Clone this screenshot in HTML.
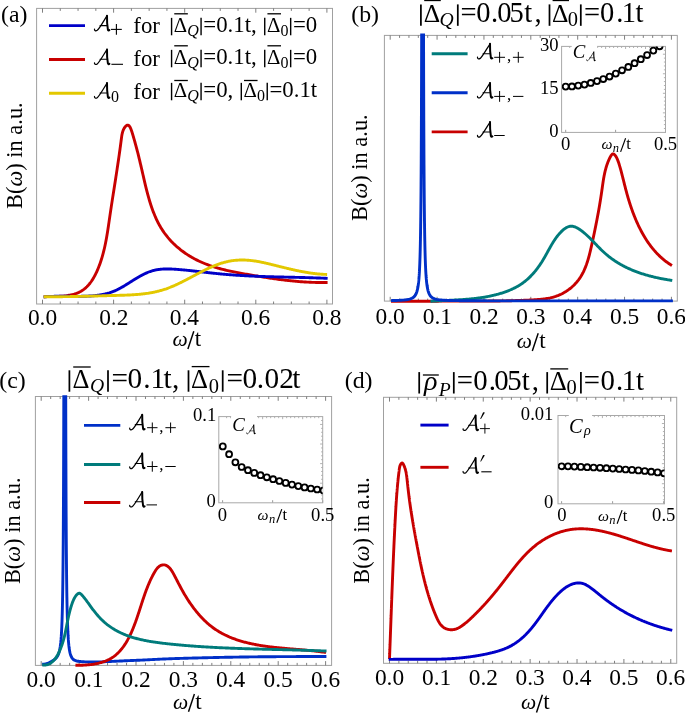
<!DOCTYPE html><html><head><meta charset="utf-8"><style>html,body{margin:0;padding:0;background:#fff;}svg{display:block;will-change:transform;}text{font-family:"Liberation Serif",serif;fill:#000;font-kerning:none;}</style></head><body><svg width="685" height="713" viewBox="0 0 685 713"><defs><clipPath id="ca"><rect x="37" y="9" width="295" height="294.5"/></clipPath><clipPath id="cb"><rect x="384.9" y="33.6" width="292" height="272"/></clipPath><clipPath id="cc"><rect x="35.9" y="395.2" width="295.2" height="274"/></clipPath><clipPath id="cd"><rect x="384" y="397.8" width="292.1" height="270"/></clipPath><clipPath id="ib"><rect x="561.6" y="46.4" width="103.9" height="86"/></clipPath><clipPath id="ic"><rect x="218.8" y="416.6" width="103.9" height="86.2"/></clipPath><clipPath id="id"><rect x="558" y="415.5" width="106.5" height="88.1"/></clipPath></defs>
<rect x="36.6" y="8.4" width="295.9" height="295.6" fill="none" stroke="#a0a0a0" stroke-width="1"/>
<line x1="60.28" y1="304" x2="60.28" y2="301.5" stroke="#707070" stroke-width="0.9"/>
<line x1="60.28" y1="8.4" x2="60.28" y2="10.9" stroke="#707070" stroke-width="0.9"/>
<line x1="78.05" y1="304" x2="78.05" y2="301.5" stroke="#707070" stroke-width="0.9"/>
<line x1="78.05" y1="8.4" x2="78.05" y2="10.9" stroke="#707070" stroke-width="0.9"/>
<line x1="95.83" y1="304" x2="95.83" y2="301.5" stroke="#707070" stroke-width="0.9"/>
<line x1="95.83" y1="8.4" x2="95.83" y2="10.9" stroke="#707070" stroke-width="0.9"/>
<line x1="131.38" y1="304" x2="131.38" y2="301.5" stroke="#707070" stroke-width="0.9"/>
<line x1="131.38" y1="8.4" x2="131.38" y2="10.9" stroke="#707070" stroke-width="0.9"/>
<line x1="149.15" y1="304" x2="149.15" y2="301.5" stroke="#707070" stroke-width="0.9"/>
<line x1="149.15" y1="8.4" x2="149.15" y2="10.9" stroke="#707070" stroke-width="0.9"/>
<line x1="166.93" y1="304" x2="166.93" y2="301.5" stroke="#707070" stroke-width="0.9"/>
<line x1="166.93" y1="8.4" x2="166.93" y2="10.9" stroke="#707070" stroke-width="0.9"/>
<line x1="202.47" y1="304" x2="202.47" y2="301.5" stroke="#707070" stroke-width="0.9"/>
<line x1="202.47" y1="8.4" x2="202.47" y2="10.9" stroke="#707070" stroke-width="0.9"/>
<line x1="220.25" y1="304" x2="220.25" y2="301.5" stroke="#707070" stroke-width="0.9"/>
<line x1="220.25" y1="8.4" x2="220.25" y2="10.9" stroke="#707070" stroke-width="0.9"/>
<line x1="238.03" y1="304" x2="238.03" y2="301.5" stroke="#707070" stroke-width="0.9"/>
<line x1="238.03" y1="8.4" x2="238.03" y2="10.9" stroke="#707070" stroke-width="0.9"/>
<line x1="273.58" y1="304" x2="273.58" y2="301.5" stroke="#707070" stroke-width="0.9"/>
<line x1="273.58" y1="8.4" x2="273.58" y2="10.9" stroke="#707070" stroke-width="0.9"/>
<line x1="291.35" y1="304" x2="291.35" y2="301.5" stroke="#707070" stroke-width="0.9"/>
<line x1="291.35" y1="8.4" x2="291.35" y2="10.9" stroke="#707070" stroke-width="0.9"/>
<line x1="309.12" y1="304" x2="309.12" y2="301.5" stroke="#707070" stroke-width="0.9"/>
<line x1="309.12" y1="8.4" x2="309.12" y2="10.9" stroke="#707070" stroke-width="0.9"/>
<line x1="42.5" y1="304" x2="42.5" y2="299.7" stroke="#707070" stroke-width="0.9"/>
<line x1="42.5" y1="8.4" x2="42.5" y2="12.7" stroke="#707070" stroke-width="0.9"/>
<line x1="113.6" y1="304" x2="113.6" y2="299.7" stroke="#707070" stroke-width="0.9"/>
<line x1="113.6" y1="8.4" x2="113.6" y2="12.7" stroke="#707070" stroke-width="0.9"/>
<line x1="184.7" y1="304" x2="184.7" y2="299.7" stroke="#707070" stroke-width="0.9"/>
<line x1="184.7" y1="8.4" x2="184.7" y2="12.7" stroke="#707070" stroke-width="0.9"/>
<line x1="255.8" y1="304" x2="255.8" y2="299.7" stroke="#707070" stroke-width="0.9"/>
<line x1="255.8" y1="8.4" x2="255.8" y2="12.7" stroke="#707070" stroke-width="0.9"/>
<line x1="326.9" y1="304" x2="326.9" y2="299.7" stroke="#707070" stroke-width="0.9"/>
<line x1="326.9" y1="8.4" x2="326.9" y2="12.7" stroke="#707070" stroke-width="0.9"/>
<text x="27.88" y="325.3" style="font-size:23.4px;" >0.0</text>
<text x="99.17" y="325.3" style="font-size:23.4px;" >0.2</text>
<text x="169.81" y="325.3" style="font-size:23.4px;" >0.4</text>
<text x="241.08" y="325.3" style="font-size:23.4px;" >0.6</text>
<text x="312.28" y="325.3" style="font-size:23.4px;" >0.8</text>
<text x="172.39" y="345.7" style="font-size:21.5px;font-style:italic;" >ω</text>
<line x1="193.8" y1="331.3" x2="187.9" y2="349" stroke="#000" stroke-width="1.45"/>
<text x="194.77" y="345.7" style="font-size:23px;" >t</text>
<text transform="translate(21.6,155.6) rotate(-90)" text-anchor="middle" style="font-size:22.4px">B(<tspan style="font-style:italic">ω</tspan>) in a.u.</text>
<text x="1" y="21.9" style="font-size:23.8px;" >(a)</text>
<line x1="49" y1="25.6" x2="85" y2="25.6" stroke="#0000c8" stroke-width="2.9"/>
<g transform="translate(94,30.7) scale(1)" fill="none" stroke="#000" stroke-linecap="round"><path d="M0.5,-1.6 C0.2,-0.2 1.6,0.6 3.2,-0.4 C5.5,-2.2 9.5,-9.5 13.0,-15.0" stroke-width="1.25"/><path d="M13.0,-15.0 C12.9,-10.5 13.3,-4.5 13.9,-1.0 C14.1,0.0 14.9,0.0 15.4,-0.6" stroke-width="2.0"/><path d="M6.0,-5.1 L13.3,-5.1" stroke-width="1.05"/></g>
<line x1="111" y1="29.4" x2="121.8" y2="29.4" stroke="#000" stroke-width="1.1"/>
<line x1="116.4" y1="24" x2="116.4" y2="34.8" stroke="#000" stroke-width="1.1"/>
<text x="133.3" y="32.5" style="font-size:22.8px;" >for</text>
<line x1="49" y1="59.5" x2="85" y2="59.5" stroke="#c80000" stroke-width="2.9"/>
<g transform="translate(94,64.4) scale(1)" fill="none" stroke="#000" stroke-linecap="round"><path d="M0.5,-1.6 C0.2,-0.2 1.6,0.6 3.2,-0.4 C5.5,-2.2 9.5,-9.5 13.0,-15.0" stroke-width="1.25"/><path d="M13.0,-15.0 C12.9,-10.5 13.3,-4.5 13.9,-1.0 C14.1,0.0 14.9,0.0 15.4,-0.6" stroke-width="2.0"/><path d="M6.0,-5.1 L13.3,-5.1" stroke-width="1.05"/></g>
<line x1="111.4" y1="64.3" x2="123" y2="64.3" stroke="#000" stroke-width="1.1"/>
<text x="133.3" y="66.1" style="font-size:22.8px;" >for</text>
<line x1="49" y1="93.3" x2="85" y2="93.3" stroke="#e3c800" stroke-width="2.9"/>
<g transform="translate(94,98.1) scale(1)" fill="none" stroke="#000" stroke-linecap="round"><path d="M0.5,-1.6 C0.2,-0.2 1.6,0.6 3.2,-0.4 C5.5,-2.2 9.5,-9.5 13.0,-15.0" stroke-width="1.25"/><path d="M13.0,-15.0 C12.9,-10.5 13.3,-4.5 13.9,-1.0 C14.1,0.0 14.9,0.0 15.4,-0.6" stroke-width="2.0"/><path d="M6.0,-5.1 L13.3,-5.1" stroke-width="1.05"/></g>
<text x="111.1" y="101.9" style="font-size:16px;" >0</text>
<text x="133.3" y="99.2" style="font-size:22.8px;" >for</text>
<line x1="171.58" y1="17.85" x2="171.58" y2="35.29" stroke="#000" stroke-width="1.41"/>
<text x="173.86" y="32.1" style="font-size:20.8px;" >Δ</text>
<line x1="174.26" y1="13.8" x2="187.84" y2="13.8" stroke="#000" stroke-width="1.3"/>
<text x="187.24" y="35.5" style="font-size:16px;font-style:italic;" >Q</text>
<line x1="201.07" y1="17.85" x2="201.07" y2="35.29" stroke="#000" stroke-width="1.41"/>
<text x="203.36" y="32.1" style="font-size:22.8px;" >=0.1t, </text>
<line x1="264.73" y1="17.85" x2="264.73" y2="35.29" stroke="#000" stroke-width="1.41"/>
<text x="267.02" y="32.1" style="font-size:20.8px;" >Δ</text>
<line x1="267.42" y1="13.8" x2="280.99" y2="13.8" stroke="#000" stroke-width="1.3"/>
<text x="280.39" y="35.5" style="font-size:16px;" >0</text>
<line x1="290.67" y1="17.85" x2="290.67" y2="35.29" stroke="#000" stroke-width="1.41"/>
<text x="292.96" y="32.1" style="font-size:22.8px;" >=0</text>
<line x1="171.58" y1="49.85" x2="171.58" y2="67.29" stroke="#000" stroke-width="1.41"/>
<text x="173.86" y="64.1" style="font-size:20.8px;" >Δ</text>
<line x1="174.26" y1="45.8" x2="187.84" y2="45.8" stroke="#000" stroke-width="1.3"/>
<text x="187.24" y="67.5" style="font-size:16px;font-style:italic;" >Q</text>
<line x1="201.07" y1="49.85" x2="201.07" y2="67.29" stroke="#000" stroke-width="1.41"/>
<text x="203.36" y="64.1" style="font-size:22.8px;" >=0.1t, </text>
<line x1="264.73" y1="49.85" x2="264.73" y2="67.29" stroke="#000" stroke-width="1.41"/>
<text x="267.02" y="64.1" style="font-size:20.8px;" >Δ</text>
<line x1="267.42" y1="45.8" x2="280.99" y2="45.8" stroke="#000" stroke-width="1.3"/>
<text x="280.39" y="67.5" style="font-size:16px;" >0</text>
<line x1="290.67" y1="49.85" x2="290.67" y2="67.29" stroke="#000" stroke-width="1.41"/>
<text x="292.96" y="64.1" style="font-size:22.8px;" >=0</text>
<line x1="171.58" y1="82.85" x2="171.58" y2="100.29" stroke="#000" stroke-width="1.41"/>
<text x="173.86" y="97.1" style="font-size:20.8px;" >Δ</text>
<line x1="174.26" y1="80.5" x2="187.84" y2="80.5" stroke="#000" stroke-width="1.3"/>
<text x="187.24" y="100.5" style="font-size:16px;font-style:italic;" >Q</text>
<line x1="201.07" y1="82.85" x2="201.07" y2="100.29" stroke="#000" stroke-width="1.41"/>
<text x="203.36" y="97.1" style="font-size:22.8px;" >=0, </text>
<line x1="241.3" y1="82.85" x2="241.3" y2="100.29" stroke="#000" stroke-width="1.41"/>
<text x="243.58" y="97.1" style="font-size:20.8px;" >Δ</text>
<line x1="243.98" y1="80.5" x2="257.56" y2="80.5" stroke="#000" stroke-width="1.3"/>
<text x="256.96" y="100.5" style="font-size:16px;" >0</text>
<line x1="267.24" y1="82.85" x2="267.24" y2="100.29" stroke="#000" stroke-width="1.41"/>
<text x="269.52" y="97.1" style="font-size:22.8px;" >=0.1t</text>
<path d="M43.76,296.75 L44.85,296.71 L45.98,296.67 L47.13,296.64 L48.32,296.62 L49.52,296.6 L50.76,296.58 L52.01,296.55 L53.28,296.53 L54.56,296.5 L55.86,296.46 L57.18,296.41 L58.49,296.36 L59.82,296.29 L61.15,296.2 L62.48,296.1 L63.82,295.98 L65.14,295.83 L66.47,295.67 L67.78,295.48 L69.09,295.26 L70.38,295.02 L71.66,294.74 L72.93,294.43 L74.17,294.09 L75.39,293.71 L76.59,293.29 L77.76,292.83 L78.9,292.33 L80.01,291.78 L81.09,291.19 L82.14,290.55 L83.15,289.86 L84.13,289.14 L85.08,288.37 L85.99,287.56 L86.88,286.72 L87.74,285.84 L88.57,284.92 L89.37,283.98 L90.14,283.01 L90.89,282 L91.61,280.98 L92.31,279.92 L92.99,278.85 L93.64,277.75 L94.27,276.64 L94.88,275.51 L95.47,274.36 L96.04,273.2 L96.59,272.04 L97.12,270.86 L97.64,269.67 L98.14,268.48 L98.62,267.28 L99.09,266.08 L99.54,264.88 L99.98,263.67 L100.4,262.46 L100.81,261.25 L101.21,260.03 L101.6,258.81 L101.97,257.59 L102.33,256.37 L102.67,255.14 L103.01,253.91 L103.34,252.67 L103.65,251.44 L103.96,250.2 L104.25,248.96 L104.54,247.72 L104.82,246.48 L105.08,245.23 L105.35,243.98 L105.6,242.73 L105.84,241.48 L106.08,240.23 L106.31,238.98 L106.54,237.73 L106.76,236.47 L106.97,235.22 L107.18,233.96 L107.39,232.7 L107.59,231.44 L107.79,230.19 L107.98,228.93 L108.17,227.67 L108.36,226.41 L108.55,225.15 L108.73,223.9 L108.92,222.64 L109.1,221.38 L109.28,220.13 L109.46,218.87 L109.65,217.62 L109.83,216.36 L110.01,215.11 L110.2,213.86 L110.38,212.61 L110.57,211.35 L110.76,210.11 L110.94,208.86 L111.13,207.61 L111.32,206.36 L111.51,205.11 L111.7,203.87 L111.9,202.62 L112.09,201.37 L112.28,200.13 L112.47,198.88 L112.67,197.64 L112.86,196.39 L113.06,195.15 L113.25,193.9 L113.45,192.65 L113.64,191.41 L113.84,190.16 L114.03,188.91 L114.23,187.67 L114.42,186.42 L114.62,185.17 L114.81,183.92 L115.01,182.67 L115.21,181.42 L115.4,180.17 L115.6,178.91 L115.79,177.66 L115.98,176.4 L116.18,175.15 L116.37,173.89 L116.57,172.63 L116.76,171.37 L116.95,170.11 L117.14,168.85 L117.33,167.58 L117.53,166.32 L117.72,165.05 L117.9,163.78 L118.09,162.51 L118.28,161.24 L118.47,159.96 L118.65,158.68 L118.84,157.4 L119.02,156.12 L119.21,154.84 L119.39,153.55 L119.57,152.26 L119.75,150.97 L119.93,149.68 L120.1,148.38 L120.28,147.08 L120.45,145.78 L120.63,144.48 L120.8,143.17 L120.97,141.86 L121.14,140.54 L121.31,139.23 L121.48,137.91 L121.66,136.61 L121.87,135.32 L122.11,134.05 L122.39,132.82 L122.72,131.63 L123.11,130.48 L123.57,129.39 L124.11,128.35 L124.73,127.39 L125.45,126.51 L126.24,125.76 L127.05,125.26 L127.83,125.11 L128.54,125.35 L129.2,125.93 L129.8,126.76 L130.35,127.78 L130.87,128.94 L131.35,130.2 L131.8,131.53 L132.23,132.9 L132.65,134.28 L133.06,135.64 L133.46,136.99 L133.85,138.32 L134.23,139.65 L134.6,140.95 L134.97,142.25 L135.32,143.53 L135.67,144.81 L136.02,146.07 L136.35,147.33 L136.68,148.57 L137.01,149.81 L137.33,151.04 L137.64,152.26 L137.95,153.48 L138.25,154.69 L138.55,155.89 L138.85,157.09 L139.14,158.29 L139.43,159.48 L139.71,160.67 L139.99,161.86 L140.27,163.05 L140.55,164.23 L140.83,165.42 L141.11,166.61 L141.38,167.79 L141.66,168.98 L141.93,170.17 L142.2,171.37 L142.48,172.57 L142.75,173.77 L143.03,174.98 L143.31,176.19 L143.59,177.41 L143.87,178.63 L144.16,179.87 L144.44,181.1 L144.73,182.34 L145.03,183.59 L145.32,184.84 L145.63,186.09 L145.93,187.35 L146.24,188.6 L146.56,189.86 L146.88,191.13 L147.21,192.39 L147.54,193.65 L147.88,194.92 L148.23,196.18 L148.58,197.44 L148.94,198.71 L149.31,199.97 L149.69,201.22 L150.08,202.48 L150.47,203.73 L150.88,204.98 L151.29,206.23 L151.71,207.47 L152.15,208.7 L152.59,209.93 L153.04,211.16 L153.51,212.38 L153.99,213.59 L154.48,214.79 L154.98,215.99 L155.49,217.18 L156.02,218.36 L156.56,219.53 L157.11,220.69 L157.68,221.84 L158.26,222.99 L158.86,224.12 L159.47,225.24 L160.1,226.34 L160.74,227.44 L161.4,228.52 L162.07,229.59 L162.76,230.65 L163.47,231.69 L164.19,232.72 L164.93,233.74 L165.68,234.74 L166.45,235.73 L167.23,236.71 L168.02,237.67 L168.84,238.62 L169.66,239.56 L170.5,240.48 L171.35,241.39 L172.22,242.29 L173.1,243.17 L173.99,244.04 L174.9,244.9 L175.81,245.74 L176.74,246.58 L177.69,247.39 L178.64,248.2 L179.6,248.99 L180.58,249.77 L181.57,250.53 L182.57,251.28 L183.58,252.02 L184.6,252.74 L185.63,253.46 L186.67,254.15 L187.72,254.84 L188.78,255.51 L189.85,256.17 L190.93,256.81 L192.02,257.44 L193.12,258.06 L194.22,258.67 L195.33,259.26 L196.46,259.84 L197.59,260.4 L198.72,260.95 L199.87,261.49 L201.02,262.02 L202.18,262.53 L203.34,263.03 L204.52,263.51 L205.69,263.98 L206.88,264.44 L208.07,264.89 L209.26,265.32 L210.47,265.75 L211.67,266.16 L212.88,266.56 L214.1,266.94 L215.32,267.32 L216.55,267.69 L217.78,268.05 L219.01,268.39 L220.25,268.73 L221.49,269.06 L222.73,269.38 L223.98,269.7 L225.23,270 L226.48,270.3 L227.74,270.59 L229,270.87 L230.26,271.15 L231.52,271.42 L232.78,271.68 L234.05,271.94 L235.31,272.19 L236.58,272.44 L237.85,272.69 L239.11,272.93 L240.38,273.16 L241.65,273.4 L242.92,273.62 L244.19,273.85 L245.46,274.08 L246.72,274.3 L247.99,274.52 L249.25,274.73 L250.52,274.95 L251.78,275.17 L253.04,275.38 L254.3,275.6 L255.56,275.81 L256.82,276.02 L258.07,276.23 L259.33,276.43 L260.58,276.64 L261.84,276.84 L263.09,277.04 L264.34,277.24 L265.59,277.44 L266.84,277.64 L268.1,277.83 L269.35,278.02 L270.6,278.21 L271.85,278.39 L273.09,278.57 L274.34,278.75 L275.59,278.93 L276.84,279.1 L278.09,279.27 L279.34,279.44 L280.59,279.6 L281.84,279.76 L283.09,279.92 L284.34,280.07 L285.59,280.22 L286.84,280.37 L288.09,280.51 L289.35,280.65 L290.6,280.78 L291.86,280.91 L293.11,281.04 L294.37,281.16 L295.62,281.27 L296.88,281.39 L298.14,281.49 L299.4,281.59 L300.66,281.69 L301.93,281.78 L303.19,281.87 L304.46,281.95 L305.73,282.03 L307,282.1 L308.27,282.17 L309.54,282.23 L310.82,282.28 L312.09,282.33 L313.37,282.38 L314.65,282.41 L315.94,282.44 L317.22,282.47 L318.51,282.49 L319.8,282.5 L321.09,282.51 L322.39,282.51 L323.68,282.5 L324.98,282.49 L326.29,282.46 L327.59,282.44" fill="none" stroke="#c80000" stroke-width="2.9" stroke-linejoin="round" clip-path="url(#ca)"/>
<path d="M43.56,296.95 L44.26,296.88 L44.96,296.82 L45.66,296.76 L46.36,296.7 L47.06,296.65 L47.77,296.6 L48.48,296.56 L49.19,296.52 L49.9,296.48 L50.62,296.45 L51.33,296.42 L52.05,296.39 L52.77,296.36 L53.49,296.34 L54.21,296.32 L54.94,296.31 L55.66,296.29 L56.39,296.28 L57.11,296.27 L57.84,296.26 L58.57,296.26 L59.3,296.25 L60.04,296.25 L60.77,296.25 L61.5,296.25 L62.24,296.25 L62.97,296.26 L63.71,296.26 L64.45,296.26 L65.19,296.27 L65.92,296.28 L66.66,296.28 L67.4,296.29 L68.14,296.3 L68.88,296.31 L69.63,296.31 L70.37,296.32 L71.11,296.33 L71.85,296.33 L72.59,296.34 L73.34,296.35 L74.08,296.35 L74.82,296.35 L75.56,296.36 L76.3,296.36 L77.05,296.36 L77.79,296.36 L78.53,296.35 L79.27,296.35 L80.01,296.34 L80.75,296.33 L81.49,296.32 L82.23,296.31 L82.97,296.3 L83.71,296.28 L84.45,296.26 L85.18,296.23 L85.92,296.21 L86.66,296.18 L87.39,296.15 L88.12,296.11 L88.86,296.07 L89.59,296.03 L90.32,295.99 L91.05,295.94 L91.78,295.88 L92.5,295.83 L93.23,295.76 L93.95,295.7 L94.68,295.63 L95.4,295.55 L96.12,295.47 L96.84,295.39 L97.55,295.3 L98.27,295.21 L98.98,295.11 L99.69,295 L100.4,294.89 L101.11,294.77 L101.82,294.65 L102.52,294.52 L103.22,294.38 L103.92,294.24 L104.62,294.09 L105.31,293.93 L106.01,293.77 L106.7,293.6 L107.39,293.42 L108.07,293.23 L108.76,293.03 L109.44,292.83 L110.12,292.61 L110.79,292.39 L111.47,292.16 L112.14,291.92 L112.8,291.67 L113.47,291.41 L114.13,291.14 L114.79,290.86 L115.45,290.57 L116.1,290.27 L116.75,289.96 L117.4,289.65 L118.05,289.32 L118.7,288.99 L119.34,288.66 L119.98,288.32 L120.62,287.97 L121.26,287.61 L121.9,287.25 L122.54,286.88 L123.17,286.51 L123.8,286.14 L124.44,285.76 L125.07,285.38 L125.7,284.99 L126.33,284.6 L126.96,284.21 L127.59,283.82 L128.22,283.42 L128.85,283.02 L129.48,282.63 L130.11,282.23 L130.74,281.83 L131.37,281.43 L132,281.03 L132.63,280.63 L133.26,280.24 L133.89,279.84 L134.53,279.45 L135.16,279.06 L135.79,278.67 L136.43,278.28 L137.07,277.9 L137.71,277.52 L138.35,277.15 L138.99,276.78 L139.63,276.41 L140.28,276.05 L140.92,275.69 L141.57,275.35 L142.22,275 L142.87,274.67 L143.52,274.34 L144.17,274.02 L144.83,273.7 L145.48,273.4 L146.14,273.1 L146.8,272.81 L147.46,272.53 L148.12,272.26 L148.78,272 L149.45,271.75 L150.12,271.51 L150.78,271.28 L151.45,271.07 L152.13,270.86 L152.8,270.67 L153.48,270.49 L154.15,270.32 L154.83,270.16 L155.51,270.01 L156.2,269.88 L156.88,269.75 L157.57,269.64 L158.25,269.53 L158.94,269.44 L159.63,269.35 L160.33,269.28 L161.02,269.21 L161.71,269.15 L162.41,269.1 L163.11,269.06 L163.81,269.02 L164.51,268.99 L165.21,268.97 L165.91,268.96 L166.62,268.95 L167.32,268.95 L168.03,268.96 L168.74,268.97 L169.45,268.98 L170.16,269 L170.87,269.03 L171.58,269.06 L172.3,269.09 L173.01,269.13 L173.73,269.17 L174.45,269.21 L175.16,269.26 L175.88,269.31 L176.6,269.36 L177.33,269.41 L178.05,269.47 L178.77,269.53 L179.49,269.59 L180.22,269.65 L180.94,269.71 L181.67,269.77 L182.4,269.84 L183.13,269.9 L183.85,269.97 L184.58,270.04 L185.31,270.11 L186.05,270.18 L186.78,270.25 L187.51,270.33 L188.24,270.4 L188.97,270.48 L189.71,270.55 L190.44,270.63 L191.18,270.71 L191.91,270.79 L192.65,270.87 L193.38,270.95 L194.12,271.03 L194.86,271.11 L195.59,271.19 L196.33,271.27 L197.07,271.36 L197.81,271.44 L198.55,271.52 L199.28,271.61 L200.02,271.69 L200.76,271.78 L201.5,271.86 L202.24,271.94 L202.98,272.03 L203.72,272.11 L204.46,272.2 L205.2,272.28 L205.94,272.37 L206.68,272.45 L207.42,272.53 L208.16,272.62 L208.9,272.7 L209.63,272.78 L210.37,272.86 L211.11,272.95 L211.85,273.03 L212.59,273.11 L213.33,273.19 L214.07,273.27 L214.81,273.34 L215.54,273.42 L216.28,273.5 L217.02,273.57 L217.75,273.65 L218.49,273.72 L219.23,273.8 L219.96,273.87 L220.7,273.94 L221.43,274.01 L222.17,274.08 L222.9,274.14 L223.63,274.21 L224.37,274.27 L225.1,274.34 L225.83,274.4 L226.56,274.46 L227.29,274.52 L228.02,274.58 L228.75,274.64 L229.48,274.7 L230.21,274.76 L230.94,274.81 L231.67,274.87 L232.4,274.92 L233.13,274.97 L233.86,275.03 L234.58,275.08 L235.31,275.13 L236.04,275.18 L236.77,275.23 L237.49,275.27 L238.22,275.32 L238.94,275.37 L239.67,275.41 L240.39,275.45 L241.12,275.5 L241.84,275.54 L242.57,275.58 L243.29,275.62 L244.02,275.66 L244.74,275.7 L245.47,275.74 L246.19,275.78 L246.91,275.82 L247.64,275.85 L248.36,275.89 L249.08,275.93 L249.8,275.96 L250.53,276 L251.25,276.03 L251.97,276.06 L252.69,276.09 L253.41,276.12 L254.14,276.16 L254.86,276.19 L255.58,276.22 L256.3,276.25 L257.02,276.27 L257.74,276.3 L258.46,276.33 L259.18,276.36 L259.91,276.38 L260.63,276.41 L261.35,276.44 L262.07,276.46 L262.79,276.49 L263.51,276.51 L264.23,276.53 L264.95,276.56 L265.67,276.58 L266.39,276.6 L267.11,276.63 L267.83,276.65 L268.55,276.67 L269.27,276.69 L270,276.71 L270.72,276.73 L271.44,276.75 L272.16,276.77 L272.88,276.79 L273.6,276.81 L274.32,276.83 L275.04,276.85 L275.76,276.87 L276.48,276.89 L277.21,276.91 L277.93,276.93 L278.65,276.94 L279.37,276.96 L280.09,276.98 L280.81,277 L281.54,277.01 L282.26,277.03 L282.98,277.05 L283.7,277.07 L284.43,277.08 L285.15,277.1 L285.87,277.12 L286.6,277.13 L287.32,277.15 L288.04,277.17 L288.77,277.18 L289.49,277.2 L290.22,277.22 L290.94,277.23 L291.67,277.25 L292.39,277.27 L293.12,277.28 L293.84,277.3 L294.57,277.32 L295.29,277.34 L296.02,277.35 L296.75,277.37 L297.47,277.39 L298.2,277.41 L298.93,277.42 L299.66,277.44 L300.39,277.46 L301.12,277.48 L301.84,277.5 L302.57,277.51 L303.3,277.53 L304.03,277.55 L304.76,277.57 L305.5,277.59 L306.23,277.61 L306.96,277.63 L307.69,277.65 L308.42,277.67 L309.16,277.69 L309.89,277.72 L310.62,277.74 L311.36,277.76 L312.09,277.78 L312.83,277.81 L313.56,277.83 L314.3,277.85 L315.04,277.88 L315.77,277.9 L316.51,277.93 L317.25,277.95 L317.99,277.98 L318.72,278 L319.46,278.03 L320.2,278.06 L320.95,278.09 L321.69,278.12 L322.43,278.14 L323.17,278.17 L323.91,278.2 L324.66,278.23 L325.4,278.27 L326.14,278.3 L326.89,278.33 L327.64,278.36" fill="none" stroke="#0000c8" stroke-width="2.9" stroke-linejoin="round" clip-path="url(#ca)"/>
<path d="M43.58,296.71 L44.29,296.72 L45.01,296.72 L45.73,296.73 L46.45,296.73 L47.16,296.73 L47.88,296.74 L48.6,296.74 L49.32,296.74 L50.05,296.74 L50.77,296.74 L51.49,296.74 L52.21,296.74 L52.94,296.74 L53.66,296.74 L54.39,296.73 L55.11,296.73 L55.84,296.73 L56.56,296.72 L57.29,296.72 L58.02,296.71 L58.75,296.71 L59.47,296.7 L60.2,296.7 L60.93,296.69 L61.66,296.68 L62.39,296.68 L63.12,296.67 L63.85,296.66 L64.59,296.65 L65.32,296.64 L66.05,296.63 L66.78,296.62 L67.52,296.61 L68.25,296.6 L68.98,296.59 L69.72,296.58 L70.45,296.57 L71.19,296.55 L71.92,296.54 L72.66,296.53 L73.39,296.51 L74.13,296.5 L74.86,296.49 L75.6,296.47 L76.34,296.46 L77.08,296.44 L77.81,296.43 L78.55,296.41 L79.29,296.4 L80.03,296.38 L80.76,296.37 L81.5,296.35 L82.24,296.33 L82.98,296.32 L83.72,296.3 L84.46,296.28 L85.2,296.26 L85.93,296.25 L86.67,296.23 L87.41,296.21 L88.15,296.19 L88.89,296.17 L89.63,296.16 L90.37,296.14 L91.11,296.12 L91.85,296.1 L92.59,296.08 L93.33,296.06 L94.07,296.04 L94.81,296.02 L95.55,296 L96.29,295.98 L97.03,295.96 L97.77,295.94 L98.51,295.92 L99.25,295.9 L99.99,295.88 L100.73,295.86 L101.47,295.84 L102.21,295.82 L102.94,295.8 L103.68,295.78 L104.42,295.76 L105.16,295.74 L105.9,295.72 L106.64,295.69 L107.38,295.67 L108.11,295.65 L108.85,295.63 L109.59,295.61 L110.33,295.59 L111.07,295.57 L111.8,295.55 L112.54,295.53 L113.28,295.51 L114.01,295.49 L114.75,295.47 L115.48,295.45 L116.22,295.43 L116.95,295.41 L117.69,295.39 L118.42,295.36 L119.16,295.34 L119.89,295.32 L120.63,295.3 L121.36,295.28 L122.09,295.25 L122.82,295.23 L123.56,295.21 L124.29,295.18 L125.02,295.15 L125.75,295.13 L126.48,295.1 L127.21,295.07 L127.94,295.03 L128.67,295 L129.39,294.97 L130.12,294.93 L130.85,294.89 L131.58,294.85 L132.3,294.81 L133.03,294.76 L133.75,294.72 L134.48,294.67 L135.2,294.62 L135.93,294.57 L136.65,294.51 L137.37,294.45 L138.09,294.39 L138.81,294.33 L139.53,294.26 L140.25,294.19 L140.97,294.12 L141.69,294.05 L142.41,293.97 L143.13,293.89 L143.84,293.8 L144.56,293.71 L145.27,293.62 L145.99,293.53 L146.7,293.43 L147.41,293.32 L148.12,293.22 L148.84,293.1 L149.55,292.99 L150.25,292.87 L150.96,292.75 L151.67,292.62 L152.38,292.49 L153.08,292.35 L153.79,292.21 L154.49,292.06 L155.2,291.91 L155.9,291.76 L156.6,291.6 L157.3,291.43 L158,291.26 L158.7,291.08 L159.4,290.9 L160.1,290.71 L160.79,290.52 L161.49,290.32 L162.18,290.12 L162.87,289.91 L163.57,289.7 L164.26,289.47 L164.95,289.25 L165.63,289.01 L166.32,288.78 L167.01,288.53 L167.7,288.28 L168.38,288.02 L169.06,287.76 L169.75,287.5 L170.43,287.23 L171.11,286.95 L171.79,286.67 L172.47,286.38 L173.15,286.09 L173.83,285.8 L174.51,285.5 L175.18,285.2 L175.86,284.89 L176.53,284.58 L177.21,284.27 L177.88,283.95 L178.56,283.63 L179.23,283.31 L179.9,282.98 L180.57,282.66 L181.24,282.33 L181.91,281.99 L182.59,281.66 L183.25,281.32 L183.92,280.98 L184.59,280.63 L185.26,280.29 L185.93,279.95 L186.6,279.6 L187.26,279.25 L187.93,278.9 L188.6,278.55 L189.27,278.2 L189.93,277.85 L190.6,277.5 L191.26,277.14 L191.93,276.79 L192.6,276.44 L193.26,276.08 L193.93,275.73 L194.59,275.38 L195.26,275.02 L195.92,274.67 L196.59,274.32 L197.25,273.97 L197.92,273.62 L198.58,273.27 L199.25,272.93 L199.91,272.58 L200.58,272.24 L201.25,271.9 L201.91,271.56 L202.58,271.22 L203.24,270.89 L203.91,270.55 L204.58,270.22 L205.24,269.9 L205.91,269.57 L206.58,269.25 L207.25,268.93 L207.91,268.62 L208.58,268.3 L209.25,268 L209.92,267.69 L210.59,267.39 L211.26,267.09 L211.93,266.8 L212.6,266.51 L213.28,266.23 L213.95,265.95 L214.62,265.67 L215.3,265.4 L215.97,265.14 L216.65,264.88 L217.32,264.63 L218,264.38 L218.67,264.14 L219.35,263.9 L220.03,263.67 L220.71,263.44 L221.39,263.22 L222.07,263.01 L222.75,262.81 L223.44,262.61 L224.12,262.41 L224.8,262.23 L225.49,262.05 L226.18,261.88 L226.86,261.72 L227.55,261.56 L228.24,261.41 L228.93,261.27 L229.62,261.14 L230.32,261.01 L231.01,260.9 L231.7,260.79 L232.4,260.68 L233.1,260.59 L233.79,260.5 L234.49,260.42 L235.19,260.35 L235.89,260.29 L236.59,260.23 L237.29,260.18 L238,260.13 L238.7,260.1 L239.41,260.07 L240.11,260.04 L240.82,260.03 L241.52,260.02 L242.23,260.02 L242.94,260.02 L243.65,260.03 L244.36,260.05 L245.07,260.07 L245.78,260.1 L246.49,260.14 L247.21,260.18 L247.92,260.23 L248.63,260.29 L249.35,260.35 L250.06,260.41 L250.78,260.49 L251.5,260.57 L252.21,260.65 L252.93,260.74 L253.65,260.84 L254.37,260.94 L255.09,261.04 L255.81,261.16 L256.53,261.27 L257.25,261.39 L257.97,261.52 L258.69,261.65 L259.41,261.79 L260.14,261.93 L260.86,262.07 L261.58,262.21 L262.31,262.36 L263.03,262.52 L263.75,262.67 L264.48,262.83 L265.2,263 L265.93,263.16 L266.65,263.33 L267.38,263.5 L268.11,263.67 L268.83,263.84 L269.56,264.02 L270.29,264.19 L271.01,264.37 L271.74,264.55 L272.47,264.73 L273.19,264.91 L273.92,265.09 L274.65,265.27 L275.38,265.45 L276.11,265.63 L276.83,265.81 L277.56,265.99 L278.29,266.18 L279.02,266.36 L279.75,266.54 L280.47,266.72 L281.2,266.9 L281.93,267.08 L282.66,267.26 L283.39,267.43 L284.11,267.61 L284.84,267.79 L285.57,267.96 L286.3,268.14 L287.03,268.31 L287.75,268.49 L288.48,268.66 L289.21,268.83 L289.93,269 L290.66,269.17 L291.39,269.34 L292.11,269.5 L292.84,269.67 L293.56,269.83 L294.29,269.99 L295.02,270.15 L295.74,270.31 L296.46,270.46 L297.19,270.62 L297.91,270.77 L298.64,270.92 L299.36,271.06 L300.08,271.21 L300.8,271.35 L301.53,271.49 L302.25,271.63 L302.97,271.77 L303.69,271.9 L304.41,272.03 L305.13,272.16 L305.85,272.29 L306.57,272.41 L307.29,272.53 L308,272.65 L308.72,272.76 L309.44,272.87 L310.15,272.98 L310.87,273.08 L311.58,273.19 L312.3,273.28 L313.01,273.38 L313.72,273.47 L314.43,273.56 L315.14,273.64 L315.85,273.72 L316.56,273.8 L317.27,273.87 L317.98,273.94 L318.69,274 L319.4,274.06 L320.1,274.12 L320.81,274.17 L321.51,274.22 L322.21,274.26 L322.92,274.3 L323.62,274.34 L324.32,274.37 L325.02,274.39 L325.72,274.41 L326.42,274.43 L327.11,274.44" fill="none" stroke="#e3c800" stroke-width="2.9" stroke-linejoin="round" clip-path="url(#ca)"/>
<rect x="384.4" y="35.4" width="292.9" height="265.7" fill="none" stroke="#a0a0a0" stroke-width="1"/>
<line x1="399.57" y1="301.1" x2="399.57" y2="298.6" stroke="#707070" stroke-width="0.9"/>
<line x1="399.57" y1="35.4" x2="399.57" y2="37.9" stroke="#707070" stroke-width="0.9"/>
<line x1="408.95" y1="301.1" x2="408.95" y2="298.6" stroke="#707070" stroke-width="0.9"/>
<line x1="408.95" y1="35.4" x2="408.95" y2="37.9" stroke="#707070" stroke-width="0.9"/>
<line x1="418.32" y1="301.1" x2="418.32" y2="298.6" stroke="#707070" stroke-width="0.9"/>
<line x1="418.32" y1="35.4" x2="418.32" y2="37.9" stroke="#707070" stroke-width="0.9"/>
<line x1="427.7" y1="301.1" x2="427.7" y2="298.6" stroke="#707070" stroke-width="0.9"/>
<line x1="427.7" y1="35.4" x2="427.7" y2="37.9" stroke="#707070" stroke-width="0.9"/>
<line x1="446.44" y1="301.1" x2="446.44" y2="298.6" stroke="#707070" stroke-width="0.9"/>
<line x1="446.44" y1="35.4" x2="446.44" y2="37.9" stroke="#707070" stroke-width="0.9"/>
<line x1="455.82" y1="301.1" x2="455.82" y2="298.6" stroke="#707070" stroke-width="0.9"/>
<line x1="455.82" y1="35.4" x2="455.82" y2="37.9" stroke="#707070" stroke-width="0.9"/>
<line x1="465.19" y1="301.1" x2="465.19" y2="298.6" stroke="#707070" stroke-width="0.9"/>
<line x1="465.19" y1="35.4" x2="465.19" y2="37.9" stroke="#707070" stroke-width="0.9"/>
<line x1="474.57" y1="301.1" x2="474.57" y2="298.6" stroke="#707070" stroke-width="0.9"/>
<line x1="474.57" y1="35.4" x2="474.57" y2="37.9" stroke="#707070" stroke-width="0.9"/>
<line x1="493.31" y1="301.1" x2="493.31" y2="298.6" stroke="#707070" stroke-width="0.9"/>
<line x1="493.31" y1="35.4" x2="493.31" y2="37.9" stroke="#707070" stroke-width="0.9"/>
<line x1="502.69" y1="301.1" x2="502.69" y2="298.6" stroke="#707070" stroke-width="0.9"/>
<line x1="502.69" y1="35.4" x2="502.69" y2="37.9" stroke="#707070" stroke-width="0.9"/>
<line x1="512.06" y1="301.1" x2="512.06" y2="298.6" stroke="#707070" stroke-width="0.9"/>
<line x1="512.06" y1="35.4" x2="512.06" y2="37.9" stroke="#707070" stroke-width="0.9"/>
<line x1="521.44" y1="301.1" x2="521.44" y2="298.6" stroke="#707070" stroke-width="0.9"/>
<line x1="521.44" y1="35.4" x2="521.44" y2="37.9" stroke="#707070" stroke-width="0.9"/>
<line x1="540.18" y1="301.1" x2="540.18" y2="298.6" stroke="#707070" stroke-width="0.9"/>
<line x1="540.18" y1="35.4" x2="540.18" y2="37.9" stroke="#707070" stroke-width="0.9"/>
<line x1="549.56" y1="301.1" x2="549.56" y2="298.6" stroke="#707070" stroke-width="0.9"/>
<line x1="549.56" y1="35.4" x2="549.56" y2="37.9" stroke="#707070" stroke-width="0.9"/>
<line x1="558.93" y1="301.1" x2="558.93" y2="298.6" stroke="#707070" stroke-width="0.9"/>
<line x1="558.93" y1="35.4" x2="558.93" y2="37.9" stroke="#707070" stroke-width="0.9"/>
<line x1="568.31" y1="301.1" x2="568.31" y2="298.6" stroke="#707070" stroke-width="0.9"/>
<line x1="568.31" y1="35.4" x2="568.31" y2="37.9" stroke="#707070" stroke-width="0.9"/>
<line x1="587.05" y1="301.1" x2="587.05" y2="298.6" stroke="#707070" stroke-width="0.9"/>
<line x1="587.05" y1="35.4" x2="587.05" y2="37.9" stroke="#707070" stroke-width="0.9"/>
<line x1="596.43" y1="301.1" x2="596.43" y2="298.6" stroke="#707070" stroke-width="0.9"/>
<line x1="596.43" y1="35.4" x2="596.43" y2="37.9" stroke="#707070" stroke-width="0.9"/>
<line x1="605.8" y1="301.1" x2="605.8" y2="298.6" stroke="#707070" stroke-width="0.9"/>
<line x1="605.8" y1="35.4" x2="605.8" y2="37.9" stroke="#707070" stroke-width="0.9"/>
<line x1="615.18" y1="301.1" x2="615.18" y2="298.6" stroke="#707070" stroke-width="0.9"/>
<line x1="615.18" y1="35.4" x2="615.18" y2="37.9" stroke="#707070" stroke-width="0.9"/>
<line x1="633.92" y1="301.1" x2="633.92" y2="298.6" stroke="#707070" stroke-width="0.9"/>
<line x1="633.92" y1="35.4" x2="633.92" y2="37.9" stroke="#707070" stroke-width="0.9"/>
<line x1="643.3" y1="301.1" x2="643.3" y2="298.6" stroke="#707070" stroke-width="0.9"/>
<line x1="643.3" y1="35.4" x2="643.3" y2="37.9" stroke="#707070" stroke-width="0.9"/>
<line x1="652.67" y1="301.1" x2="652.67" y2="298.6" stroke="#707070" stroke-width="0.9"/>
<line x1="652.67" y1="35.4" x2="652.67" y2="37.9" stroke="#707070" stroke-width="0.9"/>
<line x1="662.05" y1="301.1" x2="662.05" y2="298.6" stroke="#707070" stroke-width="0.9"/>
<line x1="662.05" y1="35.4" x2="662.05" y2="37.9" stroke="#707070" stroke-width="0.9"/>
<line x1="390.2" y1="301.1" x2="390.2" y2="296.8" stroke="#707070" stroke-width="0.9"/>
<line x1="390.2" y1="35.4" x2="390.2" y2="39.7" stroke="#707070" stroke-width="0.9"/>
<line x1="437.07" y1="301.1" x2="437.07" y2="296.8" stroke="#707070" stroke-width="0.9"/>
<line x1="437.07" y1="35.4" x2="437.07" y2="39.7" stroke="#707070" stroke-width="0.9"/>
<line x1="483.94" y1="301.1" x2="483.94" y2="296.8" stroke="#707070" stroke-width="0.9"/>
<line x1="483.94" y1="35.4" x2="483.94" y2="39.7" stroke="#707070" stroke-width="0.9"/>
<line x1="530.81" y1="301.1" x2="530.81" y2="296.8" stroke="#707070" stroke-width="0.9"/>
<line x1="530.81" y1="35.4" x2="530.81" y2="39.7" stroke="#707070" stroke-width="0.9"/>
<line x1="577.68" y1="301.1" x2="577.68" y2="296.8" stroke="#707070" stroke-width="0.9"/>
<line x1="577.68" y1="35.4" x2="577.68" y2="39.7" stroke="#707070" stroke-width="0.9"/>
<line x1="624.55" y1="301.1" x2="624.55" y2="296.8" stroke="#707070" stroke-width="0.9"/>
<line x1="624.55" y1="35.4" x2="624.55" y2="39.7" stroke="#707070" stroke-width="0.9"/>
<line x1="671.42" y1="301.1" x2="671.42" y2="296.8" stroke="#707070" stroke-width="0.9"/>
<line x1="671.42" y1="35.4" x2="671.42" y2="39.7" stroke="#707070" stroke-width="0.9"/>
<text x="375.57" y="323.8" style="font-size:23.4px;" >0.0</text>
<text x="422.7" y="323.8" style="font-size:23.4px;" >0.1</text>
<text x="469.51" y="323.8" style="font-size:23.4px;" >0.2</text>
<text x="516.2" y="323.8" style="font-size:23.4px;" >0.3</text>
<text x="562.79" y="323.8" style="font-size:23.4px;" >0.4</text>
<text x="609.94" y="323.8" style="font-size:23.4px;" >0.5</text>
<text x="656.7" y="323.8" style="font-size:23.4px;" >0.6</text>
<text x="516.79" y="347.6" style="font-size:21.5px;font-style:italic;" >ω</text>
<line x1="538.2" y1="333.2" x2="532.3" y2="350.9" stroke="#000" stroke-width="1.45"/>
<text x="539.17" y="347.6" style="font-size:23px;" >t</text>
<text transform="translate(366.5,167.6) rotate(-90)" text-anchor="middle" style="font-size:22.4px">B(<tspan style="font-style:italic">ω</tspan>) in a.u.</text>
<text x="351.3" y="21.6" style="font-size:23.8px;" >(b)</text>
<line x1="420.9" y1="4.4" x2="420.9" y2="25.82" stroke="#000" stroke-width="1.74"/>
<text x="423.63" y="21.9" style="font-size:25.5px;" >Δ</text>
<line x1="424.2" y1="0.5" x2="440.8" y2="0.5" stroke="#000" stroke-width="1.3"/>
<text x="439.52" y="26.1" style="font-size:19.6px;font-style:italic;" >Q</text>
<line x1="457.8" y1="4.4" x2="457.8" y2="25.82" stroke="#000" stroke-width="1.74"/>
<text x="460.48" y="21.9" style="font-size:28.5px;" >=</text>
<text x="476.21" y="21.9" style="font-size:28.5px;" >0</text>
<text x="491.04" y="21.9" style="font-size:28.5px;" >.</text>
<text x="497.21" y="21.9" style="font-size:28.5px;" >0</text>
<text x="509.54" y="21.9" style="font-size:28.5px;" >5</text>
<text x="524.22" y="21.9" style="font-size:28.5px;" >t</text>
<text x="534.39" y="21.9" style="font-size:28.5px;" >,</text>
<line x1="549.5" y1="4.4" x2="549.5" y2="25.82" stroke="#000" stroke-width="1.74"/>
<text x="552.03" y="21.9" style="font-size:25.5px;" >Δ</text>
<line x1="552.6" y1="0.5" x2="569" y2="0.5" stroke="#000" stroke-width="1.3"/>
<text x="567.72" y="26.3" style="font-size:20.5px;" >0</text>
<line x1="580.8" y1="4.4" x2="580.8" y2="25.82" stroke="#000" stroke-width="1.74"/>
<text x="584.08" y="21.9" style="font-size:28.5px;" >=</text>
<text x="600.01" y="21.9" style="font-size:28.5px;" >0</text>
<text x="616.14" y="21.9" style="font-size:28.5px;" >.</text>
<text x="621.8" y="21.9" style="font-size:28.5px;" >1</text>
<text x="635.62" y="21.9" style="font-size:28.5px;" >t</text>
<line x1="431.7" y1="53.7" x2="467.6" y2="53.7" stroke="#007b7b" stroke-width="2.9"/>
<g transform="translate(477,58.8) scale(1)" fill="none" stroke="#000" stroke-linecap="round"><path d="M0.5,-1.6 C0.2,-0.2 1.6,0.6 3.2,-0.4 C5.5,-2.2 9.5,-9.5 13.0,-15.0" stroke-width="1.25"/><path d="M13.0,-15.0 C12.9,-10.5 13.3,-4.5 13.9,-1.0 C14.1,0.0 14.9,0.0 15.4,-0.6" stroke-width="2.0"/><path d="M6.0,-5.1 L13.3,-5.1" stroke-width="1.05"/></g>
<line x1="494.2" y1="57.3" x2="505" y2="57.3" stroke="#000" stroke-width="1"/>
<line x1="499.6" y1="51.9" x2="499.6" y2="62.7" stroke="#000" stroke-width="1"/>
<text x="506.9" y="60.5" style="font-size:17px;" >,</text>
<line x1="512.9" y1="57.3" x2="523.7" y2="57.3" stroke="#000" stroke-width="1"/>
<line x1="518.3" y1="51.9" x2="518.3" y2="62.7" stroke="#000" stroke-width="1"/>
<line x1="431.7" y1="92.8" x2="467.6" y2="92.8" stroke="#0030c8" stroke-width="2.9"/>
<g transform="translate(477,97.9) scale(1)" fill="none" stroke="#000" stroke-linecap="round"><path d="M0.5,-1.6 C0.2,-0.2 1.6,0.6 3.2,-0.4 C5.5,-2.2 9.5,-9.5 13.0,-15.0" stroke-width="1.25"/><path d="M13.0,-15.0 C12.9,-10.5 13.3,-4.5 13.9,-1.0 C14.1,0.0 14.9,0.0 15.4,-0.6" stroke-width="2.0"/><path d="M6.0,-5.1 L13.3,-5.1" stroke-width="1.05"/></g>
<line x1="494.2" y1="96.4" x2="505" y2="96.4" stroke="#000" stroke-width="1"/>
<line x1="499.6" y1="91" x2="499.6" y2="101.8" stroke="#000" stroke-width="1"/>
<text x="506.9" y="99.6" style="font-size:17px;" >,</text>
<line x1="513" y1="96.4" x2="523.4" y2="96.4" stroke="#000" stroke-width="1"/>
<line x1="431.7" y1="131.9" x2="467.6" y2="131.9" stroke="#c80000" stroke-width="2.9"/>
<g transform="translate(477,137) scale(1)" fill="none" stroke="#000" stroke-linecap="round"><path d="M0.5,-1.6 C0.2,-0.2 1.6,0.6 3.2,-0.4 C5.5,-2.2 9.5,-9.5 13.0,-15.0" stroke-width="1.25"/><path d="M13.0,-15.0 C12.9,-10.5 13.3,-4.5 13.9,-1.0 C14.1,0.0 14.9,0.0 15.4,-0.6" stroke-width="2.0"/><path d="M6.0,-5.1 L13.3,-5.1" stroke-width="1.05"/></g>
<line x1="494.2" y1="135.5" x2="504.7" y2="135.5" stroke="#000" stroke-width="1"/>
<path d="M390.98,301.2 L392.13,301.2 L393.28,301.2 L394.43,301.2 L395.59,301.21 L396.74,301.21 L397.89,301.21 L399.04,301.21 L400.19,301.21 L401.34,301.21 L402.49,301.21 L403.64,301.21 L404.79,301.21 L405.94,301.21 L407.09,301.21 L408.24,301.21 L409.38,301.21 L410.53,301.21 L411.68,301.21 L412.83,301.21 L413.98,301.21 L415.12,301.2 L416.27,301.2 L417.42,301.2 L418.57,301.2 L419.71,301.2 L420.86,301.2 L422,301.2 L423.15,301.2 L424.3,301.2 L425.44,301.19 L426.59,301.19 L427.73,301.19 L428.88,301.19 L430.03,301.19 L431.17,301.19 L432.32,301.18 L433.46,301.18 L434.61,301.18 L435.75,301.18 L436.9,301.18 L438.04,301.18 L439.18,301.17 L440.33,301.17 L441.47,301.17 L442.62,301.17 L443.76,301.17 L444.91,301.16 L446.05,301.16 L447.19,301.16 L448.34,301.16 L449.48,301.16 L450.62,301.16 L451.77,301.16 L452.91,301.15 L454.06,301.15 L455.2,301.15 L456.34,301.15 L457.49,301.15 L458.63,301.15 L459.77,301.15 L460.92,301.15 L462.06,301.15 L463.21,301.14 L464.35,301.14 L465.49,301.14 L466.64,301.14 L467.78,301.14 L468.92,301.14 L470.07,301.14 L471.21,301.14 L472.36,301.13 L473.5,301.13 L474.64,301.13 L475.79,301.13 L476.93,301.12 L478.08,301.12 L479.22,301.12 L480.37,301.11 L481.51,301.11 L482.66,301.1 L483.8,301.1 L484.95,301.09 L486.09,301.08 L487.24,301.08 L488.38,301.07 L489.53,301.06 L490.67,301.05 L491.82,301.04 L492.96,301.03 L494.11,301.01 L495.26,301 L496.4,300.99 L497.55,300.97 L498.69,300.95 L499.84,300.94 L500.99,300.92 L502.14,300.9 L503.28,300.88 L504.43,300.86 L505.58,300.84 L506.73,300.81 L507.87,300.79 L509.02,300.76 L510.17,300.73 L511.32,300.7 L512.47,300.67 L513.62,300.64 L514.77,300.61 L515.92,300.57 L517.07,300.54 L518.22,300.5 L519.37,300.46 L520.52,300.42 L521.67,300.38 L522.82,300.33 L523.97,300.29 L525.13,300.24 L526.28,300.19 L527.43,300.14 L528.58,300.09 L529.74,300.03 L530.89,299.98 L532.04,299.92 L533.2,299.86 L534.35,299.79 L535.5,299.72 L536.66,299.65 L537.81,299.57 L538.96,299.47 L540.1,299.37 L541.25,299.26 L542.39,299.14 L543.53,299.01 L544.66,298.86 L545.8,298.69 L546.92,298.51 L548.05,298.32 L549.16,298.1 L550.28,297.87 L551.38,297.61 L552.48,297.33 L553.58,297.03 L554.67,296.71 L555.75,296.36 L556.82,295.98 L557.89,295.58 L558.95,295.15 L559.99,294.69 L561.03,294.21 L562.06,293.7 L563.08,293.16 L564.09,292.6 L565.08,292.01 L566.06,291.4 L567.02,290.77 L567.97,290.11 L568.91,289.43 L569.82,288.73 L570.72,288.01 L571.61,287.27 L572.47,286.51 L573.32,285.73 L574.14,284.92 L574.94,284.11 L575.72,283.27 L576.48,282.42 L577.22,281.55 L577.93,280.66 L578.62,279.76 L579.28,278.84 L579.92,277.91 L580.54,276.96 L581.13,276.01 L581.7,275.03 L582.25,274.05 L582.78,273.05 L583.3,272.05 L583.79,271.03 L584.26,270 L584.72,268.96 L585.16,267.91 L585.58,266.86 L585.99,265.79 L586.39,264.72 L586.77,263.63 L587.13,262.55 L587.49,261.45 L587.83,260.35 L588.16,259.24 L588.48,258.13 L588.8,257.02 L589.1,255.9 L589.39,254.77 L589.68,253.65 L589.96,252.52 L590.23,251.39 L590.5,250.26 L590.76,249.12 L591.02,247.99 L591.27,246.86 L591.53,245.72 L591.78,244.59 L592.02,243.46 L592.27,242.33 L592.52,241.2 L592.76,240.08 L593,238.95 L593.24,237.83 L593.48,236.7 L593.72,235.58 L593.96,234.46 L594.2,233.34 L594.43,232.22 L594.66,231.1 L594.89,229.99 L595.12,228.87 L595.35,227.75 L595.58,226.64 L595.8,225.52 L596.02,224.4 L596.24,223.29 L596.46,222.17 L596.68,221.06 L596.9,219.94 L597.11,218.83 L597.32,217.71 L597.53,216.6 L597.74,215.48 L597.95,214.37 L598.16,213.25 L598.36,212.13 L598.56,211.01 L598.76,209.9 L598.96,208.78 L599.15,207.66 L599.35,206.54 L599.54,205.42 L599.73,204.29 L599.91,203.17 L600.1,202.04 L600.28,200.92 L600.46,199.79 L600.64,198.66 L600.82,197.53 L600.99,196.4 L601.17,195.27 L601.34,194.13 L601.5,193 L601.67,191.86 L601.83,190.72 L601.99,189.57 L602.16,188.43 L602.31,187.28 L602.48,186.14 L602.64,184.99 L602.8,183.84 L602.97,182.69 L603.15,181.55 L603.33,180.4 L603.51,179.25 L603.71,178.11 L603.91,176.96 L604.13,175.82 L604.35,174.68 L604.59,173.54 L604.84,172.4 L605.1,171.27 L605.38,170.13 L605.68,169.01 L605.99,167.88 L606.32,166.76 L606.67,165.65 L607.04,164.53 L607.44,163.43 L607.85,162.33 L608.29,161.23 L608.75,160.14 L609.24,159.05 L609.75,157.98 L610.29,156.92 L610.85,155.93 L611.43,155.08 L612.01,154.41 L612.59,154 L613.17,153.88 L613.74,154.07 L614.3,154.45 L614.83,154.97 L615.36,155.6 L615.86,156.35 L616.35,157.19 L616.83,158.13 L617.29,159.15 L617.74,160.23 L618.17,161.38 L618.59,162.57 L619,163.8 L619.39,165.07 L619.77,166.35 L620.14,167.64 L620.5,168.92 L620.85,170.2 L621.18,171.45 L621.51,172.68 L621.83,173.89 L622.13,175.08 L622.44,176.25 L622.73,177.4 L623.02,178.54 L623.3,179.66 L623.58,180.77 L623.85,181.86 L624.12,182.95 L624.39,184.03 L624.66,185.1 L624.93,186.16 L625.2,187.22 L625.47,188.27 L625.74,189.33 L626.02,190.38 L626.3,191.43 L626.58,192.49 L626.87,193.55 L627.17,194.62 L627.47,195.69 L627.78,196.76 L628.09,197.83 L628.41,198.9 L628.73,199.98 L629.07,201.06 L629.4,202.14 L629.74,203.22 L630.09,204.31 L630.45,205.39 L630.81,206.47 L631.18,207.56 L631.56,208.64 L631.94,209.73 L632.33,210.81 L632.72,211.9 L633.13,212.98 L633.54,214.06 L633.96,215.14 L634.38,216.22 L634.82,217.29 L635.26,218.37 L635.7,219.44 L636.16,220.51 L636.62,221.57 L637.1,222.64 L637.58,223.7 L638.06,224.75 L638.56,225.8 L639.06,226.85 L639.58,227.89 L640.1,228.93 L640.63,229.96 L641.17,230.99 L641.72,232.01 L642.27,233.03 L642.84,234.04 L643.41,235.04 L644,236.04 L644.59,237.03 L645.19,238.02 L645.81,239 L646.43,239.96 L647.06,240.93 L647.7,241.88 L648.35,242.83 L649.01,243.76 L649.69,244.69 L650.37,245.61 L651.06,246.52 L651.76,247.42 L652.48,248.31 L653.2,249.19 L653.93,250.06 L654.68,250.92 L655.43,251.77 L656.2,252.61 L656.98,253.44 L657.77,254.25 L658.57,255.06 L659.38,255.85 L660.2,256.63 L661.04,257.39 L661.88,258.15 L662.74,258.89 L663.61,259.62 L664.49,260.33 L665.38,261.03 L666.29,261.72 L667.21,262.39 L668.14,263.05 L669.08,263.69 L670.04,264.32 L671,264.93 L671.98,265.53" fill="none" stroke="#c80000" stroke-width="2.9" stroke-linejoin="round" clip-path="url(#cb)"/>
<path d="M430.48,301.32 L431.21,301.27 L431.94,301.22 L432.68,301.17 L433.41,301.13 L434.14,301.08 L434.87,301.04 L435.6,300.99 L436.33,300.95 L437.06,300.91 L437.79,300.87 L438.52,300.83 L439.25,300.79 L439.98,300.75 L440.71,300.71 L441.43,300.68 L442.16,300.64 L442.89,300.61 L443.61,300.57 L444.34,300.53 L445.07,300.5 L445.79,300.47 L446.52,300.43 L447.24,300.4 L447.97,300.36 L448.69,300.33 L449.41,300.29 L450.14,300.26 L450.86,300.22 L451.58,300.19 L452.31,300.15 L453.03,300.12 L453.75,300.08 L454.47,300.04 L455.2,300 L455.92,299.97 L456.64,299.93 L457.36,299.89 L458.08,299.85 L458.8,299.8 L459.52,299.76 L460.24,299.72 L460.96,299.67 L461.68,299.62 L462.4,299.58 L463.12,299.53 L463.84,299.48 L464.56,299.42 L465.28,299.37 L466,299.32 L466.72,299.26 L467.44,299.2 L468.15,299.14 L468.87,299.08 L469.59,299.01 L470.31,298.95 L471.03,298.88 L471.75,298.81 L472.47,298.73 L473.18,298.66 L473.9,298.58 L474.62,298.5 L475.34,298.42 L476.06,298.33 L476.78,298.25 L477.49,298.16 L478.21,298.06 L478.93,297.97 L479.65,297.87 L480.37,297.77 L481.08,297.66 L481.8,297.56 L482.52,297.44 L483.24,297.33 L483.96,297.21 L484.68,297.09 L485.4,296.97 L486.11,296.84 L486.83,296.71 L487.55,296.58 L488.27,296.44 L488.99,296.3 L489.71,296.15 L490.43,296 L491.15,295.85 L491.87,295.69 L492.59,295.53 L493.31,295.37 L494.03,295.2 L494.74,295.02 L495.46,294.84 L496.18,294.66 L496.9,294.47 L497.61,294.28 L498.33,294.09 L499.04,293.89 L499.75,293.68 L500.46,293.47 L501.17,293.26 L501.88,293.04 L502.58,292.81 L503.28,292.58 L503.98,292.35 L504.68,292.11 L505.38,291.86 L506.07,291.61 L506.76,291.36 L507.45,291.1 L508.13,290.83 L508.81,290.56 L509.49,290.28 L510.17,290 L510.84,289.71 L511.51,289.41 L512.17,289.11 L512.83,288.8 L513.48,288.49 L514.13,288.17 L514.78,287.85 L515.42,287.52 L516.06,287.18 L516.69,286.84 L517.32,286.49 L517.94,286.13 L518.56,285.77 L519.17,285.4 L519.78,285.02 L520.38,284.64 L520.98,284.25 L521.57,283.85 L522.15,283.45 L522.73,283.04 L523.3,282.62 L523.87,282.2 L524.43,281.77 L524.98,281.33 L525.53,280.89 L526.08,280.44 L526.62,279.98 L527.15,279.52 L527.68,279.06 L528.21,278.58 L528.72,278.1 L529.24,277.62 L529.75,277.13 L530.25,276.63 L530.75,276.13 L531.24,275.62 L531.73,275.1 L532.22,274.59 L532.7,274.06 L533.17,273.53 L533.65,272.99 L534.11,272.45 L534.57,271.91 L535.03,271.36 L535.49,270.8 L535.94,270.24 L536.38,269.67 L536.82,269.1 L537.26,268.53 L537.69,267.95 L538.12,267.36 L538.55,266.77 L538.97,266.18 L539.39,265.58 L539.8,264.98 L540.21,264.37 L540.62,263.76 L541.02,263.14 L541.43,262.52 L541.82,261.9 L542.22,261.27 L542.61,260.64 L542.99,260.01 L543.38,259.37 L543.76,258.72 L544.14,258.08 L544.51,257.43 L544.89,256.78 L545.26,256.12 L545.63,255.47 L546,254.81 L546.36,254.15 L546.73,253.48 L547.09,252.82 L547.46,252.16 L547.82,251.49 L548.19,250.83 L548.55,250.17 L548.92,249.5 L549.29,248.84 L549.66,248.18 L550.03,247.52 L550.4,246.86 L550.77,246.21 L551.15,245.56 L551.53,244.9 L551.91,244.26 L552.29,243.61 L552.68,242.97 L553.07,242.33 L553.47,241.7 L553.87,241.07 L554.27,240.45 L554.68,239.83 L555.09,239.22 L555.51,238.61 L555.94,238.01 L556.37,237.42 L556.81,236.83 L557.25,236.25 L557.7,235.67 L558.16,235.11 L558.62,234.55 L559.09,234 L559.57,233.45 L560.06,232.92 L560.55,232.4 L561.06,231.88 L561.57,231.38 L562.09,230.88 L562.62,230.4 L563.16,229.93 L563.7,229.48 L564.26,229.04 L564.82,228.63 L565.39,228.24 L565.96,227.88 L566.54,227.55 L567.13,227.25 L567.72,226.98 L568.31,226.74 L568.91,226.55 L569.51,226.39 L570.11,226.28 L570.72,226.22 L571.33,226.2 L571.94,226.23 L572.55,226.3 L573.16,226.41 L573.77,226.56 L574.38,226.74 L574.99,226.96 L575.6,227.21 L576.21,227.49 L576.81,227.79 L577.42,228.11 L578.02,228.45 L578.62,228.81 L579.21,229.19 L579.8,229.58 L580.38,229.98 L580.96,230.39 L581.54,230.8 L582.11,231.23 L582.68,231.67 L583.24,232.12 L583.8,232.57 L584.36,233.04 L584.91,233.51 L585.46,233.99 L586.01,234.47 L586.56,234.97 L587.1,235.46 L587.64,235.97 L588.18,236.48 L588.72,236.99 L589.25,237.52 L589.79,238.04 L590.32,238.57 L590.85,239.1 L591.38,239.64 L591.9,240.18 L592.43,240.72 L592.96,241.26 L593.48,241.81 L594.01,242.35 L594.54,242.9 L595.06,243.45 L595.59,244 L596.11,244.55 L596.64,245.1 L597.16,245.64 L597.69,246.19 L598.22,246.73 L598.75,247.28 L599.28,247.82 L599.81,248.36 L600.35,248.89 L600.88,249.42 L601.42,249.95 L601.96,250.47 L602.5,250.99 L603.04,251.51 L603.59,252.02 L604.14,252.52 L604.69,253.02 L605.25,253.51 L605.8,254 L606.36,254.48 L606.93,254.95 L607.49,255.42 L608.06,255.88 L608.63,256.34 L609.21,256.79 L609.78,257.24 L610.36,257.68 L610.94,258.12 L611.53,258.55 L612.11,258.98 L612.7,259.4 L613.29,259.81 L613.89,260.22 L614.49,260.63 L615.08,261.03 L615.69,261.42 L616.29,261.81 L616.9,262.2 L617.5,262.58 L618.12,262.95 L618.73,263.32 L619.34,263.69 L619.96,264.05 L620.58,264.4 L621.21,264.76 L621.83,265.1 L622.46,265.44 L623.09,265.78 L623.72,266.11 L624.35,266.44 L624.99,266.77 L625.62,267.09 L626.26,267.4 L626.91,267.71 L627.55,268.02 L628.2,268.32 L628.84,268.62 L629.49,268.91 L630.15,269.2 L630.8,269.49 L631.46,269.77 L632.12,270.05 L632.78,270.32 L633.44,270.59 L634.1,270.86 L634.77,271.12 L635.43,271.38 L636.1,271.63 L636.78,271.88 L637.45,272.13 L638.12,272.37 L638.8,272.61 L639.48,272.85 L640.16,273.08 L640.84,273.31 L641.52,273.54 L642.21,273.76 L642.9,273.98 L643.58,274.19 L644.27,274.4 L644.97,274.61 L645.66,274.82 L646.35,275.02 L647.05,275.22 L647.75,275.42 L648.45,275.61 L649.15,275.8 L649.85,275.99 L650.55,276.17 L651.26,276.35 L651.97,276.53 L652.67,276.71 L653.38,276.88 L654.09,277.05 L654.81,277.21 L655.52,277.38 L656.23,277.54 L656.95,277.7 L657.67,277.86 L658.38,278.01 L659.1,278.16 L659.83,278.31 L660.55,278.46 L661.27,278.6 L661.99,278.75 L662.72,278.89 L663.45,279.02 L664.17,279.16 L664.9,279.29 L665.63,279.42 L666.36,279.55 L667.1,279.68 L667.83,279.81 L668.56,279.93 L669.3,280.05 L670.03,280.17 L670.77,280.29 L671.51,280.4 L672.25,280.52" fill="none" stroke="#007b7b" stroke-width="2.9" stroke-linejoin="round" clip-path="url(#cb)"/>
<path d="M391,300.59 L391.54,300.58 L392.08,300.57 L392.62,300.56 L393.15,300.55 L393.69,300.54 L394.23,300.52 L394.77,300.51 L395.31,300.49 L395.85,300.47 L396.38,300.46 L396.92,300.44 L397.46,300.42 L398,300.4 L398.54,300.37 L399.08,300.35 L399.62,300.32 L400.15,300.29 L400.69,300.26 L401.23,300.23 L401.77,300.2 L402.31,300.16 L402.85,300.12 L403.38,300.07 L403.92,300.03 L404.46,299.97 L405,299.92 L405.54,299.85 L406.08,299.78 L406.62,299.71 L407.15,299.62 L407.69,299.53 L408.23,299.42 L408.77,299.31 L409.31,299.18 L409.85,299.03 L410.38,298.86 L410.92,298.67 L411.46,298.45 L412,298.19 L412,298.19 L412.03,298.18 L412.05,298.16 L412.08,298.15 L412.11,298.14 L412.13,298.12 L412.16,298.11 L412.18,298.1 L412.21,298.08 L412.24,298.07 L412.26,298.05 L412.29,298.04 L412.32,298.02 L412.34,298.01 L412.37,297.99 L412.39,297.98 L412.42,297.96 L412.45,297.95 L412.47,297.93 L412.5,297.92 L412.53,297.9 L412.55,297.89 L412.58,297.87 L412.6,297.85 L412.63,297.84 L412.66,297.82 L412.68,297.81 L412.71,297.79 L412.74,297.77 L412.76,297.76 L412.79,297.74 L412.81,297.72 L412.84,297.71 L412.87,297.69 L412.89,297.67 L412.92,297.65 L412.95,297.64 L412.97,297.62 L413,297.6 L413.03,297.58 L413.05,297.56 L413.08,297.55 L413.1,297.53 L413.13,297.51 L413.16,297.49 L413.18,297.47 L413.21,297.45 L413.24,297.43 L413.26,297.41 L413.29,297.39 L413.31,297.37 L413.34,297.35 L413.37,297.33 L413.39,297.31 L413.42,297.29 L413.45,297.27 L413.47,297.25 L413.5,297.23 L413.52,297.21 L413.55,297.19 L413.58,297.17 L413.6,297.14 L413.63,297.12 L413.66,297.1 L413.68,297.08 L413.71,297.05 L413.73,297.03 L413.76,297.01 L413.79,296.99 L413.81,296.96 L413.84,296.94 L413.87,296.91 L413.89,296.89 L413.92,296.87 L413.94,296.84 L413.97,296.82 L414,296.79 L414.02,296.77 L414.05,296.74 L414.08,296.72 L414.1,296.69 L414.13,296.66 L414.16,296.64 L414.18,296.61 L414.21,296.58 L414.23,296.56 L414.26,296.53 L414.29,296.5 L414.31,296.47 L414.34,296.45 L414.37,296.42 L414.39,296.39 L414.42,296.36 L414.44,296.33 L414.47,296.3 L414.5,296.27 L414.52,296.24 L414.55,296.21 L414.58,296.18 L414.6,296.15 L414.63,296.12 L414.65,296.09 L414.68,296.06 L414.71,296.02 L414.73,295.99 L414.76,295.96 L414.79,295.93 L414.81,295.89 L414.84,295.86 L414.86,295.82 L414.89,295.79 L414.92,295.75 L414.94,295.72 L414.97,295.68 L415,295.65 L415.02,295.61 L415.05,295.57 L415.08,295.54 L415.1,295.5 L415.13,295.46 L415.15,295.42 L415.18,295.38 L415.21,295.35 L415.23,295.31 L415.26,295.27 L415.29,295.23 L415.31,295.19 L415.34,295.14 L415.36,295.1 L415.39,295.06 L415.42,295.02 L415.44,294.97 L415.47,294.93 L415.5,294.89 L415.52,294.84 L415.55,294.8 L415.57,294.75 L415.6,294.71 L415.63,294.66 L415.65,294.61 L415.68,294.56 L415.71,294.52 L415.73,294.47 L415.76,294.42 L415.78,294.37 L415.81,294.32 L415.84,294.27 L415.86,294.22 L415.89,294.16 L415.92,294.11 L415.94,294.06 L415.97,294 L415.99,293.95 L416.02,293.89 L416.05,293.84 L416.07,293.78 L416.1,293.72 L416.13,293.67 L416.15,293.61 L416.18,293.55 L416.21,293.49 L416.23,293.43 L416.26,293.36 L416.28,293.3 L416.31,293.24 L416.34,293.17 L416.36,293.11 L416.39,293.04 L416.42,292.98 L416.44,292.91 L416.47,292.84 L416.49,292.77 L416.52,292.7 L416.55,292.63 L416.57,292.56 L416.6,292.49 L416.63,292.41 L416.65,292.34 L416.68,292.26 L416.7,292.19 L416.73,292.11 L416.76,292.03 L416.78,291.95 L416.81,291.87 L416.84,291.79 L416.86,291.71 L416.89,291.62 L416.91,291.54 L416.94,291.45 L416.97,291.36 L416.99,291.27 L417.02,291.18 L417.05,291.09 L417.07,291 L417.1,290.9 L417.13,290.81 L417.15,290.71 L417.18,290.61 L417.2,290.51 L417.23,290.41 L417.26,290.31 L417.28,290.21 L417.31,290.1 L417.34,289.99 L417.36,289.89 L417.39,289.77 L417.41,289.66 L417.44,289.55 L417.47,289.43 L417.49,289.32 L417.52,289.2 L417.55,289.08 L417.57,288.95 L417.6,288.83 L417.62,288.7 L417.65,288.57 L417.68,288.44 L417.7,288.31 L417.73,288.18 L417.76,288.04 L417.78,287.9 L417.81,287.76 L417.83,287.61 L417.86,287.47 L417.89,287.32 L417.91,287.17 L417.94,287.02 L417.97,286.86 L417.99,286.7 L418.02,286.54 L418.05,286.37 L418.07,286.21 L418.1,286.04 L418.12,285.86 L418.15,285.69 L418.18,285.51 L418.2,285.33 L418.23,285.14 L418.26,284.95 L418.28,284.76 L418.31,284.57 L418.33,284.37 L418.36,284.16 L418.39,283.96 L418.41,283.75 L418.44,283.53 L418.47,283.31 L418.49,283.09 L418.52,282.86 L418.54,282.63 L418.57,282.4 L418.6,282.16 L418.62,281.91 L418.65,281.66 L418.68,281.41 L418.7,281.15 L418.73,280.89 L418.75,280.62 L418.78,280.34 L418.81,280.06 L418.83,279.77 L418.86,279.48 L418.89,279.18 L418.91,278.88 L418.94,278.56 L418.96,278.25 L418.99,277.92 L419.02,277.59 L419.04,277.25 L419.07,276.9 L419.1,276.55 L419.12,276.19 L419.15,275.82 L419.18,275.44 L419.2,275.05 L419.23,274.66 L419.25,274.25 L419.28,273.84 L419.31,273.41 L419.33,272.98 L419.36,272.54 L419.39,272.08 L419.41,271.61 L419.44,271.14 L419.46,270.65 L419.49,270.15 L419.52,269.64 L419.54,269.11 L419.57,268.57 L419.6,268.02 L419.62,267.45 L419.65,266.87 L419.67,266.27 L419.7,265.66 L419.73,265.03 L419.75,264.39 L419.78,263.72 L419.81,263.04 L419.83,262.34 L419.86,261.62 L419.88,260.88 L419.91,260.12 L419.94,259.34 L419.96,258.54 L419.99,257.71 L420.02,256.86 L420.04,255.98 L420.07,255.08 L420.1,254.15 L420.12,253.19 L420.15,252.21 L420.17,251.19 L420.2,250.14 L420.23,249.06 L420.25,247.94 L420.28,246.79 L420.31,245.6 L420.33,244.37 L420.36,243.1 L420.38,241.79 L420.41,240.43 L420.44,239.03 L420.46,237.58 L420.49,236.07 L420.52,234.52 L420.54,232.91 L420.57,231.24 L420.59,229.51 L420.62,227.71 L420.65,225.85 L420.67,223.92 L420.7,221.91 L420.73,219.83 L420.75,217.67 L420.78,215.42 L420.8,213.08 L420.83,210.64 L420.86,208.11 L420.88,205.47 L420.91,202.72 L420.94,199.85 L420.96,196.86 L420.99,193.74 L421.02,190.48 L421.04,187.07 L421.07,183.52 L421.09,179.79 L421.12,175.9 L421.15,171.82 L421.17,167.55 L421.2,163.07 L421.23,158.37 L421.25,153.43 L421.28,148.25 L421.3,142.81 L421.33,137.08 L421.36,131.06 L421.38,124.72 L421.41,118.03 L421.44,110.98 L421.46,103.54 L421.49,95.69 L421.51,87.4 L421.54,78.62 L421.57,69.34 L421.59,59.52 L421.62,49.11 L421.65,38.08 L421.67,26.38 L421.7,20 L421.72,20 L421.75,20 L421.78,20 L421.8,20 L421.83,20 L421.86,20 L421.88,20 L421.91,20 L421.93,20 L421.96,20 L421.99,20 L422.01,20 L422.04,20 L422.07,20 L422.09,20 L422.12,20 L422.15,20 L422.17,20 L422.2,20 L422.22,20 L422.25,20 L422.28,20 L422.3,20 L422.33,20 L422.36,20 L422.38,20 L422.41,20 L422.43,20 L422.46,20 L422.49,20 L422.51,20 L422.54,20 L422.57,20 L422.59,20 L422.62,20 L422.64,20 L422.67,20 L422.7,20 L422.72,20 L422.75,20 L422.78,20 L422.8,20 L422.83,20 L422.85,20 L422.88,20 L422.91,20 L422.93,20 L422.96,20 L422.99,20 L423.01,20 L423.04,20 L423.07,20 L423.09,20 L423.12,20 L423.14,20 L423.17,20 L423.2,20 L423.22,20 L423.25,20 L423.28,20 L423.3,20 L423.33,20 L423.35,20 L423.38,20 L423.41,20 L423.43,20 L423.46,20 L423.49,20 L423.51,20 L423.54,31.03 L423.56,42.46 L423.59,53.25 L423.62,63.42 L423.64,73.03 L423.67,82.11 L423.7,90.69 L423.72,98.81 L423.75,106.5 L423.77,113.78 L423.8,120.68 L423.83,127.23 L423.85,133.45 L423.88,139.35 L423.91,144.97 L423.93,150.31 L423.96,155.39 L423.98,160.23 L424.01,164.84 L424.04,169.24 L424.06,173.43 L424.09,177.44 L424.12,181.27 L424.14,184.92 L424.17,188.42 L424.2,191.77 L424.22,194.97 L424.25,198.04 L424.27,200.98 L424.3,203.81 L424.33,206.51 L424.35,209.11 L424.38,211.6 L424.41,214 L424.43,216.31 L424.46,218.52 L424.48,220.65 L424.51,222.71 L424.54,224.68 L424.56,226.59 L424.59,228.42 L424.62,230.19 L424.64,231.9 L424.67,233.54 L424.69,235.13 L424.72,236.67 L424.75,238.15 L424.77,239.58 L424.8,240.97 L424.83,242.3 L424.85,243.6 L424.88,244.85 L424.9,246.07 L424.93,247.24 L424.96,248.38 L424.98,249.49 L425.01,250.55 L425.04,251.59 L425.06,252.6 L425.09,253.57 L425.12,254.52 L425.14,255.44 L425.17,256.33 L425.19,257.2 L425.22,258.04 L425.25,258.86 L425.27,259.65 L425.3,260.42 L425.33,261.18 L425.35,261.91 L425.38,262.62 L425.4,263.31 L425.43,263.98 L425.46,264.64 L425.48,265.28 L425.51,265.9 L425.54,266.51 L425.56,267.1 L425.59,267.67 L425.61,268.24 L425.64,268.78 L425.67,269.32 L425.69,269.84 L425.72,270.35 L425.75,270.84 L425.77,271.33 L425.8,271.8 L425.82,272.26 L425.85,272.71 L425.88,273.15 L425.9,273.58 L425.93,274 L425.96,274.41 L425.98,274.81 L426.01,275.2 L426.04,275.59 L426.06,275.96 L426.09,276.33 L426.11,276.69 L426.14,277.04 L426.17,277.38 L426.19,277.72 L426.22,278.05 L426.25,278.37 L426.27,278.69 L426.3,279 L426.32,279.3 L426.35,279.59 L426.38,279.89 L426.4,280.17 L426.43,280.45 L426.46,280.72 L426.48,280.99 L426.51,281.25 L426.53,281.51 L426.56,281.76 L426.59,282.01 L426.61,282.25 L426.64,282.49 L426.67,282.72 L426.69,282.95 L426.72,283.18 L426.74,283.4 L426.77,283.62 L426.8,283.83 L426.82,284.04 L426.85,284.24 L426.88,284.44 L426.9,284.64 L426.93,284.84 L426.95,285.03 L426.98,285.21 L427.01,285.4 L427.03,285.58 L427.06,285.76 L427.09,285.93 L427.11,286.1 L427.14,286.27 L427.17,286.44 L427.19,286.6 L427.22,286.76 L427.24,286.92 L427.27,287.08 L427.3,287.23 L427.32,287.38 L427.35,287.53 L427.38,287.67 L427.4,287.81 L427.43,287.95 L427.45,288.09 L427.48,288.23 L427.51,288.36 L427.53,288.49 L427.56,288.62 L427.59,288.75 L427.61,288.88 L427.64,289 L427.66,289.12 L427.69,289.24 L427.72,289.36 L427.74,289.48 L427.77,289.59 L427.8,289.71 L427.82,289.82 L427.85,289.93 L427.87,290.04 L427.9,290.14 L427.93,290.25 L427.95,290.35 L427.98,290.45 L428.01,290.55 L428.03,290.65 L428.06,290.75 L428.09,290.85 L428.11,290.94 L428.14,291.03 L428.16,291.13 L428.19,291.22 L428.22,291.31 L428.24,291.4 L428.27,291.48 L428.3,291.57 L428.32,291.65 L428.35,291.74 L428.37,291.82 L428.4,291.9 L428.43,291.98 L428.45,292.06 L428.48,292.14 L428.51,292.22 L428.53,292.29 L428.56,292.37 L428.58,292.44 L428.61,292.52 L428.64,292.59 L428.66,292.66 L428.69,292.73 L428.72,292.8 L428.74,292.87 L428.77,292.94 L428.79,293 L428.82,293.07 L428.85,293.14 L428.87,293.2 L428.9,293.26 L428.93,293.33 L428.95,293.39 L428.98,293.45 L429.01,293.51 L429.03,293.57 L429.06,293.63 L429.08,293.69 L429.11,293.75 L429.14,293.8 L429.16,293.86 L429.19,293.91 L429.22,293.97 L429.24,294.02 L429.27,294.08 L429.29,294.13 L429.32,294.18 L429.35,294.24 L429.37,294.29 L429.4,294.34 L429.43,294.39 L429.45,294.44 L429.48,294.49 L429.5,294.54 L429.53,294.58 L429.56,294.63 L429.58,294.68 L429.61,294.72 L429.64,294.77 L429.66,294.81 L429.69,294.86 L429.71,294.9 L429.74,294.95 L429.77,294.99 L429.79,295.03 L429.82,295.08 L429.85,295.12 L429.87,295.16 L429.9,295.2 L429.92,295.24 L429.95,295.28 L429.98,295.32 L430,295.36 L430.03,295.4 L430.06,295.44 L430.08,295.48 L430.11,295.51 L430.14,295.55 L430.16,295.59 L430.19,295.63 L430.21,295.66 L430.24,295.7 L430.27,295.73 L430.29,295.77 L430.32,295.8 L430.35,295.84 L430.37,295.87 L430.4,295.9 L430.42,295.94 L430.45,295.97 L430.48,296 L430.5,296.04 L430.53,296.07 L430.56,296.1 L430.58,296.13 L430.61,296.16 L430.63,296.19 L430.66,296.22 L430.69,296.25 L430.71,296.28 L430.74,296.31 L430.77,296.34 L430.79,296.37 L430.82,296.4 L430.84,296.43 L430.87,296.46 L430.9,296.49 L430.92,296.51 L430.95,296.54 L430.98,296.57 L431,296.6 L431.03,296.62 L431.06,296.65 L431.08,296.67 L431.11,296.7 L431.13,296.73 L431.16,296.75 L431.19,296.78 L431.21,296.8 L431.24,296.83 L431.27,296.85 L431.29,296.88 L431.32,296.9 L431.34,296.92 L431.37,296.95 L431.4,296.97 L431.42,296.99 L431.45,297.02 L431.48,297.04 L431.5,297.06 L431.53,297.09 L431.55,297.11 L431.58,297.13 L431.61,297.15 L431.63,297.17 L431.66,297.2 L431.69,297.22 L431.71,297.24 L431.74,297.26 L431.76,297.28 L431.79,297.3 L431.82,297.32 L431.84,297.34 L431.87,297.36 L431.9,297.38 L431.92,297.4 L431.95,297.42 L431.97,297.44 L432,297.46 L432.03,297.48 L432.05,297.5 L432.08,297.52 L432.11,297.53 L432.13,297.55 L432.16,297.57 L432.19,297.59 L432.21,297.61 L432.24,297.63 L432.26,297.64 L432.29,297.66 L432.32,297.68 L432.34,297.7 L432.37,297.71 L432.4,297.73 L432.42,297.75 L432.45,297.76 L432.47,297.78 L432.5,297.8 L432.53,297.81 L432.55,297.83 L432.58,297.85 L432.61,297.86 L432.63,297.88 L432.66,297.89 L432.68,297.91 L432.71,297.92 L432.74,297.94 L432.76,297.95 L432.79,297.97 L432.82,297.98 L432.84,298 L432.87,298.01 L432.89,298.03 L432.92,298.04 L432.95,298.06 L432.97,298.07 L433,298.09 L433,298.09 L434.21,298.64 L435.41,299.04 L436.62,299.35 L437.82,299.59 L439.03,299.77 L440.23,299.92 L441.44,300.04 L442.64,300.14 L443.85,300.22 L445.06,300.3 L446.26,300.36 L447.47,300.41 L448.67,300.45 L449.88,300.49 L451.08,300.52 L452.29,300.55 L453.49,300.58 L454.7,300.6 L455.91,300.63 L457.11,300.64 L458.32,300.66 L459.52,300.68 L460.73,300.69 L461.93,300.7 L463.14,300.71 L464.34,300.72 L465.55,300.73 L466.75,300.74 L467.96,300.75 L469.17,300.76 L470.37,300.77 L471.58,300.77 L472.78,300.78 L473.99,300.78 L475.19,300.79 L476.4,300.79 L477.6,300.8 L478.81,300.8 L480.02,300.81 L481.22,300.81 L482.43,300.81 L483.63,300.82 L484.84,300.82 L486.04,300.82 L487.25,300.83 L488.45,300.83 L489.66,300.83 L490.87,300.83 L492.07,300.84 L493.28,300.84 L494.48,300.84 L495.69,300.84 L496.89,300.84 L498.1,300.85 L499.3,300.85 L500.51,300.85 L501.72,300.85 L502.92,300.85 L504.13,300.85 L505.33,300.86 L506.54,300.86 L507.74,300.86 L508.95,300.86 L510.15,300.86 L511.36,300.86 L512.56,300.86 L513.77,300.86 L514.98,300.86 L516.18,300.87 L517.39,300.87 L518.59,300.87 L519.8,300.87 L521,300.87 L522.21,300.87 L523.41,300.87 L524.62,300.87 L525.83,300.87 L527.03,300.87 L528.24,300.87 L529.44,300.87 L530.65,300.87 L531.85,300.87 L533.06,300.88 L534.26,300.88 L535.47,300.88 L536.68,300.88 L537.88,300.88 L539.09,300.88 L540.29,300.88 L541.5,300.88 L542.7,300.88 L543.91,300.88 L545.11,300.88 L546.32,300.88 L547.53,300.88 L548.73,300.88 L549.94,300.88 L551.14,300.88 L552.35,300.88 L553.55,300.88 L554.76,300.88 L555.96,300.88 L557.17,300.88 L558.37,300.88 L559.58,300.88 L560.79,300.88 L561.99,300.88 L563.2,300.88 L564.4,300.88 L565.61,300.89 L566.81,300.89 L568.02,300.89 L569.22,300.89 L570.43,300.89 L571.64,300.89 L572.84,300.89 L574.05,300.89 L575.25,300.89 L576.46,300.89 L577.66,300.89 L578.87,300.89 L580.07,300.89 L581.28,300.89 L582.49,300.89 L583.69,300.89 L584.9,300.89 L586.1,300.89 L587.31,300.89 L588.51,300.89 L589.72,300.89 L590.92,300.89 L592.13,300.89 L593.34,300.89 L594.54,300.89 L595.75,300.89 L596.95,300.89 L598.16,300.89 L599.36,300.89 L600.57,300.89 L601.77,300.89 L602.98,300.89 L604.18,300.89 L605.39,300.89 L606.6,300.89 L607.8,300.89 L609.01,300.89 L610.21,300.89 L611.42,300.89 L612.62,300.89 L613.83,300.89 L615.03,300.89 L616.24,300.89 L617.45,300.89 L618.65,300.89 L619.86,300.89 L621.06,300.89 L622.27,300.89 L623.47,300.89 L624.68,300.89 L625.88,300.89 L627.09,300.89 L628.3,300.89 L629.5,300.89 L630.71,300.89 L631.91,300.89 L633.12,300.89 L634.32,300.89 L635.53,300.89 L636.73,300.89 L637.94,300.89 L639.15,300.89 L640.35,300.89 L641.56,300.89 L642.76,300.89 L643.97,300.89 L645.17,300.89 L646.38,300.89 L647.58,300.89 L648.79,300.89 L649.99,300.89 L651.2,300.89 L652.41,300.89 L653.61,300.89 L654.82,300.89 L656.02,300.89 L657.23,300.89 L658.43,300.89 L659.64,300.89 L660.84,300.89 L662.05,300.89 L663.26,300.89 L664.46,300.89 L665.67,300.89 L666.87,300.89 L668.08,300.89 L669.28,300.89 L670.49,300.9 L671.69,300.9 L672.9,300.9" fill="none" stroke="#0030c8" stroke-width="2.9" stroke-linejoin="round" clip-path="url(#cb)"/>
<rect x="561.6" y="46.4" width="103.9" height="86" fill="#fff" stroke="none"/>
<line x1="569.69" y1="46.4" x2="569.69" y2="48" stroke="#909090" stroke-width="0.7"/>
<line x1="573.68" y1="46.4" x2="573.68" y2="48" stroke="#909090" stroke-width="0.7"/>
<line x1="577.68" y1="46.4" x2="577.68" y2="48" stroke="#909090" stroke-width="0.7"/>
<line x1="581.67" y1="46.4" x2="581.67" y2="48" stroke="#909090" stroke-width="0.7"/>
<line x1="585.66" y1="46.4" x2="585.66" y2="49" stroke="#909090" stroke-width="0.7"/>
<line x1="589.65" y1="46.4" x2="589.65" y2="48" stroke="#909090" stroke-width="0.7"/>
<line x1="593.64" y1="46.4" x2="593.64" y2="48" stroke="#909090" stroke-width="0.7"/>
<line x1="597.64" y1="46.4" x2="597.64" y2="48" stroke="#909090" stroke-width="0.7"/>
<line x1="601.63" y1="46.4" x2="601.63" y2="48" stroke="#909090" stroke-width="0.7"/>
<line x1="605.62" y1="46.4" x2="605.62" y2="49" stroke="#909090" stroke-width="0.7"/>
<line x1="609.61" y1="46.4" x2="609.61" y2="48" stroke="#909090" stroke-width="0.7"/>
<line x1="613.6" y1="46.4" x2="613.6" y2="48" stroke="#909090" stroke-width="0.7"/>
<line x1="617.6" y1="46.4" x2="617.6" y2="48" stroke="#909090" stroke-width="0.7"/>
<line x1="621.59" y1="46.4" x2="621.59" y2="48" stroke="#909090" stroke-width="0.7"/>
<line x1="625.58" y1="46.4" x2="625.58" y2="49" stroke="#909090" stroke-width="0.7"/>
<line x1="629.57" y1="46.4" x2="629.57" y2="48" stroke="#909090" stroke-width="0.7"/>
<line x1="633.56" y1="46.4" x2="633.56" y2="48" stroke="#909090" stroke-width="0.7"/>
<line x1="637.56" y1="46.4" x2="637.56" y2="48" stroke="#909090" stroke-width="0.7"/>
<line x1="641.55" y1="46.4" x2="641.55" y2="48" stroke="#909090" stroke-width="0.7"/>
<line x1="645.54" y1="46.4" x2="645.54" y2="49" stroke="#909090" stroke-width="0.7"/>
<line x1="649.53" y1="46.4" x2="649.53" y2="48" stroke="#909090" stroke-width="0.7"/>
<line x1="653.52" y1="46.4" x2="653.52" y2="48" stroke="#909090" stroke-width="0.7"/>
<line x1="657.52" y1="46.4" x2="657.52" y2="48" stroke="#909090" stroke-width="0.7"/>
<line x1="661.51" y1="46.4" x2="661.51" y2="48" stroke="#909090" stroke-width="0.7"/>
<line x1="665.5" y1="128.49" x2="663.9" y2="128.49" stroke="#909090" stroke-width="0.7"/>
<line x1="665.5" y1="124.58" x2="663.9" y2="124.58" stroke="#909090" stroke-width="0.7"/>
<line x1="665.5" y1="120.67" x2="663.9" y2="120.67" stroke="#909090" stroke-width="0.7"/>
<line x1="665.5" y1="116.76" x2="663.9" y2="116.76" stroke="#909090" stroke-width="0.7"/>
<line x1="665.5" y1="112.85" x2="662.9" y2="112.85" stroke="#909090" stroke-width="0.7"/>
<line x1="665.5" y1="108.95" x2="663.9" y2="108.95" stroke="#909090" stroke-width="0.7"/>
<line x1="665.5" y1="105.04" x2="663.9" y2="105.04" stroke="#909090" stroke-width="0.7"/>
<line x1="665.5" y1="101.13" x2="663.9" y2="101.13" stroke="#909090" stroke-width="0.7"/>
<line x1="665.5" y1="97.22" x2="663.9" y2="97.22" stroke="#909090" stroke-width="0.7"/>
<line x1="665.5" y1="93.31" x2="662.9" y2="93.31" stroke="#909090" stroke-width="0.7"/>
<line x1="665.5" y1="89.4" x2="663.9" y2="89.4" stroke="#909090" stroke-width="0.7"/>
<line x1="665.5" y1="85.49" x2="663.9" y2="85.49" stroke="#909090" stroke-width="0.7"/>
<line x1="665.5" y1="81.58" x2="663.9" y2="81.58" stroke="#909090" stroke-width="0.7"/>
<line x1="665.5" y1="77.67" x2="663.9" y2="77.67" stroke="#909090" stroke-width="0.7"/>
<line x1="665.5" y1="73.76" x2="662.9" y2="73.76" stroke="#909090" stroke-width="0.7"/>
<line x1="665.5" y1="69.85" x2="663.9" y2="69.85" stroke="#909090" stroke-width="0.7"/>
<line x1="665.5" y1="65.95" x2="663.9" y2="65.95" stroke="#909090" stroke-width="0.7"/>
<line x1="665.5" y1="62.04" x2="663.9" y2="62.04" stroke="#909090" stroke-width="0.7"/>
<line x1="665.5" y1="58.13" x2="663.9" y2="58.13" stroke="#909090" stroke-width="0.7"/>
<line x1="665.5" y1="54.22" x2="662.9" y2="54.22" stroke="#909090" stroke-width="0.7"/>
<line x1="665.5" y1="50.31" x2="663.9" y2="50.31" stroke="#909090" stroke-width="0.7"/>
<line x1="565.7" y1="132.4" x2="565.7" y2="129.8" stroke="#808080" stroke-width="0.8"/>
<line x1="615.6" y1="132.4" x2="615.6" y2="129.8" stroke="#808080" stroke-width="0.8"/>
<line x1="665.5" y1="132.4" x2="665.5" y2="129.8" stroke="#808080" stroke-width="0.8"/>
<rect x="561.6" y="46.4" width="103.9" height="86" fill="none" stroke="#a8a8a8" stroke-width="1"/>
<g clip-path="url(#ib)" fill="#fff" stroke="#000" stroke-width="1.85"><circle cx="565.7" cy="86.6" r="2.95"/><circle cx="571.96" cy="86.4" r="2.95"/><circle cx="578.22" cy="85.6" r="2.95"/><circle cx="584.48" cy="84.6" r="2.95"/><circle cx="590.74" cy="82.95" r="2.95"/><circle cx="597" cy="81.1" r="2.95"/><circle cx="603.26" cy="79" r="2.95"/><circle cx="609.52" cy="76.5" r="2.95"/><circle cx="615.78" cy="73.6" r="2.95"/><circle cx="622.04" cy="70.3" r="2.95"/><circle cx="628.3" cy="66.9" r="2.95"/><circle cx="634.56" cy="63.2" r="2.95"/><circle cx="640.82" cy="59.2" r="2.95"/><circle cx="647.08" cy="55" r="2.95"/><circle cx="653.34" cy="50.6" r="2.95"/><circle cx="659.6" cy="46.3" r="2.95"/></g>
<rect x="571.7" y="44.9" width="25.4" height="5.5" fill="#fff"/>
<text x="540.01" y="50.9" style="font-size:18.6px;" >30</text>
<text x="540.03" y="93.8" style="font-size:18.6px;" >15</text>
<text x="549.31" y="136.8" style="font-size:18.6px;" >0</text>
<text x="561.1" y="149.6" style="font-size:18.6px;" >0</text>
<text x="653.88" y="149.6" style="font-size:18.6px;" >0.5</text>
<text x="572.75" y="58" style="font-size:18.8px;font-style:italic;" >C</text>
<g transform="translate(586.2,60.73) scale(0.58)" fill="none" stroke="#000" stroke-linecap="round"><path d="M0.5,-1.6 C0.2,-0.2 1.6,0.6 3.2,-0.4 C5.5,-2.2 9.5,-9.5 13.0,-15.0" stroke-width="1.25"/><path d="M13.0,-15.0 C12.9,-10.5 13.3,-4.5 13.9,-1.0 C14.1,0.0 14.9,0.0 15.4,-0.6" stroke-width="2.0"/><path d="M6.0,-5.1 L13.3,-5.1" stroke-width="1.05"/></g>
<text x="601.39" y="149.4" style="font-size:15.5px;font-style:italic;" >ω</text>
<text x="612.75" y="152.1" style="font-size:12.5px;font-style:italic;" >n</text>
<line x1="625.6" y1="138.2" x2="620.6" y2="151.9" stroke="#000" stroke-width="1.15"/>
<text x="626.34" y="149.4" style="font-size:16.5px;" >t</text>
<rect x="35.4" y="396.5" width="296.2" height="268.9" fill="none" stroke="#a0a0a0" stroke-width="1"/>
<line x1="50.68" y1="665.4" x2="50.68" y2="662.9" stroke="#707070" stroke-width="0.9"/>
<line x1="50.68" y1="396.5" x2="50.68" y2="399" stroke="#707070" stroke-width="0.9"/>
<line x1="60.16" y1="665.4" x2="60.16" y2="662.9" stroke="#707070" stroke-width="0.9"/>
<line x1="60.16" y1="396.5" x2="60.16" y2="399" stroke="#707070" stroke-width="0.9"/>
<line x1="69.64" y1="665.4" x2="69.64" y2="662.9" stroke="#707070" stroke-width="0.9"/>
<line x1="69.64" y1="396.5" x2="69.64" y2="399" stroke="#707070" stroke-width="0.9"/>
<line x1="79.12" y1="665.4" x2="79.12" y2="662.9" stroke="#707070" stroke-width="0.9"/>
<line x1="79.12" y1="396.5" x2="79.12" y2="399" stroke="#707070" stroke-width="0.9"/>
<line x1="98.08" y1="665.4" x2="98.08" y2="662.9" stroke="#707070" stroke-width="0.9"/>
<line x1="98.08" y1="396.5" x2="98.08" y2="399" stroke="#707070" stroke-width="0.9"/>
<line x1="107.56" y1="665.4" x2="107.56" y2="662.9" stroke="#707070" stroke-width="0.9"/>
<line x1="107.56" y1="396.5" x2="107.56" y2="399" stroke="#707070" stroke-width="0.9"/>
<line x1="117.04" y1="665.4" x2="117.04" y2="662.9" stroke="#707070" stroke-width="0.9"/>
<line x1="117.04" y1="396.5" x2="117.04" y2="399" stroke="#707070" stroke-width="0.9"/>
<line x1="126.52" y1="665.4" x2="126.52" y2="662.9" stroke="#707070" stroke-width="0.9"/>
<line x1="126.52" y1="396.5" x2="126.52" y2="399" stroke="#707070" stroke-width="0.9"/>
<line x1="145.48" y1="665.4" x2="145.48" y2="662.9" stroke="#707070" stroke-width="0.9"/>
<line x1="145.48" y1="396.5" x2="145.48" y2="399" stroke="#707070" stroke-width="0.9"/>
<line x1="154.96" y1="665.4" x2="154.96" y2="662.9" stroke="#707070" stroke-width="0.9"/>
<line x1="154.96" y1="396.5" x2="154.96" y2="399" stroke="#707070" stroke-width="0.9"/>
<line x1="164.44" y1="665.4" x2="164.44" y2="662.9" stroke="#707070" stroke-width="0.9"/>
<line x1="164.44" y1="396.5" x2="164.44" y2="399" stroke="#707070" stroke-width="0.9"/>
<line x1="173.92" y1="665.4" x2="173.92" y2="662.9" stroke="#707070" stroke-width="0.9"/>
<line x1="173.92" y1="396.5" x2="173.92" y2="399" stroke="#707070" stroke-width="0.9"/>
<line x1="192.88" y1="665.4" x2="192.88" y2="662.9" stroke="#707070" stroke-width="0.9"/>
<line x1="192.88" y1="396.5" x2="192.88" y2="399" stroke="#707070" stroke-width="0.9"/>
<line x1="202.36" y1="665.4" x2="202.36" y2="662.9" stroke="#707070" stroke-width="0.9"/>
<line x1="202.36" y1="396.5" x2="202.36" y2="399" stroke="#707070" stroke-width="0.9"/>
<line x1="211.84" y1="665.4" x2="211.84" y2="662.9" stroke="#707070" stroke-width="0.9"/>
<line x1="211.84" y1="396.5" x2="211.84" y2="399" stroke="#707070" stroke-width="0.9"/>
<line x1="221.32" y1="665.4" x2="221.32" y2="662.9" stroke="#707070" stroke-width="0.9"/>
<line x1="221.32" y1="396.5" x2="221.32" y2="399" stroke="#707070" stroke-width="0.9"/>
<line x1="240.28" y1="665.4" x2="240.28" y2="662.9" stroke="#707070" stroke-width="0.9"/>
<line x1="240.28" y1="396.5" x2="240.28" y2="399" stroke="#707070" stroke-width="0.9"/>
<line x1="249.76" y1="665.4" x2="249.76" y2="662.9" stroke="#707070" stroke-width="0.9"/>
<line x1="249.76" y1="396.5" x2="249.76" y2="399" stroke="#707070" stroke-width="0.9"/>
<line x1="259.24" y1="665.4" x2="259.24" y2="662.9" stroke="#707070" stroke-width="0.9"/>
<line x1="259.24" y1="396.5" x2="259.24" y2="399" stroke="#707070" stroke-width="0.9"/>
<line x1="268.72" y1="665.4" x2="268.72" y2="662.9" stroke="#707070" stroke-width="0.9"/>
<line x1="268.72" y1="396.5" x2="268.72" y2="399" stroke="#707070" stroke-width="0.9"/>
<line x1="287.68" y1="665.4" x2="287.68" y2="662.9" stroke="#707070" stroke-width="0.9"/>
<line x1="287.68" y1="396.5" x2="287.68" y2="399" stroke="#707070" stroke-width="0.9"/>
<line x1="297.16" y1="665.4" x2="297.16" y2="662.9" stroke="#707070" stroke-width="0.9"/>
<line x1="297.16" y1="396.5" x2="297.16" y2="399" stroke="#707070" stroke-width="0.9"/>
<line x1="306.64" y1="665.4" x2="306.64" y2="662.9" stroke="#707070" stroke-width="0.9"/>
<line x1="306.64" y1="396.5" x2="306.64" y2="399" stroke="#707070" stroke-width="0.9"/>
<line x1="316.12" y1="665.4" x2="316.12" y2="662.9" stroke="#707070" stroke-width="0.9"/>
<line x1="316.12" y1="396.5" x2="316.12" y2="399" stroke="#707070" stroke-width="0.9"/>
<line x1="41.2" y1="665.4" x2="41.2" y2="661.1" stroke="#707070" stroke-width="0.9"/>
<line x1="41.2" y1="396.5" x2="41.2" y2="400.8" stroke="#707070" stroke-width="0.9"/>
<line x1="88.6" y1="665.4" x2="88.6" y2="661.1" stroke="#707070" stroke-width="0.9"/>
<line x1="88.6" y1="396.5" x2="88.6" y2="400.8" stroke="#707070" stroke-width="0.9"/>
<line x1="136" y1="665.4" x2="136" y2="661.1" stroke="#707070" stroke-width="0.9"/>
<line x1="136" y1="396.5" x2="136" y2="400.8" stroke="#707070" stroke-width="0.9"/>
<line x1="183.4" y1="665.4" x2="183.4" y2="661.1" stroke="#707070" stroke-width="0.9"/>
<line x1="183.4" y1="396.5" x2="183.4" y2="400.8" stroke="#707070" stroke-width="0.9"/>
<line x1="230.8" y1="665.4" x2="230.8" y2="661.1" stroke="#707070" stroke-width="0.9"/>
<line x1="230.8" y1="396.5" x2="230.8" y2="400.8" stroke="#707070" stroke-width="0.9"/>
<line x1="278.2" y1="665.4" x2="278.2" y2="661.1" stroke="#707070" stroke-width="0.9"/>
<line x1="278.2" y1="396.5" x2="278.2" y2="400.8" stroke="#707070" stroke-width="0.9"/>
<line x1="325.6" y1="665.4" x2="325.6" y2="661.1" stroke="#707070" stroke-width="0.9"/>
<line x1="325.6" y1="396.5" x2="325.6" y2="400.8" stroke="#707070" stroke-width="0.9"/>
<text x="26.58" y="687.3" style="font-size:23.4px;" >0.0</text>
<text x="74.23" y="687.3" style="font-size:23.4px;" >0.1</text>
<text x="121.57" y="687.3" style="font-size:23.4px;" >0.2</text>
<text x="168.79" y="687.3" style="font-size:23.4px;" >0.3</text>
<text x="215.91" y="687.3" style="font-size:23.4px;" >0.4</text>
<text x="263.59" y="687.3" style="font-size:23.4px;" >0.5</text>
<text x="310.88" y="687.3" style="font-size:23.4px;" >0.6</text>
<text x="172.99" y="708.5" style="font-size:21.5px;font-style:italic;" >ω</text>
<line x1="194.4" y1="694.1" x2="188.5" y2="711.8" stroke="#000" stroke-width="1.45"/>
<text x="195.37" y="708.5" style="font-size:23px;" >t</text>
<text transform="translate(20,530.8) rotate(-90)" text-anchor="middle" style="font-size:22.4px">B(<tspan style="font-style:italic">ω</tspan>) in a.u.</text>
<text x="-0.8" y="387.8" style="font-size:23.8px;" >(c)</text>
<line x1="69.4" y1="370.3" x2="69.4" y2="391.72" stroke="#000" stroke-width="1.74"/>
<text x="72.49" y="387.8" style="font-size:26.4px;" >Δ</text>
<line x1="73.2" y1="367" x2="90.7" y2="367" stroke="#000" stroke-width="1.3"/>
<text x="90.02" y="392.3" style="font-size:19.6px;font-style:italic;" >Q</text>
<line x1="108" y1="370.3" x2="108" y2="391.72" stroke="#000" stroke-width="1.74"/>
<text x="111.44" y="387.8" style="font-size:29.3px;" >=</text>
<text x="127.48" y="387.8" style="font-size:29.3px;" >0</text>
<text x="143.34" y="387.8" style="font-size:29.3px;" >.</text>
<text x="150.62" y="387.8" style="font-size:29.3px;" >1</text>
<text x="163.51" y="387.8" style="font-size:29.3px;" >t</text>
<text x="172.1" y="387.8" style="font-size:29.3px;" >,</text>
<line x1="188.5" y1="370.3" x2="188.5" y2="391.72" stroke="#000" stroke-width="1.74"/>
<text x="190.99" y="387.8" style="font-size:26.4px;" >Δ</text>
<line x1="191.7" y1="366.6" x2="209.5" y2="366.6" stroke="#000" stroke-width="1.3"/>
<text x="208.72" y="392.5" style="font-size:20.5px;" >0</text>
<line x1="222.7" y1="370.3" x2="222.7" y2="391.72" stroke="#000" stroke-width="1.74"/>
<text x="226.44" y="387.8" style="font-size:29.3px;" >=</text>
<text x="242.58" y="387.8" style="font-size:29.3px;" >0</text>
<text x="256.64" y="387.8" style="font-size:29.3px;" >.</text>
<text x="264.48" y="387.8" style="font-size:29.3px;" >0</text>
<text x="279.21" y="387.8" style="font-size:29.3px;" >2</text>
<text x="292.31" y="387.8" style="font-size:29.3px;" >t</text>
<line x1="84" y1="425.4" x2="120.3" y2="425.4" stroke="#0030c8" stroke-width="2.9"/>
<g transform="translate(129.2,429.7) scale(1)" fill="none" stroke="#000" stroke-linecap="round"><path d="M0.5,-1.6 C0.2,-0.2 1.6,0.6 3.2,-0.4 C5.5,-2.2 9.5,-9.5 13.0,-15.0" stroke-width="1.25"/><path d="M13.0,-15.0 C12.9,-10.5 13.3,-4.5 13.9,-1.0 C14.1,0.0 14.9,0.0 15.4,-0.6" stroke-width="2.0"/><path d="M6.0,-5.1 L13.3,-5.1" stroke-width="1.05"/></g>
<line x1="147.1" y1="427.7" x2="157.5" y2="427.7" stroke="#000" stroke-width="1"/>
<line x1="152.3" y1="422.5" x2="152.3" y2="432.9" stroke="#000" stroke-width="1"/>
<text x="159.3" y="431.6" style="font-size:17px;" >,</text>
<line x1="165.4" y1="427.7" x2="175.8" y2="427.7" stroke="#000" stroke-width="1"/>
<line x1="170.6" y1="422.5" x2="170.6" y2="432.9" stroke="#000" stroke-width="1"/>
<line x1="84" y1="464.5" x2="120.3" y2="464.5" stroke="#007b7b" stroke-width="2.9"/>
<g transform="translate(129.2,468.5) scale(1)" fill="none" stroke="#000" stroke-linecap="round"><path d="M0.5,-1.6 C0.2,-0.2 1.6,0.6 3.2,-0.4 C5.5,-2.2 9.5,-9.5 13.0,-15.0" stroke-width="1.25"/><path d="M13.0,-15.0 C12.9,-10.5 13.3,-4.5 13.9,-1.0 C14.1,0.0 14.9,0.0 15.4,-0.6" stroke-width="2.0"/><path d="M6.0,-5.1 L13.3,-5.1" stroke-width="1.05"/></g>
<line x1="147.1" y1="466.5" x2="157.5" y2="466.5" stroke="#000" stroke-width="1"/>
<line x1="152.3" y1="461.3" x2="152.3" y2="471.7" stroke="#000" stroke-width="1"/>
<text x="159.3" y="470.4" style="font-size:17px;" >,</text>
<line x1="165.3" y1="466.5" x2="175.7" y2="466.5" stroke="#000" stroke-width="1"/>
<line x1="84" y1="502.5" x2="120.3" y2="502.5" stroke="#c80000" stroke-width="2.9"/>
<g transform="translate(129.2,506.9) scale(1)" fill="none" stroke="#000" stroke-linecap="round"><path d="M0.5,-1.6 C0.2,-0.2 1.6,0.6 3.2,-0.4 C5.5,-2.2 9.5,-9.5 13.0,-15.0" stroke-width="1.25"/><path d="M13.0,-15.0 C12.9,-10.5 13.3,-4.5 13.9,-1.0 C14.1,0.0 14.9,0.0 15.4,-0.6" stroke-width="2.0"/><path d="M6.0,-5.1 L13.3,-5.1" stroke-width="1.05"/></g>
<line x1="146.5" y1="504.9" x2="157" y2="504.9" stroke="#000" stroke-width="1"/>
<path d="M42.2,664.31 L42.53,664.28 L42.86,664.26 L43.18,664.22 L43.51,664.19 L43.84,664.15 L44.17,664.11 L44.5,664.07 L44.83,664.02 L45.15,663.96 L45.48,663.91 L45.81,663.84 L46.14,663.77 L46.47,663.69 L46.79,663.6 L47.12,663.51 L47.45,663.4 L47.78,663.29 L48.11,663.17 L48.44,663.03 L48.76,662.89 L49.09,662.74 L49.42,662.58 L49.75,662.4 L50.08,662.23 L50.41,662.04 L50.73,661.85 L51.06,661.66 L51.39,661.46 L51.72,661.26 L52.05,661.06 L52.37,660.85 L52.7,660.65 L53.03,660.44 L53.36,660.22 L53.69,660.01 L54.02,659.78 L54.34,659.55 L54.67,659.3 L55,659.04 L55,659.04 L55.02,659.02 L55.04,659.01 L55.06,658.99 L55.08,658.97 L55.1,658.95 L55.13,658.94 L55.15,658.92 L55.17,658.9 L55.19,658.88 L55.21,658.87 L55.23,658.85 L55.25,658.83 L55.27,658.81 L55.29,658.79 L55.31,658.78 L55.33,658.76 L55.35,658.74 L55.38,658.72 L55.4,658.7 L55.42,658.68 L55.44,658.66 L55.46,658.65 L55.48,658.63 L55.5,658.61 L55.52,658.59 L55.54,658.57 L55.56,658.55 L55.58,658.53 L55.6,658.51 L55.63,658.49 L55.65,658.47 L55.67,658.45 L55.69,658.43 L55.71,658.41 L55.73,658.39 L55.75,658.37 L55.77,658.35 L55.79,658.33 L55.81,658.31 L55.83,658.29 L55.85,658.27 L55.88,658.25 L55.9,658.23 L55.92,658.21 L55.94,658.18 L55.96,658.16 L55.98,658.14 L56,658.12 L56.02,658.1 L56.04,658.08 L56.06,658.05 L56.08,658.03 L56.11,658.01 L56.13,657.99 L56.15,657.96 L56.17,657.94 L56.19,657.92 L56.21,657.9 L56.23,657.87 L56.25,657.85 L56.27,657.83 L56.29,657.8 L56.31,657.78 L56.33,657.75 L56.36,657.73 L56.38,657.71 L56.4,657.68 L56.42,657.66 L56.44,657.63 L56.46,657.61 L56.48,657.58 L56.5,657.56 L56.52,657.53 L56.54,657.51 L56.56,657.48 L56.58,657.46 L56.61,657.43 L56.63,657.4 L56.65,657.38 L56.67,657.35 L56.69,657.32 L56.71,657.3 L56.73,657.27 L56.75,657.24 L56.77,657.22 L56.79,657.19 L56.81,657.16 L56.83,657.13 L56.86,657.1 L56.88,657.08 L56.9,657.05 L56.92,657.02 L56.94,656.99 L56.96,656.96 L56.98,656.93 L57,656.9 L57.02,656.87 L57.04,656.84 L57.06,656.81 L57.09,656.78 L57.11,656.75 L57.13,656.72 L57.15,656.69 L57.17,656.65 L57.19,656.62 L57.21,656.59 L57.23,656.56 L57.25,656.53 L57.27,656.49 L57.29,656.46 L57.31,656.43 L57.34,656.39 L57.36,656.36 L57.38,656.33 L57.4,656.29 L57.42,656.26 L57.44,656.22 L57.46,656.19 L57.48,656.15 L57.5,656.11 L57.52,656.08 L57.54,656.04 L57.56,656.01 L57.59,655.97 L57.61,655.93 L57.63,655.89 L57.65,655.86 L57.67,655.82 L57.69,655.78 L57.71,655.74 L57.73,655.7 L57.75,655.66 L57.77,655.62 L57.79,655.58 L57.81,655.54 L57.84,655.5 L57.86,655.46 L57.88,655.42 L57.9,655.38 L57.92,655.33 L57.94,655.29 L57.96,655.25 L57.98,655.2 L58,655.16 L58.02,655.12 L58.04,655.07 L58.07,655.03 L58.09,654.98 L58.11,654.94 L58.13,654.89 L58.15,654.84 L58.17,654.8 L58.19,654.75 L58.21,654.7 L58.23,654.65 L58.25,654.6 L58.27,654.55 L58.29,654.5 L58.32,654.45 L58.34,654.4 L58.36,654.35 L58.38,654.3 L58.4,654.25 L58.42,654.2 L58.44,654.14 L58.46,654.09 L58.48,654.03 L58.5,653.98 L58.52,653.93 L58.54,653.87 L58.57,653.81 L58.59,653.76 L58.61,653.7 L58.63,653.64 L58.65,653.58 L58.67,653.52 L58.69,653.46 L58.71,653.4 L58.73,653.34 L58.75,653.28 L58.77,653.22 L58.79,653.16 L58.82,653.09 L58.84,653.03 L58.86,652.96 L58.88,652.9 L58.9,652.83 L58.92,652.77 L58.94,652.7 L58.96,652.63 L58.98,652.56 L59,652.49 L59.02,652.42 L59.05,652.35 L59.07,652.28 L59.09,652.2 L59.11,652.13 L59.13,652.06 L59.15,651.98 L59.17,651.91 L59.19,651.83 L59.21,651.75 L59.23,651.67 L59.25,651.59 L59.27,651.51 L59.3,651.43 L59.32,651.35 L59.34,651.27 L59.36,651.18 L59.38,651.1 L59.4,651.01 L59.42,650.93 L59.44,650.84 L59.46,650.75 L59.48,650.66 L59.5,650.57 L59.52,650.48 L59.55,650.39 L59.57,650.29 L59.59,650.2 L59.61,650.1 L59.63,650 L59.65,649.9 L59.67,649.8 L59.69,649.7 L59.71,649.6 L59.73,649.5 L59.75,649.39 L59.77,649.29 L59.8,649.18 L59.82,649.07 L59.84,648.96 L59.86,648.85 L59.88,648.74 L59.9,648.62 L59.92,648.51 L59.94,648.39 L59.96,648.27 L59.98,648.15 L60,648.03 L60.03,647.91 L60.05,647.78 L60.07,647.66 L60.09,647.53 L60.11,647.4 L60.13,647.27 L60.15,647.13 L60.17,647 L60.19,646.86 L60.21,646.72 L60.23,646.58 L60.25,646.44 L60.28,646.3 L60.3,646.15 L60.32,646 L60.34,645.85 L60.36,645.7 L60.38,645.55 L60.4,645.39 L60.42,645.23 L60.44,645.07 L60.46,644.91 L60.48,644.74 L60.5,644.57 L60.53,644.4 L60.55,644.23 L60.57,644.05 L60.59,643.88 L60.61,643.69 L60.63,643.51 L60.65,643.33 L60.67,643.14 L60.69,642.95 L60.71,642.75 L60.73,642.55 L60.75,642.35 L60.78,642.15 L60.8,641.94 L60.82,641.73 L60.84,641.52 L60.86,641.3 L60.88,641.08 L60.9,640.86 L60.92,640.64 L60.94,640.41 L60.96,640.17 L60.98,639.93 L61.01,639.69 L61.03,639.45 L61.05,639.2 L61.07,638.94 L61.09,638.69 L61.11,638.42 L61.13,638.16 L61.15,637.89 L61.17,637.61 L61.19,637.33 L61.21,637.05 L61.23,636.76 L61.26,636.46 L61.28,636.16 L61.3,635.86 L61.32,635.55 L61.34,635.23 L61.36,634.91 L61.38,634.58 L61.4,634.25 L61.42,633.91 L61.44,633.57 L61.46,633.22 L61.48,632.86 L61.51,632.49 L61.53,632.12 L61.55,631.74 L61.57,631.36 L61.59,630.97 L61.61,630.57 L61.63,630.16 L61.65,629.74 L61.67,629.32 L61.69,628.89 L61.71,628.45 L61.73,628 L61.76,627.54 L61.78,627.07 L61.8,626.6 L61.82,626.11 L61.84,625.61 L61.86,625.11 L61.88,624.59 L61.9,624.06 L61.92,623.52 L61.94,622.97 L61.96,622.41 L61.98,621.84 L62.01,621.25 L62.03,620.65 L62.05,620.04 L62.07,619.42 L62.09,618.78 L62.11,618.12 L62.13,617.46 L62.15,616.77 L62.17,616.07 L62.19,615.36 L62.21,614.63 L62.24,613.88 L62.26,613.11 L62.28,612.33 L62.3,611.53 L62.32,610.7 L62.34,609.86 L62.36,609 L62.38,608.12 L62.4,607.21 L62.42,606.28 L62.44,605.33 L62.46,604.36 L62.49,603.36 L62.51,602.33 L62.53,601.28 L62.55,600.2 L62.57,599.09 L62.59,597.95 L62.61,596.78 L62.63,595.58 L62.65,594.35 L62.67,593.08 L62.69,591.78 L62.71,590.44 L62.74,589.06 L62.76,587.65 L62.78,586.19 L62.8,584.69 L62.82,583.15 L62.84,581.56 L62.86,579.93 L62.88,578.24 L62.9,576.51 L62.92,574.72 L62.94,572.88 L62.96,570.98 L62.99,569.02 L63.01,567 L63.03,564.91 L63.05,562.75 L63.07,560.53 L63.09,558.23 L63.11,555.86 L63.13,553.4 L63.15,550.86 L63.17,548.24 L63.19,545.52 L63.22,542.71 L63.24,539.8 L63.26,536.79 L63.28,533.67 L63.3,530.43 L63.32,527.07 L63.34,523.59 L63.36,519.98 L63.38,516.24 L63.4,512.35 L63.42,508.3 L63.44,504.1 L63.47,499.74 L63.49,495.2 L63.51,490.47 L63.53,485.56 L63.55,480.44 L63.57,475.11 L63.59,469.55 L63.61,463.76 L63.63,457.71 L63.65,451.41 L63.67,444.83 L63.69,437.96 L63.72,430.78 L63.74,423.27 L63.76,415.42 L63.78,407.22 L63.8,398.63 L63.82,389.63 L63.84,380.21 L63.86,380 L63.88,380 L63.9,380 L63.92,380 L63.94,380 L63.97,380 L63.99,380 L64.01,380 L64.03,380 L64.05,380 L64.07,380 L64.09,380 L64.11,380 L64.13,380 L64.15,380 L64.17,380 L64.2,380 L64.22,380 L64.24,380 L64.26,380 L64.28,380 L64.3,380 L64.32,380 L64.34,380 L64.36,380 L64.38,380 L64.4,380 L64.42,380 L64.45,380 L64.47,380 L64.49,380 L64.51,380 L64.53,380 L64.55,380 L64.57,380 L64.59,380 L64.61,380 L64.63,380 L64.65,380 L64.67,380 L64.7,380 L64.72,380 L64.74,380 L64.76,380 L64.78,380 L64.8,380 L64.82,380 L64.84,380 L64.86,380 L64.88,380 L64.9,380 L64.92,380 L64.95,380 L64.97,380 L64.99,380 L65.01,380 L65.03,380 L65.05,380 L65.07,380 L65.09,380 L65.11,380 L65.13,380 L65.15,380 L65.18,380 L65.2,380 L65.22,380 L65.24,380 L65.26,380 L65.28,380 L65.3,380 L65.32,380 L65.34,380 L65.36,380 L65.38,380 L65.4,380 L65.43,380 L65.45,380 L65.47,380 L65.49,380 L65.51,380 L65.53,380 L65.55,380 L65.57,380 L65.59,380 L65.61,380 L65.63,380 L65.65,380 L65.68,380 L65.7,380 L65.72,387.3 L65.74,396.71 L65.76,405.69 L65.78,414.26 L65.8,422.44 L65.82,430.26 L65.84,437.72 L65.86,444.86 L65.88,451.69 L65.9,458.22 L65.93,464.47 L65.95,470.46 L65.97,476.2 L65.99,481.69 L66.01,486.96 L66.03,492.02 L66.05,496.87 L66.07,501.52 L66.09,506 L66.11,510.29 L66.13,514.42 L66.16,518.39 L66.18,522.21 L66.2,525.89 L66.22,529.43 L66.24,532.84 L66.26,536.12 L66.28,539.29 L66.3,542.34 L66.32,545.28 L66.34,548.12 L66.36,550.86 L66.38,553.51 L66.41,556.07 L66.43,558.54 L66.45,560.92 L66.47,563.23 L66.49,565.46 L66.51,567.62 L66.53,569.71 L66.55,571.74 L66.57,573.7 L66.59,575.6 L66.61,577.44 L66.63,579.22 L66.66,580.95 L66.68,582.62 L66.7,584.25 L66.72,585.83 L66.74,587.36 L66.76,588.84 L66.78,590.29 L66.8,591.69 L66.82,593.05 L66.84,594.38 L66.86,595.66 L66.88,596.92 L66.91,598.13 L66.93,599.32 L66.95,600.47 L66.97,601.59 L66.99,602.68 L67.01,603.74 L67.03,604.78 L67.05,605.79 L67.07,606.77 L67.09,607.73 L67.11,608.66 L67.14,609.57 L67.16,610.46 L67.18,611.32 L67.2,612.17 L67.22,612.99 L67.24,613.79 L67.26,614.58 L67.28,615.34 L67.3,616.09 L67.32,616.82 L67.34,617.53 L67.36,618.23 L67.39,618.91 L67.41,619.57 L67.43,620.22 L67.45,620.86 L67.47,621.48 L67.49,622.09 L67.51,622.68 L67.53,623.26 L67.55,623.83 L67.57,624.39 L67.59,624.93 L67.61,625.46 L67.64,625.99 L67.66,626.5 L67.68,627 L67.7,627.49 L67.72,627.97 L67.74,628.44 L67.76,628.9 L67.78,629.35 L67.8,629.79 L67.82,630.27 L67.84,630.74 L67.86,631.21 L67.89,631.66 L67.91,632.1 L67.93,632.53 L67.95,632.96 L67.97,633.38 L67.99,633.78 L68.01,634.18 L68.03,634.58 L68.05,634.96 L68.07,635.34 L68.09,635.71 L68.12,636.07 L68.14,636.43 L68.16,636.78 L68.18,637.12 L68.2,637.46 L68.22,637.79 L68.24,638.11 L68.26,638.43 L68.28,638.74 L68.3,639.05 L68.32,639.35 L68.34,639.65 L68.37,639.94 L68.39,640.22 L68.41,640.5 L68.43,640.78 L68.45,641.05 L68.47,641.32 L68.49,641.58 L68.51,641.83 L68.53,642.09 L68.55,642.33 L68.57,642.58 L68.59,642.82 L68.62,643.05 L68.64,643.28 L68.66,643.51 L68.68,643.74 L68.7,643.96 L68.72,644.17 L68.74,644.39 L68.76,644.6 L68.78,644.8 L68.8,645.01 L68.82,645.21 L68.84,645.4 L68.87,645.6 L68.89,645.79 L68.91,645.97 L68.93,646.16 L68.95,646.34 L68.97,646.52 L68.99,646.69 L69.01,646.87 L69.03,647.04 L69.05,647.21 L69.07,647.37 L69.1,647.54 L69.12,647.7 L69.14,647.85 L69.16,648.01 L69.18,648.16 L69.2,648.31 L69.22,648.46 L69.24,648.61 L69.26,648.75 L69.28,648.9 L69.3,649.04 L69.32,649.18 L69.35,649.31 L69.37,649.45 L69.39,649.58 L69.41,649.71 L69.43,649.84 L69.45,649.97 L69.47,650.09 L69.49,650.22 L69.51,650.34 L69.53,650.46 L69.55,650.58 L69.57,650.69 L69.6,650.81 L69.62,650.92 L69.64,651.03 L69.66,651.14 L69.68,651.25 L69.7,651.36 L69.72,651.47 L69.74,651.57 L69.76,651.67 L69.78,651.78 L69.8,651.88 L69.82,651.98 L69.85,652.07 L69.87,652.17 L69.89,652.27 L69.91,652.36 L69.93,652.45 L69.95,652.55 L69.97,652.64 L69.99,652.73 L70.01,652.81 L70.03,652.9 L70.05,652.99 L70.08,653.07 L70.1,653.16 L70.12,653.24 L70.14,653.32 L70.16,653.4 L70.18,653.48 L70.2,653.56 L70.22,653.64 L70.24,653.72 L70.26,653.79 L70.28,653.87 L70.3,653.94 L70.33,654.02 L70.35,654.09 L70.37,654.16 L70.39,654.23 L70.41,654.3 L70.43,654.37 L70.45,654.44 L70.47,654.51 L70.49,654.57 L70.51,654.64 L70.53,654.7 L70.55,654.77 L70.58,654.83 L70.6,654.89 L70.62,654.96 L70.64,655.02 L70.66,655.08 L70.68,655.14 L70.7,655.2 L70.72,655.26 L70.74,655.31 L70.76,655.37 L70.78,655.43 L70.8,655.48 L70.83,655.54 L70.85,655.59 L70.87,655.65 L70.89,655.7 L70.91,655.76 L70.93,655.81 L70.95,655.86 L70.97,655.91 L70.99,655.96 L71.01,656.01 L71.03,656.06 L71.06,656.11 L71.08,656.16 L71.1,656.21 L71.12,656.26 L71.14,656.3 L71.16,656.35 L71.18,656.39 L71.2,656.44 L71.22,656.49 L71.24,656.53 L71.26,656.57 L71.28,656.62 L71.31,656.66 L71.33,656.7 L71.35,656.75 L71.37,656.79 L71.39,656.83 L71.41,656.87 L71.43,656.91 L71.45,656.95 L71.47,656.99 L71.49,657.03 L71.51,657.07 L71.53,657.11 L71.56,657.15 L71.58,657.18 L71.6,657.22 L71.62,657.26 L71.64,657.3 L71.66,657.33 L71.68,657.37 L71.7,657.4 L71.72,657.44 L71.74,657.47 L71.76,657.51 L71.78,657.54 L71.81,657.58 L71.83,657.61 L71.85,657.64 L71.87,657.68 L71.89,657.71 L71.91,657.74 L71.93,657.77 L71.95,657.8 L71.97,657.84 L71.99,657.87 L72.01,657.9 L72.04,657.93 L72.06,657.96 L72.08,657.99 L72.1,658.02 L72.12,658.05 L72.14,658.08 L72.16,658.1 L72.18,658.13 L72.2,658.16 L72.22,658.19 L72.24,658.22 L72.26,658.24 L72.29,658.27 L72.31,658.3 L72.33,658.33 L72.35,658.35 L72.37,658.38 L72.39,658.4 L72.41,658.43 L72.43,658.46 L72.45,658.48 L72.47,658.51 L72.49,658.53 L72.51,658.56 L72.54,658.58 L72.56,658.6 L72.58,658.63 L72.6,658.65 L72.62,658.68 L72.64,658.7 L72.66,658.72 L72.68,658.74 L72.7,658.77 L72.72,658.79 L72.74,658.81 L72.76,658.83 L72.79,658.86 L72.81,658.88 L72.83,658.9 L72.85,658.92 L72.87,658.94 L72.89,658.96 L72.91,658.98 L72.93,659 L72.95,659.02 L72.97,659.05 L72.99,659.07 L73.02,659.09 L73.04,659.11 L73.06,659.12 L73.08,659.14 L73.1,659.16 L73.12,659.18 L73.14,659.2 L73.16,659.22 L73.18,659.24 L73.2,659.26 L73.22,659.28 L73.24,659.29 L73.27,659.31 L73.29,659.33 L73.31,659.35 L73.33,659.36 L73.35,659.38 L73.37,659.4 L73.39,659.42 L73.41,659.43 L73.43,659.45 L73.45,659.47 L73.47,659.48 L73.49,659.5 L73.52,659.52 L73.54,659.53 L73.56,659.55 L73.58,659.56 L73.6,659.58 L73.62,659.6 L73.64,659.61 L73.66,659.63 L73.68,659.64 L73.7,659.66 L73.72,659.67 L73.74,659.69 L73.77,659.7 L73.79,659.72 L73.81,659.73 L73.83,659.75 L73.85,659.76 L73.87,659.77 L73.89,659.79 L73.91,659.8 L73.93,659.82 L73.95,659.83 L73.97,659.84 L73.99,659.86 L74.02,659.87 L74.04,659.88 L74.06,659.9 L74.08,659.91 L74.1,659.92 L74.12,659.94 L74.14,659.95 L74.16,659.96 L74.18,659.98 L74.2,659.99 L74.22,660 L74.25,660.01 L74.27,660.03 L74.29,660.04 L74.31,660.05 L74.33,660.06 L74.35,660.07 L74.37,660.09 L74.39,660.1 L74.41,660.11 L74.43,660.12 L74.45,660.13 L74.47,660.14 L74.5,660.15 L74.52,660.17 L74.54,660.18 L74.56,660.19 L74.58,660.2 L74.6,660.21 L74.62,660.22 L74.64,660.23 L74.66,660.24 L74.68,660.25 L74.7,660.26 L74.72,660.27 L74.75,660.28 L74.77,660.29 L74.79,660.31 L74.81,660.32 L74.83,660.33 L74.85,660.34 L74.87,660.35 L74.89,660.35 L74.91,660.36 L74.93,660.37 L74.95,660.38 L74.97,660.39 L75,660.4 L75.02,660.41 L75.04,660.42 L75.06,660.43 L75.08,660.44 L75.1,660.45 L75.12,660.46 L75.14,660.47 L75.16,660.48 L75.18,660.49 L75.2,660.49 L75.23,660.5 L75.25,660.51 L75.27,660.52 L75.29,660.53 L75.31,660.54 L75.33,660.55 L75.35,660.55 L75.37,660.56 L75.39,660.57 L75.41,660.58 L75.43,660.59 L75.45,660.6 L75.48,660.6 L75.5,660.61 L75.52,660.62 L75.54,660.63 L75.56,660.64 L75.58,660.64 L75.6,660.65 L75.62,660.66 L75.64,660.67 L75.66,660.67 L75.68,660.68 L75.7,660.69 L75.73,660.7 L75.75,660.7 L75.77,660.71 L75.79,660.72 L75.81,660.73 L75.83,660.73 L75.85,660.74 L75.87,660.75 L75.89,660.76 L75.91,660.76 L75.93,660.77 L75.95,660.78 L75.98,660.78 L76,660.79 L76.02,660.8 L76.04,660.8 L76.06,660.81 L76.08,660.82 L76.1,660.82 L76.12,660.83 L76.14,660.84 L76.16,660.84 L76.18,660.85 L76.21,660.86 L76.23,660.86 L76.25,660.87 L76.27,660.87 L76.29,660.88 L76.31,660.89 L76.33,660.89 L76.35,660.9 L76.37,660.91 L76.39,660.91 L76.41,660.92 L76.43,660.92 L76.46,660.93 L76.48,660.94 L76.5,660.94 L76.52,660.95 L76.54,660.95 L76.56,660.96 L76.58,660.96 L76.6,660.97 L76.62,660.98 L76.64,660.98 L76.66,660.99 L76.68,660.99 L76.71,661 L76.73,661 L76.75,661.01 L76.77,661.01 L76.79,661.02 L76.81,661.02 L76.83,661.03 L76.85,661.03 L76.87,661.04 L76.89,661.05 L76.91,661.05 L76.93,661.06 L76.96,661.06 L76.98,661.07 L77,661.07 L77.02,661.08 L77.04,661.08 L77.06,661.09 L77.08,661.09 L77.1,661.1 L77.12,661.1 L77.14,661.1 L77.16,661.11 L77.19,661.11 L77.21,661.12 L77.23,661.12 L77.25,661.13 L77.27,661.13 L77.29,661.14 L77.31,661.14 L77.33,661.15 L77.35,661.15 L77.37,661.16 L77.39,661.16 L77.41,661.16 L77.44,661.17 L77.46,661.17 L77.48,661.18 L77.5,661.18 L77.52,661.19 L77.54,661.19 L77.56,661.2 L77.58,661.2 L77.6,661.2 L77.62,661.21 L77.64,661.21 L77.66,661.22 L77.69,661.22 L77.71,661.22 L77.73,661.23 L77.75,661.23 L77.77,661.24 L77.79,661.24 L77.81,661.24 L77.83,661.25 L77.85,661.25 L77.87,661.26 L77.89,661.26 L77.91,661.26 L77.94,661.27 L77.96,661.27 L77.98,661.28 L78,661.28 L78.02,661.28 L78.04,661.29 L78.06,661.29 L78.08,661.29 L78.1,661.3 L78.12,661.3 L78.14,661.3 L78.17,661.31 L78.19,661.31 L78.21,661.32 L78.23,661.32 L78.25,661.32 L78.27,661.33 L78.29,661.33 L78.31,661.33 L78.33,661.34 L78.35,661.34 L78.37,661.34 L78.39,661.35 L78.42,661.35 L78.44,661.35 L78.46,661.36 L78.48,661.36 L78.5,661.36 L78.52,661.37 L78.54,661.37 L78.56,661.37 L78.58,661.38 L78.6,661.38 L78.62,661.38 L78.64,661.39 L78.67,661.39 L78.69,661.39 L78.71,661.4 L78.73,661.4 L78.75,661.4 L78.77,661.4 L78.79,661.41 L78.81,661.41 L78.83,661.41 L78.85,661.42 L78.87,661.42 L78.89,661.42 L78.92,661.43 L78.94,661.43 L78.96,661.43 L78.98,661.43 L79,661.44 L79.02,661.44 L79.04,661.44 L79.06,661.45 L79.08,661.45 L79.1,661.45 L79.12,661.45 L79.15,661.46 L79.17,661.46 L79.19,661.46 L79.21,661.46 L79.23,661.47 L79.25,661.47 L79.27,661.47 L79.29,661.48 L79.31,661.48 L79.33,661.48 L79.35,661.48 L79.37,661.49 L79.4,661.49 L79.42,661.49 L79.44,661.49 L79.46,661.5 L79.48,661.5 L79.5,661.5 L79.52,661.5 L79.54,661.51 L79.56,661.51 L79.58,661.51 L79.6,661.51 L79.62,661.52 L79.65,661.52 L79.67,661.52 L79.69,661.52 L79.71,661.53 L79.73,661.53 L79.75,661.53 L79.77,661.53 L79.79,661.53 L79.81,661.54 L79.83,661.54 L79.85,661.54 L79.87,661.54 L79.9,661.55 L79.92,661.55 L79.94,661.55 L79.96,661.55 L79.98,661.56 L80,661.56 L80,661.56 L81.24,661.67 L82.48,661.75 L83.71,661.82 L84.95,661.87 L86.19,661.91 L87.43,661.93 L88.67,661.96 L89.91,661.97 L91.14,661.99 L92.38,662 L93.62,662 L94.86,662 L96.1,662 L97.33,661.98 L98.57,661.96 L99.81,661.92 L101.05,661.88 L102.29,661.83 L103.53,661.78 L104.76,661.72 L106,661.67 L107.24,661.61 L108.48,661.56 L109.72,661.5 L110.95,661.45 L112.19,661.4 L113.43,661.35 L114.67,661.29 L115.91,661.23 L117.15,661.17 L118.38,661.11 L119.62,661.05 L120.86,660.99 L122.1,660.93 L123.34,660.87 L124.57,660.82 L125.81,660.76 L127.05,660.71 L128.29,660.66 L129.53,660.6 L130.77,660.55 L132,660.5 L133.24,660.45 L134.48,660.4 L135.72,660.34 L136.96,660.29 L138.19,660.24 L139.43,660.19 L140.67,660.13 L141.91,660.08 L143.15,660.02 L144.39,659.97 L145.62,659.91 L146.86,659.85 L148.1,659.79 L149.34,659.73 L150.58,659.66 L151.82,659.6 L153.05,659.54 L154.29,659.47 L155.53,659.41 L156.77,659.34 L158.01,659.28 L159.24,659.22 L160.48,659.15 L161.72,659.09 L162.96,659.04 L164.2,658.98 L165.44,658.93 L166.67,658.87 L167.91,658.83 L169.15,658.78 L170.39,658.74 L171.63,658.69 L172.86,658.65 L174.1,658.61 L175.34,658.56 L176.58,658.52 L177.82,658.48 L179.06,658.45 L180.29,658.41 L181.53,658.37 L182.77,658.33 L184.01,658.3 L185.25,658.26 L186.48,658.22 L187.72,658.19 L188.96,658.16 L190.2,658.12 L191.44,658.09 L192.68,658.06 L193.91,658.02 L195.15,657.99 L196.39,657.96 L197.63,657.93 L198.87,657.9 L200.1,657.87 L201.34,657.84 L202.58,657.81 L203.82,657.78 L205.06,657.75 L206.3,657.72 L207.53,657.69 L208.77,657.66 L210.01,657.63 L211.25,657.6 L212.49,657.58 L213.72,657.55 L214.96,657.52 L216.2,657.49 L217.44,657.47 L218.68,657.44 L219.92,657.41 L221.15,657.39 L222.39,657.36 L223.63,657.34 L224.87,657.31 L226.11,657.29 L227.34,657.27 L228.58,657.24 L229.82,657.22 L231.06,657.2 L232.3,657.18 L233.54,657.16 L234.77,657.14 L236.01,657.12 L237.25,657.1 L238.49,657.08 L239.73,657.06 L240.96,657.04 L242.2,657.03 L243.44,657.01 L244.68,656.99 L245.92,656.97 L247.16,656.96 L248.39,656.94 L249.63,656.92 L250.87,656.91 L252.11,656.89 L253.35,656.87 L254.58,656.86 L255.82,656.84 L257.06,656.83 L258.3,656.81 L259.54,656.8 L260.78,656.79 L262.01,656.78 L263.25,656.76 L264.49,656.75 L265.73,656.74 L266.97,656.73 L268.21,656.72 L269.44,656.71 L270.68,656.7 L271.92,656.7 L273.16,656.69 L274.4,656.68 L275.63,656.68 L276.87,656.67 L278.11,656.66 L279.35,656.66 L280.59,656.65 L281.83,656.64 L283.06,656.64 L284.3,656.63 L285.54,656.62 L286.78,656.62 L288.02,656.61 L289.25,656.6 L290.49,656.6 L291.73,656.59 L292.97,656.59 L294.21,656.58 L295.45,656.58 L296.68,656.57 L297.92,656.56 L299.16,656.56 L300.4,656.55 L301.64,656.55 L302.87,656.55 L304.11,656.54 L305.35,656.54 L306.59,656.53 L307.83,656.53 L309.07,656.53 L310.3,656.52 L311.54,656.52 L312.78,656.52 L314.02,656.51 L315.26,656.51 L316.49,656.51 L317.73,656.51 L318.97,656.5 L320.21,656.5 L321.45,656.5 L322.69,656.5 L323.92,656.5 L325.16,656.5 L326.4,656.5" fill="none" stroke="#0030c8" stroke-width="2.9" stroke-linejoin="round" clip-path="url(#cc)"/>
<path d="M75.43,665.21 L76.23,665.23 L77.03,665.24 L77.84,665.25 L78.66,665.25 L79.5,665.25 L80.33,665.24 L81.18,665.22 L82.03,665.2 L82.89,665.18 L83.76,665.14 L84.63,665.1 L85.5,665.05 L86.38,664.99 L87.26,664.92 L88.14,664.85 L89.03,664.76 L89.91,664.67 L90.8,664.57 L91.69,664.46 L92.58,664.33 L93.47,664.2 L94.35,664.06 L95.24,663.9 L96.12,663.74 L97,663.56 L97.87,663.37 L98.74,663.16 L99.61,662.95 L100.47,662.72 L101.32,662.48 L102.17,662.23 L103.01,661.96 L103.84,661.68 L104.66,661.38 L105.48,661.07 L106.28,660.74 L107.08,660.4 L107.86,660.04 L108.64,659.67 L109.4,659.28 L110.15,658.87 L110.88,658.45 L111.6,658.01 L112.32,657.56 L113.01,657.08 L113.7,656.6 L114.37,656.1 L115.03,655.58 L115.68,655.05 L116.32,654.5 L116.95,653.95 L117.56,653.37 L118.17,652.79 L118.76,652.19 L119.34,651.58 L119.92,650.96 L120.48,650.33 L121.03,649.68 L121.57,649.03 L122.1,648.36 L122.63,647.68 L123.14,647 L123.64,646.3 L124.14,645.59 L124.62,644.88 L125.1,644.16 L125.57,643.43 L126.03,642.69 L126.48,641.94 L126.92,641.19 L127.36,640.43 L127.78,639.66 L128.2,638.89 L128.61,638.11 L129.02,637.33 L129.42,636.54 L129.81,635.74 L130.19,634.95 L130.57,634.14 L130.94,633.34 L131.31,632.53 L131.67,631.72 L132.02,630.9 L132.37,630.08 L132.71,629.26 L133.05,628.44 L133.38,627.62 L133.71,626.8 L134.03,625.97 L134.35,625.15 L134.66,624.32 L134.97,623.5 L135.27,622.67 L135.58,621.85 L135.87,621.02 L136.17,620.19 L136.46,619.37 L136.75,618.54 L137.03,617.71 L137.31,616.89 L137.59,616.06 L137.87,615.23 L138.14,614.41 L138.42,613.58 L138.69,612.75 L138.96,611.93 L139.23,611.1 L139.5,610.27 L139.76,609.45 L140.03,608.62 L140.3,607.8 L140.56,606.97 L140.83,606.15 L141.09,605.32 L141.36,604.5 L141.62,603.68 L141.89,602.85 L142.16,602.03 L142.42,601.21 L142.69,600.39 L142.96,599.57 L143.24,598.75 L143.51,597.93 L143.79,597.12 L144.07,596.3 L144.35,595.48 L144.63,594.67 L144.92,593.86 L145.2,593.04 L145.5,592.23 L145.79,591.42 L146.09,590.61 L146.39,589.81 L146.7,589 L147.01,588.19 L147.33,587.39 L147.65,586.59 L147.97,585.79 L148.3,584.99 L148.63,584.19 L148.97,583.39 L149.32,582.6 L149.67,581.8 L150.02,581.01 L150.39,580.22 L150.76,579.43 L151.13,578.65 L151.51,577.86 L151.9,577.08 L152.3,576.3 L152.7,575.52 L153.11,574.74 L153.53,573.97 L153.95,573.2 L154.39,572.43 L154.83,571.67 L155.29,570.92 L155.76,570.2 L156.25,569.5 L156.75,568.82 L157.28,568.19 L157.82,567.59 L158.39,567.04 L158.98,566.54 L159.6,566.09 L160.25,565.7 L160.93,565.38 L161.64,565.13 L162.37,564.95 L163.12,564.85 L163.88,564.84 L164.63,564.92 L165.39,565.1 L166.13,565.37 L166.86,565.74 L167.58,566.2 L168.27,566.73 L168.95,567.34 L169.61,568 L170.24,568.72 L170.84,569.49 L171.42,570.3 L171.97,571.14 L172.5,572 L173,572.88 L173.49,573.76 L173.96,574.64 L174.42,575.52 L174.87,576.38 L175.31,577.22 L175.75,578.05 L176.17,578.87 L176.59,579.68 L177,580.47 L177.41,581.26 L177.81,582.03 L178.21,582.8 L178.61,583.56 L179,584.31 L179.39,585.05 L179.78,585.79 L180.16,586.52 L180.55,587.24 L180.94,587.97 L181.33,588.68 L181.72,589.4 L182.11,590.12 L182.51,590.83 L182.91,591.54 L183.31,592.25 L183.72,592.97 L184.14,593.69 L184.56,594.4 L184.98,595.12 L185.42,595.84 L185.86,596.56 L186.3,597.29 L186.75,598.01 L187.21,598.73 L187.67,599.46 L188.14,600.18 L188.61,600.9 L189.09,601.63 L189.58,602.35 L190.07,603.07 L190.57,603.79 L191.07,604.51 L191.58,605.22 L192.09,605.94 L192.61,606.65 L193.13,607.36 L193.66,608.07 L194.2,608.77 L194.74,609.47 L195.28,610.17 L195.84,610.87 L196.39,611.56 L196.95,612.24 L197.52,612.93 L198.1,613.61 L198.67,614.28 L199.26,614.95 L199.85,615.61 L200.44,616.27 L201.04,616.92 L201.64,617.57 L202.25,618.21 L202.87,618.85 L203.49,619.48 L204.11,620.1 L204.74,620.71 L205.38,621.32 L206.02,621.92 L206.66,622.51 L207.31,623.1 L207.97,623.67 L208.63,624.24 L209.29,624.8 L209.96,625.35 L210.64,625.89 L211.32,626.43 L212,626.95 L212.69,627.47 L213.38,627.97 L214.08,628.47 L214.78,628.96 L215.49,629.44 L216.2,629.91 L216.92,630.38 L217.64,630.83 L218.36,631.28 L219.09,631.72 L219.82,632.15 L220.56,632.57 L221.3,632.99 L222.04,633.4 L222.79,633.8 L223.54,634.19 L224.3,634.57 L225.06,634.95 L225.82,635.32 L226.59,635.68 L227.36,636.04 L228.13,636.39 L228.91,636.73 L229.69,637.07 L230.48,637.39 L231.27,637.72 L232.06,638.03 L232.85,638.34 L233.65,638.64 L234.45,638.94 L235.25,639.23 L236.06,639.51 L236.87,639.79 L237.68,640.06 L238.49,640.33 L239.31,640.59 L240.13,640.84 L240.95,641.09 L241.78,641.33 L242.61,641.57 L243.44,641.8 L244.27,642.03 L245.11,642.25 L245.94,642.47 L246.78,642.68 L247.62,642.88 L248.47,643.09 L249.31,643.28 L250.16,643.47 L251.01,643.66 L251.86,643.85 L252.72,644.02 L253.57,644.2 L254.43,644.37 L255.29,644.54 L256.15,644.7 L257.01,644.86 L257.87,645.01 L258.74,645.16 L259.6,645.31 L260.47,645.45 L261.34,645.59 L262.21,645.73 L263.08,645.86 L263.95,645.99 L264.83,646.12 L265.7,646.24 L266.58,646.36 L267.45,646.48 L268.33,646.6 L269.21,646.71 L270.08,646.82 L270.96,646.93 L271.84,647.03 L272.72,647.13 L273.6,647.23 L274.48,647.33 L275.37,647.43 L276.25,647.52 L277.13,647.61 L278.01,647.7 L278.89,647.79 L279.78,647.88 L280.66,647.97 L281.54,648.05 L282.42,648.13 L283.31,648.21 L284.19,648.29 L285.07,648.37 L285.95,648.45 L286.83,648.53 L287.71,648.6 L288.59,648.68 L289.47,648.75 L290.35,648.83 L291.23,648.9 L292.11,648.97 L292.98,649.04 L293.86,649.12 L294.73,649.19 L295.61,649.26 L296.48,649.33 L297.35,649.41 L298.23,649.48 L299.1,649.55 L299.96,649.62 L300.83,649.7 L301.7,649.77 L302.56,649.85 L303.43,649.92 L304.29,650 L305.15,650.08 L306.01,650.16 L306.87,650.24 L307.72,650.32 L308.57,650.4 L309.43,650.48 L310.28,650.57 L311.12,650.65 L311.97,650.74 L312.81,650.83 L313.66,650.92 L314.5,651.01 L315.33,651.11 L316.17,651.21 L317,651.31 L317.83,651.41 L318.66,651.51 L319.49,651.62 L320.31,651.73 L321.13,651.84 L321.95,651.95 L322.76,652.07 L323.58,652.19 L324.38,652.31 L325.19,652.44 L325.99,652.57" fill="none" stroke="#c80000" stroke-width="2.9" stroke-linejoin="round" clip-path="url(#cc)"/>
<path d="M42.26,664.92 L43.21,665.03 L44.12,665.07 L45.01,665.04 L45.87,664.94 L46.71,664.78 L47.52,664.57 L48.3,664.3 L49.07,663.97 L49.8,663.6 L50.52,663.17 L51.21,662.7 L51.87,662.19 L52.52,661.64 L53.14,661.04 L53.75,660.42 L54.33,659.76 L54.89,659.06 L55.44,658.35 L55.96,657.6 L56.47,656.84 L56.95,656.05 L57.42,655.25 L57.87,654.44 L58.31,653.61 L58.73,652.77 L59.13,651.93 L59.52,651.08 L59.9,650.23 L60.26,649.38 L60.6,648.54 L60.94,647.7 L61.26,646.85 L61.57,646.02 L61.86,645.18 L62.15,644.34 L62.42,643.51 L62.69,642.68 L62.94,641.84 L63.19,641.01 L63.43,640.18 L63.66,639.35 L63.88,638.53 L64.09,637.7 L64.3,636.87 L64.5,636.04 L64.69,635.21 L64.88,634.38 L65.07,633.55 L65.25,632.72 L65.43,631.88 L65.6,631.05 L65.77,630.22 L65.94,629.38 L66.1,628.54 L66.27,627.7 L66.43,626.86 L66.6,626.01 L66.76,625.16 L66.93,624.31 L67.09,623.46 L67.26,622.61 L67.43,621.75 L67.6,620.88 L67.78,620.02 L67.96,619.15 L68.14,618.27 L68.33,617.4 L68.52,616.51 L68.72,615.63 L68.92,614.74 L69.14,613.84 L69.35,612.94 L69.58,612.03 L69.81,611.12 L70.06,610.2 L70.31,609.28 L70.57,608.35 L70.84,607.42 L71.12,606.48 L71.41,605.54 L71.72,604.6 L72.03,603.67 L72.36,602.75 L72.7,601.85 L73.06,600.96 L73.43,600.1 L73.82,599.26 L74.22,598.46 L74.64,597.68 L75.07,596.95 L75.52,596.26 L75.99,595.61 L76.48,595.02 L76.98,594.47 L77.51,593.99 L78.05,593.59 L78.61,593.32 L79.17,593.2 L79.74,593.27 L80.32,593.55 L80.89,594.01 L81.46,594.57 L82.02,595.17 L82.57,595.79 L83.12,596.41 L83.65,597.05 L84.19,597.7 L84.71,598.36 L85.23,599.03 L85.75,599.71 L86.26,600.4 L86.78,601.09 L87.29,601.79 L87.8,602.5 L88.31,603.21 L88.82,603.93 L89.34,604.65 L89.86,605.38 L90.38,606.1 L90.91,606.83 L91.44,607.56 L91.98,608.3 L92.53,609.03 L93.08,609.76 L93.64,610.49 L94.21,611.22 L94.78,611.94 L95.36,612.66 L95.95,613.38 L96.54,614.09 L97.14,614.8 L97.74,615.5 L98.35,616.19 L98.97,616.88 L99.6,617.55 L100.23,618.22 L100.86,618.88 L101.5,619.53 L102.15,620.17 L102.81,620.79 L103.47,621.41 L104.13,622.01 L104.81,622.6 L105.48,623.18 L106.17,623.75 L106.86,624.3 L107.55,624.85 L108.25,625.38 L108.96,625.91 L109.67,626.42 L110.39,626.93 L111.11,627.42 L111.84,627.9 L112.57,628.37 L113.31,628.84 L114.05,629.29 L114.8,629.73 L115.55,630.16 L116.31,630.59 L117.07,631 L117.83,631.41 L118.6,631.8 L119.38,632.19 L120.15,632.57 L120.94,632.94 L121.72,633.3 L122.51,633.65 L123.31,634 L124.11,634.34 L124.91,634.67 L125.71,634.99 L126.52,635.3 L127.34,635.6 L128.15,635.9 L128.97,636.19 L129.8,636.48 L130.62,636.75 L131.45,637.02 L132.29,637.29 L133.12,637.54 L133.96,637.79 L134.8,638.03 L135.65,638.27 L136.49,638.5 L137.34,638.73 L138.19,638.94 L139.05,639.16 L139.9,639.37 L140.76,639.57 L141.63,639.76 L142.49,639.95 L143.35,640.14 L144.22,640.32 L145.09,640.5 L145.96,640.67 L146.84,640.84 L147.71,641 L148.59,641.16 L149.46,641.31 L150.34,641.46 L151.22,641.61 L152.11,641.75 L152.99,641.89 L153.87,642.03 L154.76,642.16 L155.64,642.29 L156.53,642.41 L157.42,642.53 L158.31,642.65 L159.2,642.77 L160.08,642.88 L160.98,643 L161.87,643.11 L162.76,643.21 L163.65,643.32 L164.54,643.42 L165.43,643.52 L166.32,643.62 L167.21,643.72 L168.1,643.82 L169,643.91 L169.89,644.01 L170.78,644.1 L171.67,644.19 L172.56,644.28 L173.45,644.37 L174.34,644.46 L175.22,644.55 L176.11,644.64 L177,644.72 L177.89,644.8 L178.78,644.89 L179.67,644.97 L180.55,645.05 L181.44,645.13 L182.33,645.21 L183.22,645.29 L184.1,645.36 L184.99,645.44 L185.88,645.51 L186.76,645.59 L187.65,645.66 L188.54,645.73 L189.42,645.8 L190.31,645.87 L191.19,645.94 L192.08,646.01 L192.96,646.07 L193.85,646.14 L194.73,646.2 L195.62,646.27 L196.5,646.33 L197.39,646.39 L198.27,646.45 L199.15,646.51 L200.04,646.57 L200.92,646.63 L201.8,646.69 L202.69,646.74 L203.57,646.8 L204.45,646.86 L205.34,646.91 L206.22,646.96 L207.1,647.02 L207.98,647.07 L208.87,647.12 L209.75,647.17 L210.63,647.22 L211.51,647.27 L212.39,647.32 L213.28,647.36 L214.16,647.41 L215.04,647.46 L215.92,647.5 L216.8,647.55 L217.68,647.59 L218.57,647.64 L219.45,647.68 L220.33,647.72 L221.21,647.76 L222.09,647.8 L222.97,647.84 L223.85,647.88 L224.73,647.92 L225.61,647.96 L226.49,648 L227.38,648.04 L228.26,648.07 L229.14,648.11 L230.02,648.14 L230.9,648.18 L231.78,648.21 L232.66,648.25 L233.54,648.28 L234.42,648.32 L235.3,648.35 L236.18,648.38 L237.06,648.41 L237.94,648.44 L238.82,648.47 L239.7,648.51 L240.58,648.54 L241.46,648.57 L242.34,648.59 L243.22,648.62 L244.1,648.65 L244.99,648.68 L245.87,648.71 L246.75,648.74 L247.63,648.76 L248.51,648.79 L249.39,648.82 L250.27,648.84 L251.15,648.87 L252.03,648.9 L252.91,648.92 L253.79,648.95 L254.67,648.97 L255.55,649 L256.43,649.02 L257.32,649.04 L258.2,649.07 L259.08,649.09 L259.96,649.12 L260.84,649.14 L261.72,649.16 L262.6,649.19 L263.49,649.21 L264.37,649.23 L265.25,649.25 L266.13,649.28 L267.01,649.3 L267.9,649.32 L268.78,649.34 L269.66,649.37 L270.54,649.39 L271.43,649.41 L272.31,649.43 L273.19,649.45 L274.07,649.48 L274.96,649.5 L275.84,649.52 L276.72,649.54 L277.61,649.56 L278.49,649.58 L279.37,649.61 L280.26,649.63 L281.14,649.65 L282.03,649.67 L282.91,649.69 L283.8,649.72 L284.68,649.74 L285.57,649.76 L286.45,649.78 L287.34,649.81 L288.22,649.83 L289.11,649.85 L289.99,649.87 L290.88,649.9 L291.77,649.92 L292.65,649.94 L293.54,649.97 L294.43,649.99 L295.31,650.02 L296.2,650.04 L297.09,650.06 L297.98,650.09 L298.86,650.11 L299.75,650.14 L300.64,650.16 L301.53,650.19 L302.42,650.22 L303.31,650.24 L304.2,650.27 L305.09,650.3 L305.98,650.32 L306.87,650.35 L307.76,650.38 L308.65,650.41 L309.54,650.44 L310.43,650.46 L311.32,650.49 L312.21,650.52 L313.1,650.55 L314,650.58 L314.89,650.61 L315.78,650.65 L316.68,650.68 L317.57,650.71 L318.46,650.74 L319.36,650.78 L320.25,650.81 L321.15,650.84 L322.04,650.88 L322.94,650.91 L323.83,650.95 L324.73,650.99 L325.62,651.02 L326.52,651.06" fill="none" stroke="#007b7b" stroke-width="2.9" stroke-linejoin="round" clip-path="url(#cc)"/>
<rect x="218.8" y="416.6" width="103.9" height="86.2" fill="#fff" stroke="none"/>
<line x1="226.6" y1="416.6" x2="226.6" y2="418.2" stroke="#909090" stroke-width="0.7"/>
<line x1="230.61" y1="416.6" x2="230.61" y2="418.2" stroke="#909090" stroke-width="0.7"/>
<line x1="234.61" y1="416.6" x2="234.61" y2="418.2" stroke="#909090" stroke-width="0.7"/>
<line x1="238.62" y1="416.6" x2="238.62" y2="418.2" stroke="#909090" stroke-width="0.7"/>
<line x1="242.62" y1="416.6" x2="242.62" y2="419.2" stroke="#909090" stroke-width="0.7"/>
<line x1="246.62" y1="416.6" x2="246.62" y2="418.2" stroke="#909090" stroke-width="0.7"/>
<line x1="250.63" y1="416.6" x2="250.63" y2="418.2" stroke="#909090" stroke-width="0.7"/>
<line x1="254.63" y1="416.6" x2="254.63" y2="418.2" stroke="#909090" stroke-width="0.7"/>
<line x1="258.64" y1="416.6" x2="258.64" y2="418.2" stroke="#909090" stroke-width="0.7"/>
<line x1="262.64" y1="416.6" x2="262.64" y2="419.2" stroke="#909090" stroke-width="0.7"/>
<line x1="266.64" y1="416.6" x2="266.64" y2="418.2" stroke="#909090" stroke-width="0.7"/>
<line x1="270.65" y1="416.6" x2="270.65" y2="418.2" stroke="#909090" stroke-width="0.7"/>
<line x1="274.65" y1="416.6" x2="274.65" y2="418.2" stroke="#909090" stroke-width="0.7"/>
<line x1="278.66" y1="416.6" x2="278.66" y2="418.2" stroke="#909090" stroke-width="0.7"/>
<line x1="282.66" y1="416.6" x2="282.66" y2="419.2" stroke="#909090" stroke-width="0.7"/>
<line x1="286.66" y1="416.6" x2="286.66" y2="418.2" stroke="#909090" stroke-width="0.7"/>
<line x1="290.67" y1="416.6" x2="290.67" y2="418.2" stroke="#909090" stroke-width="0.7"/>
<line x1="294.67" y1="416.6" x2="294.67" y2="418.2" stroke="#909090" stroke-width="0.7"/>
<line x1="298.68" y1="416.6" x2="298.68" y2="418.2" stroke="#909090" stroke-width="0.7"/>
<line x1="302.68" y1="416.6" x2="302.68" y2="419.2" stroke="#909090" stroke-width="0.7"/>
<line x1="306.68" y1="416.6" x2="306.68" y2="418.2" stroke="#909090" stroke-width="0.7"/>
<line x1="310.69" y1="416.6" x2="310.69" y2="418.2" stroke="#909090" stroke-width="0.7"/>
<line x1="314.69" y1="416.6" x2="314.69" y2="418.2" stroke="#909090" stroke-width="0.7"/>
<line x1="318.7" y1="416.6" x2="318.7" y2="418.2" stroke="#909090" stroke-width="0.7"/>
<line x1="322.7" y1="498.88" x2="321.1" y2="498.88" stroke="#909090" stroke-width="0.7"/>
<line x1="322.7" y1="494.96" x2="321.1" y2="494.96" stroke="#909090" stroke-width="0.7"/>
<line x1="322.7" y1="491.05" x2="321.1" y2="491.05" stroke="#909090" stroke-width="0.7"/>
<line x1="322.7" y1="487.13" x2="321.1" y2="487.13" stroke="#909090" stroke-width="0.7"/>
<line x1="322.7" y1="483.21" x2="320.1" y2="483.21" stroke="#909090" stroke-width="0.7"/>
<line x1="322.7" y1="479.29" x2="321.1" y2="479.29" stroke="#909090" stroke-width="0.7"/>
<line x1="322.7" y1="475.37" x2="321.1" y2="475.37" stroke="#909090" stroke-width="0.7"/>
<line x1="322.7" y1="471.45" x2="321.1" y2="471.45" stroke="#909090" stroke-width="0.7"/>
<line x1="322.7" y1="467.54" x2="321.1" y2="467.54" stroke="#909090" stroke-width="0.7"/>
<line x1="322.7" y1="463.62" x2="320.1" y2="463.62" stroke="#909090" stroke-width="0.7"/>
<line x1="322.7" y1="459.7" x2="321.1" y2="459.7" stroke="#909090" stroke-width="0.7"/>
<line x1="322.7" y1="455.78" x2="321.1" y2="455.78" stroke="#909090" stroke-width="0.7"/>
<line x1="322.7" y1="451.86" x2="321.1" y2="451.86" stroke="#909090" stroke-width="0.7"/>
<line x1="322.7" y1="447.95" x2="321.1" y2="447.95" stroke="#909090" stroke-width="0.7"/>
<line x1="322.7" y1="444.03" x2="320.1" y2="444.03" stroke="#909090" stroke-width="0.7"/>
<line x1="322.7" y1="440.11" x2="321.1" y2="440.11" stroke="#909090" stroke-width="0.7"/>
<line x1="322.7" y1="436.19" x2="321.1" y2="436.19" stroke="#909090" stroke-width="0.7"/>
<line x1="322.7" y1="432.27" x2="321.1" y2="432.27" stroke="#909090" stroke-width="0.7"/>
<line x1="322.7" y1="428.35" x2="321.1" y2="428.35" stroke="#909090" stroke-width="0.7"/>
<line x1="322.7" y1="424.44" x2="320.1" y2="424.44" stroke="#909090" stroke-width="0.7"/>
<line x1="322.7" y1="420.52" x2="321.1" y2="420.52" stroke="#909090" stroke-width="0.7"/>
<line x1="222.6" y1="502.8" x2="222.6" y2="500.2" stroke="#808080" stroke-width="0.8"/>
<line x1="272.65" y1="502.8" x2="272.65" y2="500.2" stroke="#808080" stroke-width="0.8"/>
<line x1="322.7" y1="502.8" x2="322.7" y2="500.2" stroke="#808080" stroke-width="0.8"/>
<rect x="218.8" y="416.6" width="103.9" height="86.2" fill="none" stroke="#a8a8a8" stroke-width="1"/>
<g clip-path="url(#ic)" fill="#fff" stroke="#000" stroke-width="1.85"><circle cx="222.8" cy="446.4" r="2.95"/><circle cx="229.09" cy="454.2" r="2.95"/><circle cx="235.38" cy="462.3" r="2.95"/><circle cx="241.67" cy="467" r="2.95"/><circle cx="247.96" cy="470.2" r="2.95"/><circle cx="254.25" cy="472.9" r="2.95"/><circle cx="260.54" cy="475.2" r="2.95"/><circle cx="266.83" cy="477.3" r="2.95"/><circle cx="273.12" cy="479.2" r="2.95"/><circle cx="279.41" cy="481" r="2.95"/><circle cx="285.7" cy="482.9" r="2.95"/><circle cx="291.99" cy="484.6" r="2.95"/><circle cx="298.28" cy="486.1" r="2.95"/><circle cx="304.57" cy="487.4" r="2.95"/><circle cx="310.86" cy="488.5" r="2.95"/><circle cx="317.15" cy="489.5" r="2.95"/><circle cx="323.44" cy="490.5" r="2.95"/></g>
<rect x="231.1" y="415.1" width="25.9" height="5.5" fill="#fff"/>
<text x="193.07" y="421.2" style="font-size:18.6px;" >0.1</text>
<text x="206.61" y="506.8" style="font-size:18.6px;" >0</text>
<text x="217.85" y="520.6" style="font-size:18.6px;" >0</text>
<text x="311.08" y="520.6" style="font-size:18.6px;" >0.5</text>
<text x="232.15" y="431.1" style="font-size:18.8px;font-style:italic;" >C</text>
<g transform="translate(246.2,433.83) scale(0.58)" fill="none" stroke="#000" stroke-linecap="round"><path d="M0.5,-1.6 C0.2,-0.2 1.6,0.6 3.2,-0.4 C5.5,-2.2 9.5,-9.5 13.0,-15.0" stroke-width="1.25"/><path d="M13.0,-15.0 C12.9,-10.5 13.3,-4.5 13.9,-1.0 C14.1,0.0 14.9,0.0 15.4,-0.6" stroke-width="2.0"/><path d="M6.0,-5.1 L13.3,-5.1" stroke-width="1.05"/></g>
<text x="257.59" y="520.3" style="font-size:15.5px;font-style:italic;" >ω</text>
<text x="268.95" y="523" style="font-size:12.5px;font-style:italic;" >n</text>
<line x1="281.8" y1="509.1" x2="276.8" y2="522.8" stroke="#000" stroke-width="1.15"/>
<text x="282.54" y="520.3" style="font-size:16.5px;" >t</text>
<rect x="383.5" y="397.3" width="293.2" height="266" fill="none" stroke="#a0a0a0" stroke-width="1"/>
<line x1="398.88" y1="663.3" x2="398.88" y2="660.8" stroke="#707070" stroke-width="0.9"/>
<line x1="398.88" y1="397.3" x2="398.88" y2="399.8" stroke="#707070" stroke-width="0.9"/>
<line x1="408.25" y1="663.3" x2="408.25" y2="660.8" stroke="#707070" stroke-width="0.9"/>
<line x1="408.25" y1="397.3" x2="408.25" y2="399.8" stroke="#707070" stroke-width="0.9"/>
<line x1="417.63" y1="663.3" x2="417.63" y2="660.8" stroke="#707070" stroke-width="0.9"/>
<line x1="417.63" y1="397.3" x2="417.63" y2="399.8" stroke="#707070" stroke-width="0.9"/>
<line x1="427" y1="663.3" x2="427" y2="660.8" stroke="#707070" stroke-width="0.9"/>
<line x1="427" y1="397.3" x2="427" y2="399.8" stroke="#707070" stroke-width="0.9"/>
<line x1="445.76" y1="663.3" x2="445.76" y2="660.8" stroke="#707070" stroke-width="0.9"/>
<line x1="445.76" y1="397.3" x2="445.76" y2="399.8" stroke="#707070" stroke-width="0.9"/>
<line x1="455.13" y1="663.3" x2="455.13" y2="660.8" stroke="#707070" stroke-width="0.9"/>
<line x1="455.13" y1="397.3" x2="455.13" y2="399.8" stroke="#707070" stroke-width="0.9"/>
<line x1="464.51" y1="663.3" x2="464.51" y2="660.8" stroke="#707070" stroke-width="0.9"/>
<line x1="464.51" y1="397.3" x2="464.51" y2="399.8" stroke="#707070" stroke-width="0.9"/>
<line x1="473.88" y1="663.3" x2="473.88" y2="660.8" stroke="#707070" stroke-width="0.9"/>
<line x1="473.88" y1="397.3" x2="473.88" y2="399.8" stroke="#707070" stroke-width="0.9"/>
<line x1="492.64" y1="663.3" x2="492.64" y2="660.8" stroke="#707070" stroke-width="0.9"/>
<line x1="492.64" y1="397.3" x2="492.64" y2="399.8" stroke="#707070" stroke-width="0.9"/>
<line x1="502.01" y1="663.3" x2="502.01" y2="660.8" stroke="#707070" stroke-width="0.9"/>
<line x1="502.01" y1="397.3" x2="502.01" y2="399.8" stroke="#707070" stroke-width="0.9"/>
<line x1="511.39" y1="663.3" x2="511.39" y2="660.8" stroke="#707070" stroke-width="0.9"/>
<line x1="511.39" y1="397.3" x2="511.39" y2="399.8" stroke="#707070" stroke-width="0.9"/>
<line x1="520.76" y1="663.3" x2="520.76" y2="660.8" stroke="#707070" stroke-width="0.9"/>
<line x1="520.76" y1="397.3" x2="520.76" y2="399.8" stroke="#707070" stroke-width="0.9"/>
<line x1="539.52" y1="663.3" x2="539.52" y2="660.8" stroke="#707070" stroke-width="0.9"/>
<line x1="539.52" y1="397.3" x2="539.52" y2="399.8" stroke="#707070" stroke-width="0.9"/>
<line x1="548.89" y1="663.3" x2="548.89" y2="660.8" stroke="#707070" stroke-width="0.9"/>
<line x1="548.89" y1="397.3" x2="548.89" y2="399.8" stroke="#707070" stroke-width="0.9"/>
<line x1="558.27" y1="663.3" x2="558.27" y2="660.8" stroke="#707070" stroke-width="0.9"/>
<line x1="558.27" y1="397.3" x2="558.27" y2="399.8" stroke="#707070" stroke-width="0.9"/>
<line x1="567.64" y1="663.3" x2="567.64" y2="660.8" stroke="#707070" stroke-width="0.9"/>
<line x1="567.64" y1="397.3" x2="567.64" y2="399.8" stroke="#707070" stroke-width="0.9"/>
<line x1="586.4" y1="663.3" x2="586.4" y2="660.8" stroke="#707070" stroke-width="0.9"/>
<line x1="586.4" y1="397.3" x2="586.4" y2="399.8" stroke="#707070" stroke-width="0.9"/>
<line x1="595.77" y1="663.3" x2="595.77" y2="660.8" stroke="#707070" stroke-width="0.9"/>
<line x1="595.77" y1="397.3" x2="595.77" y2="399.8" stroke="#707070" stroke-width="0.9"/>
<line x1="605.15" y1="663.3" x2="605.15" y2="660.8" stroke="#707070" stroke-width="0.9"/>
<line x1="605.15" y1="397.3" x2="605.15" y2="399.8" stroke="#707070" stroke-width="0.9"/>
<line x1="614.52" y1="663.3" x2="614.52" y2="660.8" stroke="#707070" stroke-width="0.9"/>
<line x1="614.52" y1="397.3" x2="614.52" y2="399.8" stroke="#707070" stroke-width="0.9"/>
<line x1="633.28" y1="663.3" x2="633.28" y2="660.8" stroke="#707070" stroke-width="0.9"/>
<line x1="633.28" y1="397.3" x2="633.28" y2="399.8" stroke="#707070" stroke-width="0.9"/>
<line x1="642.65" y1="663.3" x2="642.65" y2="660.8" stroke="#707070" stroke-width="0.9"/>
<line x1="642.65" y1="397.3" x2="642.65" y2="399.8" stroke="#707070" stroke-width="0.9"/>
<line x1="652.03" y1="663.3" x2="652.03" y2="660.8" stroke="#707070" stroke-width="0.9"/>
<line x1="652.03" y1="397.3" x2="652.03" y2="399.8" stroke="#707070" stroke-width="0.9"/>
<line x1="661.4" y1="663.3" x2="661.4" y2="660.8" stroke="#707070" stroke-width="0.9"/>
<line x1="661.4" y1="397.3" x2="661.4" y2="399.8" stroke="#707070" stroke-width="0.9"/>
<line x1="389.5" y1="663.3" x2="389.5" y2="659" stroke="#707070" stroke-width="0.9"/>
<line x1="389.5" y1="397.3" x2="389.5" y2="401.6" stroke="#707070" stroke-width="0.9"/>
<line x1="436.38" y1="663.3" x2="436.38" y2="659" stroke="#707070" stroke-width="0.9"/>
<line x1="436.38" y1="397.3" x2="436.38" y2="401.6" stroke="#707070" stroke-width="0.9"/>
<line x1="483.26" y1="663.3" x2="483.26" y2="659" stroke="#707070" stroke-width="0.9"/>
<line x1="483.26" y1="397.3" x2="483.26" y2="401.6" stroke="#707070" stroke-width="0.9"/>
<line x1="530.14" y1="663.3" x2="530.14" y2="659" stroke="#707070" stroke-width="0.9"/>
<line x1="530.14" y1="397.3" x2="530.14" y2="401.6" stroke="#707070" stroke-width="0.9"/>
<line x1="577.02" y1="663.3" x2="577.02" y2="659" stroke="#707070" stroke-width="0.9"/>
<line x1="577.02" y1="397.3" x2="577.02" y2="401.6" stroke="#707070" stroke-width="0.9"/>
<line x1="623.9" y1="663.3" x2="623.9" y2="659" stroke="#707070" stroke-width="0.9"/>
<line x1="623.9" y1="397.3" x2="623.9" y2="401.6" stroke="#707070" stroke-width="0.9"/>
<line x1="670.78" y1="663.3" x2="670.78" y2="659" stroke="#707070" stroke-width="0.9"/>
<line x1="670.78" y1="397.3" x2="670.78" y2="401.6" stroke="#707070" stroke-width="0.9"/>
<text x="374.88" y="684.9" style="font-size:23.4px;" >0.0</text>
<text x="422.01" y="684.9" style="font-size:23.4px;" >0.1</text>
<text x="468.83" y="684.9" style="font-size:23.4px;" >0.2</text>
<text x="515.53" y="684.9" style="font-size:23.4px;" >0.3</text>
<text x="562.13" y="684.9" style="font-size:23.4px;" >0.4</text>
<text x="609.29" y="684.9" style="font-size:23.4px;" >0.5</text>
<text x="656.06" y="684.9" style="font-size:23.4px;" >0.6</text>
<text x="520.99" y="709.1" style="font-size:21.5px;font-style:italic;" >ω</text>
<line x1="542.4" y1="694.7" x2="536.5" y2="712.4" stroke="#000" stroke-width="1.45"/>
<text x="543.37" y="709.1" style="font-size:23px;" >t</text>
<text transform="translate(368.6,530.4) rotate(-90)" text-anchor="middle" style="font-size:22.4px">B(<tspan style="font-style:italic">ω</tspan>) in a.u.</text>
<text x="344.8" y="388" style="font-size:23.8px;" >(d)</text>
<line x1="419.2" y1="372.1" x2="419.2" y2="393.52" stroke="#000" stroke-width="1.74"/>
<text x="424.01" y="389.6" style="font-size:28px;font-style:italic;" >ρ</text>
<line x1="422.9" y1="375" x2="438.8" y2="375" stroke="#000" stroke-width="1.3"/>
<text x="438.71" y="395.7" style="font-size:19.6px;font-style:italic;" >P</text>
<line x1="453.8" y1="372.1" x2="453.8" y2="393.52" stroke="#000" stroke-width="1.74"/>
<text x="456.67" y="389.6" style="font-size:28.8px;" >=</text>
<text x="473.2" y="389.6" style="font-size:28.8px;" >0</text>
<text x="488.7" y="389.6" style="font-size:28.8px;" >.</text>
<text x="494.2" y="389.6" style="font-size:28.8px;" >0</text>
<text x="507.23" y="389.6" style="font-size:28.8px;" >5</text>
<text x="521.82" y="389.6" style="font-size:28.8px;" >t</text>
<text x="531.76" y="389.6" style="font-size:28.8px;" >,</text>
<line x1="547.2" y1="372.1" x2="547.2" y2="393.52" stroke="#000" stroke-width="1.74"/>
<text x="549.69" y="389.6" style="font-size:26.5px;" >Δ</text>
<line x1="550.3" y1="368.9" x2="568.2" y2="368.9" stroke="#000" stroke-width="1.3"/>
<text x="566.52" y="394.1" style="font-size:20.5px;" >0</text>
<line x1="580.9" y1="372.1" x2="580.9" y2="393.52" stroke="#000" stroke-width="1.74"/>
<text x="583.87" y="389.6" style="font-size:28.8px;" >=</text>
<text x="600.5" y="389.6" style="font-size:28.8px;" >0</text>
<text x="615.9" y="389.6" style="font-size:28.8px;" >.</text>
<text x="621.77" y="389.6" style="font-size:28.8px;" >1</text>
<text x="636.12" y="389.6" style="font-size:28.8px;" >t</text>
<line x1="420.4" y1="425.1" x2="448.6" y2="425.1" stroke="#0000c8" stroke-width="2.9"/>
<g transform="translate(462.6,430.4) scale(1)" fill="none" stroke="#000" stroke-linecap="round"><path d="M0.5,-1.6 C0.2,-0.2 1.6,0.6 3.2,-0.4 C5.5,-2.2 9.5,-9.5 13.0,-15.0" stroke-width="1.25"/><path d="M13.0,-15.0 C12.9,-10.5 13.3,-4.5 13.9,-1.0 C14.1,0.0 14.9,0.0 15.4,-0.6" stroke-width="2.0"/><path d="M6.0,-5.1 L13.3,-5.1" stroke-width="1.05"/></g>
<path d="M483.1,412.2 L484.9,412.5 L481,418.9 L480.2,418.7 Z" fill="#000"/>
<line x1="479.9" y1="428.6" x2="489.9" y2="428.6" stroke="#000" stroke-width="0.95"/>
<line x1="484.9" y1="423.6" x2="484.9" y2="433.6" stroke="#000" stroke-width="0.95"/>
<line x1="420.4" y1="467.3" x2="448.6" y2="467.3" stroke="#c80000" stroke-width="2.9"/>
<g transform="translate(462.6,473.1) scale(1)" fill="none" stroke="#000" stroke-linecap="round"><path d="M0.5,-1.6 C0.2,-0.2 1.6,0.6 3.2,-0.4 C5.5,-2.2 9.5,-9.5 13.0,-15.0" stroke-width="1.25"/><path d="M13.0,-15.0 C12.9,-10.5 13.3,-4.5 13.9,-1.0 C14.1,0.0 14.9,0.0 15.4,-0.6" stroke-width="2.0"/><path d="M6.0,-5.1 L13.3,-5.1" stroke-width="1.05"/></g>
<path d="M483.1,454.9 L484.9,455.2 L481,461.6 L480.2,461.4 Z" fill="#000"/>
<line x1="481.3" y1="471.8" x2="491.6" y2="471.8" stroke="#000" stroke-width="1.1"/>
<path d="M389.5,658.96 L389.51,658.54 L389.53,658.11 L389.55,657.69 L389.56,657.26 L389.58,656.84 L389.59,656.41 L389.61,655.99 L389.63,655.56 L389.64,655.13 L389.66,654.71 L389.67,654.28 L389.69,653.86 L389.71,653.43 L389.72,653.01 L389.74,652.58 L389.75,652.16 L389.77,651.73 L389.79,651.3 L389.8,650.88 L389.82,650.45 L389.83,650.03 L389.85,649.6 L389.87,649.17 L389.88,648.75 L389.9,648.32 L389.91,647.9 L389.93,647.47 L389.95,647.04 L389.96,646.62 L389.98,646.19 L389.99,645.77 L390.01,645.34 L390.03,644.91 L390.04,644.49 L390.06,644.06 L390.07,643.63 L390.09,643.21 L390.11,642.78 L390.12,642.35 L390.14,641.93 L390.15,641.5 L390.17,641.07 L390.18,640.65 L390.2,640.22 L390.22,639.79 L390.23,639.37 L390.25,638.94 L390.26,638.51 L390.28,638.09 L390.3,637.66 L390.31,637.23 L390.33,636.8 L390.34,636.38 L390.36,635.95 L390.37,635.52 L390.39,635.1 L390.41,634.67 L390.42,634.24 L390.44,633.81 L390.45,633.39 L390.47,632.96 L390.48,632.53 L390.5,632.11 L390.52,631.68 L390.53,631.25 L390.55,630.82 L390.56,630.4 L390.58,629.97 L390.6,629.54 L390.61,629.11 L390.63,628.69 L390.64,628.26 L390.66,627.83 L390.67,627.4 L390.69,626.97 L390.71,626.55 L390.72,626.12 L390.74,625.69 L390.75,625.26 L390.77,624.84 L390.78,624.41 L390.8,623.98 L390.82,623.55 L390.83,623.12 L390.85,622.7 L390.86,622.27 L390.88,621.84 L390.9,621.41 L390.91,620.99 L390.93,620.56 L390.94,620.13 L390.96,619.7 L390.97,619.27 L390.99,618.84 L391.01,618.42 L391.02,617.99 L391.04,617.56 L391.05,617.13 L391.07,616.7 L391.09,616.28 L391.1,615.85 L391.12,615.42 L391.13,614.99 L391.15,614.56 L391.17,614.13 L391.18,613.71 L391.2,613.28 L391.21,612.85 L391.23,612.42 L391.24,611.99 L391.26,611.56 L391.28,611.14 L391.29,610.71 L391.31,610.28 L391.32,609.85 L391.34,609.42 L391.36,608.99 L391.37,608.57 L391.39,608.14 L391.4,607.71 L391.42,607.28 L391.44,606.85 L391.45,606.42 L391.47,605.99 L391.49,605.57 L391.5,605.14 L391.52,604.71 L391.53,604.28 L391.55,603.85 L391.57,603.42 L391.58,602.99 L391.6,602.57 L391.61,602.14 L391.63,601.71 L391.65,601.28 L391.66,600.85 L391.68,600.42 L391.7,599.99 L391.71,599.57 L391.73,599.14 L391.74,598.71 L391.76,598.28 L391.78,597.85 L391.79,597.42 L391.81,596.99 L391.83,596.56 L391.84,596.14 L391.86,595.71 L391.88,595.28 L391.89,594.85 L391.91,594.42 L391.93,593.99 L391.94,593.56 L391.96,593.13 L391.97,592.71 L391.99,592.28 L392.01,591.85 L392.02,591.42 L392.04,590.99 L392.06,590.56 L392.07,590.13 L392.09,589.71 L392.11,589.28 L392.12,588.85 L392.14,588.42 L392.16,587.99 L392.17,587.56 L392.19,587.13 L392.21,586.7 L392.23,586.28 L392.24,585.85 L392.26,585.42 L392.28,584.99 L392.29,584.56 L392.31,584.13 L392.33,583.7 L392.34,583.27 L392.36,582.85 L392.38,582.42 L392.39,581.99 L392.41,581.56 L392.43,581.13 L392.45,580.7 L392.46,580.27 L392.48,579.84 L392.5,579.42 L392.51,578.99 L392.53,578.56 L392.55,578.13 L392.57,577.7 L392.58,577.27 L392.6,576.84 L392.62,576.42 L392.64,575.99 L392.65,575.56 L392.67,575.13 L392.69,574.7 L392.71,574.27 L392.72,573.84 L392.74,573.42 L392.76,572.99 L392.78,572.56 L392.79,572.13 L392.81,571.7 L392.83,571.27 L392.85,570.85 L392.86,570.42 L392.88,569.99 L392.9,569.56 L392.92,569.13 L392.93,568.7 L392.95,568.27 L392.97,567.85 L392.99,567.42 L393.01,566.99 L393.02,566.56 L393.04,566.13 L393.06,565.71 L393.08,565.28 L393.1,564.85 L393.11,564.42 L393.13,563.99 L393.15,563.56 L393.17,563.14 L393.19,562.71 L393.21,562.28 L393.22,561.85 L393.24,561.42 L393.26,561 L393.28,560.57 L393.3,560.14 L393.32,559.71 L393.33,559.28 L393.35,558.86 L393.37,558.43 L393.39,558 L393.41,557.57 L393.43,557.14 L393.45,556.72 L393.46,556.29 L393.48,555.86 L393.5,555.43 L393.52,555 L393.54,554.58 L393.56,554.15 L393.58,553.72 L393.6,553.29 L393.62,552.87 L393.63,552.44 L393.65,552.01 L393.67,551.58 L393.69,551.16 L393.71,550.73 L393.73,550.3 L393.75,549.87 L393.77,549.45 L393.79,549.02 L393.81,548.59 L393.83,548.16 L393.85,547.74 L393.87,547.31 L393.88,546.88 L393.9,546.45 L393.92,546.03 L393.94,545.6 L393.96,545.17 L393.98,544.75 L394,544.32 L394.02,543.89 L394.04,543.46 L394.06,543.04 L394.08,542.61 L394.1,542.18 L394.12,541.76 L394.14,541.33 L394.16,540.9 L394.18,540.48 L394.2,540.05 L394.22,539.62 L394.24,539.2 L394.26,538.77 L394.28,538.34 L394.3,537.92 L394.32,537.49 L394.34,537.06 L394.36,536.64 L394.39,536.21 L394.41,535.78 L394.43,535.36 L394.45,534.93 L394.47,534.5 L394.49,534.08 L394.51,533.65 L394.53,533.23 L394.55,532.8 L394.57,532.37 L394.59,531.95 L394.61,531.52 L394.64,531.1 L394.66,530.67 L394.68,530.24 L394.7,529.82 L394.72,529.39 L394.74,528.97 L394.76,528.54 L394.78,528.11 L394.81,527.69 L394.83,527.26 L394.85,526.84 L394.87,526.41 L394.89,525.99 L394.91,525.56 L394.93,525.14 L394.96,524.71 L394.98,524.28 L395,523.86 L395.02,523.43 L395.04,523.01 L395.07,522.58 L395.09,522.16 L395.11,521.73 L395.13,521.31 L395.15,520.88 L395.18,520.46 L395.2,520.03 L395.22,519.61 L395.24,519.18 L395.27,518.76 L395.29,518.33 L395.31,517.91 L395.33,517.49 L395.36,517.06 L395.38,516.64 L395.4,516.21 L395.42,515.79 L395.45,515.36 L395.47,514.94 L395.49,514.51 L395.52,514.09 L395.54,513.67 L395.56,513.24 L395.59,512.82 L395.61,512.39 L395.63,511.97 L395.66,511.54 L395.68,511.12 L395.71,510.69 L395.73,510.27 L395.76,509.85 L395.78,509.42 L395.8,509 L395.83,508.57 L395.85,508.15 L395.88,507.72 L395.9,507.3 L395.93,506.87 L395.96,506.45 L395.98,506.02 L396.01,505.6 L396.03,505.17 L396.06,504.75 L396.09,504.32 L396.11,503.9 L396.14,503.47 L396.17,503.05 L396.19,502.62 L396.22,502.2 L396.25,501.77 L396.28,501.34 L396.31,500.92 L396.33,500.49 L396.36,500.07 L396.39,499.64 L396.42,499.21 L396.45,498.79 L396.48,498.36 L396.51,497.93 L396.54,497.51 L396.57,497.08 L396.6,496.65 L396.63,496.22 L396.66,495.8 L396.7,495.37 L396.73,494.94 L396.76,494.51 L396.79,494.08 L396.82,493.65 L396.86,493.23 L396.89,492.8 L396.92,492.37 L396.96,491.94 L396.99,491.51 L397.03,491.08 L397.06,490.65 L397.1,490.22 L397.13,489.79 L397.17,489.36 L397.21,488.93 L397.24,488.5 L397.28,488.06 L397.32,487.63 L397.36,487.2 L397.39,486.77 L397.43,486.34 L397.47,485.9 L397.51,485.47 L397.55,485.04 L397.59,484.61 L397.63,484.17 L397.67,483.74 L397.71,483.3 L397.75,482.87 L397.8,482.43 L397.84,482 L397.88,481.56 L397.93,481.13 L397.97,480.69 L398.01,480.26 L398.06,479.82 L398.1,479.38 L398.15,478.95 L398.2,478.51 L398.24,478.07 L398.29,477.63 L398.34,477.19 L398.39,476.76 L398.43,476.32 L398.48,475.88 L398.53,475.44 L398.58,475 L398.63,474.56 L398.68,474.12 L398.74,473.67 L398.79,473.23 L398.84,472.79 L398.89,472.35 L398.95,471.91 L399,471.46 L399.06,471.02 L399.11,470.57 L399.17,470.13 L399.22,469.69 L399.28,469.24 L399.35,468.8 L399.41,468.37 L399.48,467.94 L399.56,467.52 L399.65,467.1 L399.74,466.7 L399.84,466.3 L399.96,465.92 L400.08,465.55 L400.22,465.19 L400.37,464.85 L400.53,464.52 L400.71,464.22 L400.91,463.93 L401.12,463.66 L401.36,463.42 L401.6,463.21 L401.85,463.07 L402.1,463.02 L402.34,463.08 L402.58,463.23 L402.81,463.45 L403.03,463.73 L403.24,464.07 L403.44,464.44 L403.64,464.83 L403.83,465.24 L404.01,465.64 L404.19,466.05 L404.35,466.46 L404.51,466.87 L404.67,467.28 L404.81,467.7 L404.96,468.11 L405.09,468.53 L405.22,468.95 L405.34,469.36 L405.46,469.78 L405.57,470.2 L405.67,470.63 L405.78,471.05 L405.87,471.47 L405.97,471.9 L406.05,472.32 L406.14,472.75 L406.22,473.17 L406.29,473.6 L406.37,474.03 L406.43,474.46 L406.5,474.89 L406.56,475.32 L406.62,475.75 L406.68,476.18 L406.74,476.61 L406.79,477.04 L406.84,477.47 L406.9,477.9 L406.94,478.33 L406.99,478.76 L407.04,479.19 L407.09,479.62 L407.13,480.05 L407.18,480.48 L407.22,480.91 L407.27,481.34 L407.31,481.77 L407.36,482.2 L407.4,482.62 L407.45,483.05 L407.49,483.48 L407.54,483.91 L407.59,484.33 L407.63,484.76 L407.68,485.19 L407.72,485.61 L407.77,486.04 L407.82,486.46 L407.86,486.89 L407.91,487.32 L407.96,487.74 L408.01,488.16 L408.05,488.59 L408.1,489.01 L408.15,489.44 L408.2,489.86 L408.25,490.29 L408.3,490.71 L408.35,491.13 L408.39,491.56 L408.44,491.98 L408.49,492.4 L408.54,492.82 L408.6,493.25 L408.65,493.67 L408.7,494.09 L408.75,494.52 L408.8,494.94 L408.85,495.36 L408.9,495.78 L408.96,496.21 L409.01,496.63 L409.06,497.05 L409.12,497.47 L409.17,497.89 L409.22,498.32 L409.28,498.74 L409.33,499.16 L409.39,499.58 L409.45,500.01 L409.5,500.43 L409.56,500.85 L409.62,501.27 L409.67,501.7 L409.73,502.12 L409.79,502.54 L409.85,502.96 L409.91,503.39 L409.97,503.81 L410.02,504.23 L410.08,504.65 L410.14,505.08 L410.21,505.5 L410.27,505.92 L410.33,506.35 L410.39,506.77 L410.45,507.19 L410.51,507.61 L410.58,508.04 L410.64,508.46 L410.7,508.88 L410.77,509.31 L410.83,509.73 L410.89,510.15 L410.96,510.58 L411.02,511 L411.09,511.42 L411.15,511.85 L411.22,512.27 L411.29,512.69 L411.35,513.12 L411.42,513.54 L411.49,513.96 L411.55,514.38 L411.62,514.81 L411.69,515.23 L411.76,515.65 L411.82,516.08 L411.89,516.5 L411.96,516.92 L412.03,517.35 L412.1,517.77 L412.17,518.19 L412.24,518.62 L412.31,519.04 L412.38,519.46 L412.45,519.89 L412.52,520.31 L412.59,520.73 L412.66,521.16 L412.73,521.58 L412.81,522 L412.88,522.43 L412.95,522.85 L413.02,523.27 L413.1,523.7 L413.17,524.12 L413.24,524.54 L413.31,524.97 L413.39,525.39 L413.46,525.81 L413.53,526.24 L413.61,526.66 L413.68,527.08 L413.76,527.5 L413.83,527.93 L413.91,528.35 L413.98,528.77 L414.05,529.2 L414.13,529.62 L414.21,530.04 L414.28,530.46 L414.36,530.89 L414.43,531.31 L414.51,531.73 L414.58,532.15 L414.66,532.58 L414.74,533 L414.81,533.42 L414.89,533.84 L414.96,534.27 L415.04,534.69 L415.12,535.11 L415.2,535.53 L415.27,535.96 L415.35,536.38 L415.43,536.8 L415.5,537.22 L415.58,537.64 L415.66,538.07 L415.74,538.49 L415.81,538.91 L415.89,539.33 L415.97,539.75 L416.05,540.17 L416.13,540.6 L416.2,541.02 L416.28,541.44 L416.36,541.86 L416.44,542.28 L416.52,542.7 L416.6,543.12 L416.67,543.54 L416.75,543.97 L416.83,544.39 L416.91,544.81 L416.99,545.23 L417.07,545.65 L417.15,546.07 L417.22,546.49 L417.3,546.91 L417.38,547.33 L417.46,547.75 L417.54,548.17 L417.62,548.59 L417.7,549.01 L417.78,549.43 L417.86,549.85 L417.94,550.27 L418.02,550.69 L418.1,551.11 L418.18,551.53 L418.26,551.95 L418.34,552.37 L418.42,552.79 L418.5,553.21 L418.58,553.63 L418.66,554.05 L418.74,554.46 L418.82,554.88 L418.9,555.3 L418.99,555.72 L419.07,556.14 L419.15,556.56 L419.23,556.98 L419.31,557.4 L419.4,557.81 L419.48,558.23 L419.56,558.65 L419.65,559.07 L419.73,559.49 L419.81,559.91 L419.9,560.32 L419.98,560.74 L420.07,561.16 L420.15,561.58 L420.23,562 L420.32,562.41 L420.41,562.83 L420.49,563.25 L420.58,563.67 L420.66,564.08 L420.75,564.5 L420.84,564.92 L420.93,565.34 L421.01,565.75 L421.1,566.17 L421.19,566.59 L421.28,567 L421.37,567.42 L421.46,567.84 L421.55,568.25 L421.64,568.67 L421.73,569.09 L421.82,569.5 L421.91,569.92 L422,570.34 L422.09,570.75 L422.19,571.17 L422.28,571.58 L422.37,572 L422.47,572.42 L422.56,572.83 L422.66,573.25 L422.75,573.66 L422.85,574.08 L422.94,574.5 L423.04,574.91 L423.14,575.33 L423.23,575.74 L423.33,576.16 L423.43,576.57 L423.53,576.99 L423.63,577.4 L423.73,577.82 L423.83,578.23 L423.93,578.65 L424.03,579.06 L424.13,579.48 L424.23,579.89 L424.34,580.31 L424.44,580.72 L424.54,581.14 L424.65,581.55 L424.75,581.97 L424.86,582.38 L424.96,582.79 L425.07,583.21 L425.18,583.62 L425.28,584.04 L425.39,584.45 L425.5,584.86 L425.61,585.28 L425.72,585.69 L425.83,586.11 L425.94,586.52 L426.06,586.93 L426.17,587.35 L426.28,587.76 L426.4,588.17 L426.51,588.59 L426.63,589 L426.74,589.41 L426.86,589.83 L426.97,590.24 L427.09,590.65 L427.21,591.06 L427.33,591.48 L427.45,591.89 L427.57,592.3 L427.69,592.72 L427.81,593.13 L427.94,593.54 L428.06,593.95 L428.18,594.37 L428.31,594.78 L428.43,595.19 L428.56,595.6 L428.69,596.01 L428.82,596.43 L428.94,596.84 L429.07,597.25 L429.2,597.66 L429.33,598.07 L429.47,598.48 L429.6,598.89 L429.73,599.31 L429.87,599.72 L430,600.13 L430.14,600.54 L430.27,600.95 L430.41,601.36 L430.55,601.77 L430.69,602.18 L430.83,602.59 L430.97,603 L431.11,603.41 L431.25,603.82 L431.4,604.23 L431.54,604.64 L431.68,605.05 L431.83,605.46 L431.98,605.87 L432.12,606.28 L432.27,606.69 L432.42,607.1 L432.57,607.51 L432.72,607.91 L432.88,608.32 L433.03,608.73 L433.18,609.13 L433.34,609.54 L433.49,609.94 L433.65,610.35 L433.81,610.75 L433.97,611.15 L434.13,611.55 L434.29,611.96 L434.45,612.36 L434.61,612.76 L434.78,613.16 L434.94,613.55 L435.11,613.95 L435.27,614.35 L435.44,614.75 L435.61,615.14 L435.78,615.53 L435.95,615.93 L436.12,616.32 L436.29,616.71 L436.47,617.1 L436.64,617.49 L436.82,617.88 L437,618.26 L437.17,618.65 L437.35,619.03 L437.54,619.42 L437.72,619.79 L437.91,620.17 L438.1,620.55 L438.29,620.92 L438.49,621.28 L438.69,621.65 L438.89,622.01 L439.1,622.36 L439.31,622.71 L439.53,623.06 L439.76,623.4 L439.99,623.73 L440.22,624.06 L440.47,624.38 L440.71,624.7 L440.97,625.01 L441.23,625.31 L441.5,625.61 L441.78,625.9 L442.07,626.18 L442.36,626.45 L442.67,626.71 L442.98,626.97 L443.3,627.21 L443.63,627.45 L443.97,627.67 L444.33,627.89 L444.69,628.1 L445.06,628.29 L445.45,628.48 L445.84,628.65 L446.25,628.81 L446.67,628.96 L447.1,629.1 L447.54,629.23 L447.98,629.34 L448.43,629.44 L448.89,629.53 L449.34,629.6 L449.8,629.66 L450.26,629.71 L450.72,629.74 L451.18,629.75 L451.63,629.76 L452.08,629.74 L452.52,629.72 L452.96,629.67 L453.4,629.62 L453.83,629.55 L454.25,629.46 L454.68,629.37 L455.09,629.26 L455.51,629.14 L455.92,629.01 L456.32,628.87 L456.72,628.72 L457.12,628.56 L457.52,628.39 L457.91,628.21 L458.29,628.03 L458.68,627.83 L459.06,627.63 L459.43,627.42 L459.81,627.2 L460.18,626.98 L460.55,626.75 L460.91,626.52 L461.28,626.28 L461.64,626.04 L461.99,625.79 L462.35,625.54 L462.7,625.29 L463.05,625.04 L463.4,624.78 L463.74,624.52 L464.08,624.26 L464.42,624 L464.76,623.73 L465.1,623.46 L465.43,623.2 L465.77,622.92 L466.1,622.65 L466.43,622.38 L466.75,622.1 L467.08,621.82 L467.4,621.54 L467.73,621.26 L468.05,620.98 L468.37,620.69 L468.69,620.41 L469,620.12 L469.32,619.83 L469.63,619.55 L469.95,619.26 L470.26,618.96 L470.57,618.67 L470.88,618.38 L471.19,618.09 L471.5,617.79 L471.81,617.5 L472.12,617.21 L472.43,616.91 L472.73,616.61 L473.04,616.32 L473.35,616.02 L473.65,615.72 L473.95,615.43 L474.26,615.13 L474.56,614.83 L474.87,614.53 L475.17,614.23 L475.47,613.93 L475.77,613.63 L476.07,613.33 L476.37,613.03 L476.67,612.73 L476.97,612.43 L477.27,612.13 L477.57,611.82 L477.87,611.52 L478.16,611.22 L478.46,610.91 L478.76,610.61 L479.05,610.3 L479.35,610 L479.64,609.69 L479.93,609.39 L480.23,609.08 L480.52,608.77 L480.81,608.46 L481.11,608.16 L481.4,607.85 L481.69,607.54 L481.98,607.23 L482.27,606.92 L482.56,606.61 L482.85,606.3 L483.14,605.99 L483.43,605.68 L483.71,605.36 L484,605.05 L484.29,604.74 L484.57,604.43 L484.86,604.11 L485.15,603.8 L485.43,603.48 L485.72,603.17 L486,602.85 L486.28,602.54 L486.57,602.22 L486.85,601.91 L487.13,601.59 L487.42,601.27 L487.7,600.95 L487.98,600.63 L488.26,600.31 L488.54,600 L488.82,599.68 L489.1,599.36 L489.38,599.03 L489.66,598.71 L489.94,598.39 L490.21,598.07 L490.49,597.75 L490.77,597.42 L491.05,597.1 L491.32,596.78 L491.6,596.45 L491.87,596.13 L492.15,595.8 L492.42,595.48 L492.7,595.15 L492.97,594.83 L493.25,594.5 L493.52,594.17 L493.79,593.84 L494.07,593.52 L494.34,593.19 L494.61,592.86 L494.88,592.53 L495.15,592.2 L495.42,591.87 L495.69,591.54 L495.96,591.21 L496.23,590.87 L496.5,590.54 L496.77,590.21 L497.04,589.88 L497.31,589.54 L497.58,589.21 L497.84,588.87 L498.11,588.54 L498.38,588.2 L498.65,587.87 L498.91,587.53 L499.18,587.2 L499.45,586.86 L499.71,586.52 L499.98,586.18 L500.24,585.85 L500.51,585.51 L500.77,585.17 L501.03,584.83 L501.3,584.49 L501.56,584.15 L501.83,583.81 L502.09,583.47 L502.35,583.12 L502.61,582.78 L502.88,582.44 L503.14,582.1 L503.4,581.76 L503.66,581.41 L503.93,581.07 L504.19,580.73 L504.45,580.39 L504.71,580.04 L504.97,579.7 L505.24,579.36 L505.5,579.01 L505.76,578.67 L506.02,578.32 L506.28,577.98 L506.55,577.64 L506.81,577.29 L507.07,576.95 L507.33,576.6 L507.59,576.26 L507.85,575.92 L508.12,575.57 L508.38,575.23 L508.64,574.89 L508.9,574.54 L509.17,574.2 L509.43,573.85 L509.69,573.51 L509.96,573.17 L510.22,572.83 L510.48,572.48 L510.75,572.14 L511.01,571.8 L511.28,571.46 L511.54,571.11 L511.81,570.77 L512.07,570.43 L512.34,570.09 L512.6,569.75 L512.87,569.41 L513.13,569.07 L513.4,568.73 L513.67,568.39 L513.94,568.05 L514.2,567.72 L514.47,567.38 L514.74,567.04 L515.01,566.7 L515.28,566.37 L515.55,566.03 L515.82,565.7 L516.09,565.36 L516.36,565.03 L516.64,564.69 L516.91,564.36 L517.18,564.03 L517.46,563.69 L517.73,563.36 L518.01,563.03 L518.28,562.7 L518.56,562.37 L518.83,562.04 L519.11,561.72 L519.39,561.39 L519.67,561.06 L519.95,560.74 L520.23,560.41 L520.51,560.09 L520.79,559.76 L521.07,559.44 L521.36,559.12 L521.64,558.8 L521.92,558.48 L522.21,558.16 L522.5,557.84 L522.78,557.53 L523.07,557.21 L523.36,556.89 L523.65,556.58 L523.94,556.27 L524.23,555.95 L524.52,555.64 L524.82,555.33 L525.11,555.02 L525.4,554.71 L525.7,554.41 L526,554.1 L526.29,553.8 L526.59,553.49 L526.89,553.19 L527.19,552.89 L527.49,552.59 L527.8,552.29 L528.1,551.99 L528.41,551.69 L528.71,551.4 L529.02,551.1 L529.33,550.81 L529.64,550.52 L529.95,550.23 L530.26,549.94 L530.57,549.65 L530.88,549.37 L531.2,549.08 L531.51,548.8 L531.83,548.51 L532.15,548.23 L532.47,547.95 L532.79,547.68 L533.11,547.4 L533.44,547.12 L533.76,546.85 L534.09,546.58 L534.41,546.31 L534.74,546.04 L535.07,545.77 L535.4,545.51 L535.74,545.24 L536.07,544.98 L536.41,544.72 L536.74,544.46 L537.08,544.2 L537.42,543.95 L537.76,543.69 L538.1,543.44 L538.45,543.19 L538.79,542.94 L539.14,542.69 L539.49,542.45 L539.84,542.2 L540.19,541.96 L540.54,541.72 L540.89,541.48 L541.25,541.25 L541.6,541.01 L541.96,540.78 L542.32,540.55 L542.68,540.32 L543.04,540.09 L543.4,539.86 L543.76,539.64 L544.13,539.42 L544.49,539.2 L544.86,538.98 L545.22,538.76 L545.59,538.55 L545.96,538.34 L546.33,538.13 L546.71,537.92 L547.08,537.71 L547.45,537.51 L547.83,537.31 L548.21,537.11 L548.58,536.91 L548.96,536.71 L549.34,536.52 L549.72,536.33 L550.11,536.14 L550.49,535.95 L550.87,535.77 L551.26,535.58 L551.64,535.4 L552.03,535.22 L552.42,535.05 L552.81,534.87 L553.2,534.7 L553.59,534.53 L553.98,534.36 L554.37,534.19 L554.76,534.03 L555.16,533.87 L555.55,533.71 L555.95,533.55 L556.35,533.4 L556.74,533.25 L557.14,533.1 L557.54,532.95 L557.94,532.81 L558.34,532.66 L558.74,532.52 L559.15,532.39 L559.55,532.25 L559.95,532.12 L560.36,531.99 L560.76,531.86 L561.17,531.73 L561.58,531.61 L561.98,531.49 L562.39,531.37 L562.8,531.26 L563.21,531.14 L563.62,531.03 L564.03,530.92 L564.44,530.82 L564.86,530.72 L565.27,530.61 L565.68,530.52 L566.1,530.42 L566.51,530.33 L566.93,530.24 L567.34,530.15 L567.76,530.07 L568.17,529.99 L568.59,529.91 L569.01,529.83 L569.43,529.76 L569.85,529.68 L570.27,529.62 L570.68,529.55 L571.11,529.49 L571.53,529.43 L571.95,529.37 L572.37,529.31 L572.79,529.26 L573.21,529.21 L573.64,529.17 L574.06,529.12 L574.48,529.08 L574.91,529.04 L575.33,529.01 L575.76,528.98 L576.18,528.95 L576.61,528.92 L577.03,528.89 L577.46,528.87 L577.88,528.85 L578.31,528.84 L578.74,528.82 L579.16,528.81 L579.59,528.8 L580.02,528.79 L580.45,528.79 L580.87,528.79 L581.3,528.79 L581.73,528.79 L582.16,528.79 L582.59,528.8 L583.02,528.81 L583.45,528.82 L583.87,528.84 L584.3,528.85 L584.73,528.87 L585.16,528.89 L585.59,528.92 L586.02,528.94 L586.45,528.97 L586.88,529 L587.31,529.03 L587.74,529.06 L588.17,529.1 L588.6,529.14 L589.03,529.18 L589.46,529.22 L589.89,529.26 L590.32,529.31 L590.75,529.35 L591.18,529.4 L591.61,529.45 L592.04,529.51 L592.47,529.56 L592.9,529.62 L593.33,529.68 L593.76,529.74 L594.19,529.8 L594.62,529.86 L595.05,529.93 L595.48,530 L595.9,530.06 L596.33,530.13 L596.76,530.21 L597.19,530.28 L597.62,530.35 L598.05,530.43 L598.47,530.51 L598.9,530.59 L599.33,530.67 L599.75,530.75 L600.18,530.84 L600.61,530.92 L601.03,531.01 L601.46,531.1 L601.88,531.19 L602.31,531.28 L602.73,531.37 L603.16,531.46 L603.58,531.56 L604.01,531.65 L604.43,531.75 L604.85,531.85 L605.27,531.95 L605.7,532.05 L606.12,532.15 L606.54,532.25 L606.96,532.35 L607.38,532.46 L607.8,532.56 L608.22,532.67 L608.64,532.78 L609.06,532.89 L609.47,533 L609.89,533.11 L610.31,533.22 L610.73,533.33 L611.14,533.44 L611.56,533.56 L611.97,533.67 L612.39,533.79 L612.8,533.91 L613.21,534.02 L613.63,534.14 L614.04,534.26 L614.45,534.38 L614.86,534.5 L615.27,534.62 L615.69,534.74 L616.1,534.86 L616.51,534.99 L616.92,535.11 L617.33,535.23 L617.73,535.36 L618.14,535.48 L618.55,535.61 L618.96,535.74 L619.37,535.86 L619.77,535.99 L620.18,536.12 L620.59,536.25 L620.99,536.38 L621.4,536.51 L621.81,536.64 L622.21,536.77 L622.62,536.9 L623.02,537.03 L623.43,537.16 L623.83,537.29 L624.24,537.43 L624.64,537.56 L625.04,537.69 L625.45,537.82 L625.85,537.96 L626.25,538.09 L626.66,538.23 L627.06,538.36 L627.46,538.5 L627.87,538.63 L628.27,538.77 L628.67,538.9 L629.07,539.04 L629.48,539.17 L629.88,539.31 L630.28,539.44 L630.68,539.58 L631.08,539.72 L631.49,539.85 L631.89,539.99 L632.29,540.12 L632.69,540.26 L633.09,540.4 L633.49,540.53 L633.9,540.67 L634.3,540.81 L634.7,540.94 L635.1,541.08 L635.5,541.21 L635.9,541.35 L636.3,541.48 L636.71,541.62 L637.11,541.76 L637.51,541.89 L637.91,542.03 L638.31,542.16 L638.72,542.3 L639.12,542.43 L639.52,542.56 L639.92,542.7 L640.32,542.83 L640.73,542.97 L641.13,543.1 L641.53,543.23 L641.94,543.36 L642.34,543.5 L642.74,543.63 L643.15,543.76 L643.55,543.89 L643.95,544.02 L644.36,544.15 L644.76,544.28 L645.17,544.41 L645.57,544.54 L645.98,544.67 L646.38,544.79 L646.79,544.92 L647.19,545.05 L647.6,545.17 L648.01,545.3 L648.41,545.42 L648.82,545.55 L649.23,545.67 L649.63,545.79 L650.04,545.92 L650.45,546.04 L650.86,546.16 L651.27,546.28 L651.68,546.4 L652.09,546.52 L652.5,546.64 L652.91,546.75 L653.32,546.87 L653.73,546.99 L654.14,547.1 L654.55,547.22 L654.96,547.33 L655.38,547.44 L655.79,547.55 L656.21,547.66 L656.62,547.77 L657.03,547.88 L657.45,547.99 L657.87,548.1 L658.28,548.2 L658.7,548.31 L659.12,548.41 L659.53,548.51 L659.95,548.62 L660.37,548.72 L660.79,548.82 L661.21,548.92 L661.63,549.01 L662.05,549.11 L662.47,549.2 L662.9,549.3 L663.32,549.39 L663.74,549.48 L664.17,549.57 L664.59,549.66 L665.02,549.75 L665.44,549.84 L665.87,549.92 L666.3,550.01 L666.73,550.09 L667.15,550.17 L667.58,550.26 L668.01,550.33 L668.44,550.41 L668.88,550.49 L669.31,550.56 L669.74,550.64 L670.18,550.71 L670.61,550.78 L671.05,550.85 L671.48,550.92 L671.92,550.98" fill="none" stroke="#c80000" stroke-width="2.9" stroke-linejoin="round" clip-path="url(#cd)"/>
<path d="M388.68,659.44 L389.21,659.42 L389.75,659.41 L390.28,659.39 L390.82,659.38 L391.35,659.36 L391.89,659.35 L392.42,659.34 L392.96,659.33 L393.49,659.31 L394.03,659.3 L394.57,659.29 L395.1,659.28 L395.64,659.28 L396.18,659.27 L396.71,659.26 L397.25,659.25 L397.79,659.25 L398.33,659.24 L398.87,659.24 L399.41,659.23 L399.94,659.23 L400.48,659.22 L401.02,659.22 L401.56,659.22 L402.1,659.22 L402.64,659.21 L403.18,659.21 L403.72,659.21 L404.26,659.21 L404.8,659.21 L405.34,659.21 L405.88,659.21 L406.42,659.21 L406.97,659.21 L407.51,659.21 L408.05,659.21 L408.59,659.22 L409.13,659.22 L409.67,659.22 L410.22,659.22 L410.76,659.22 L411.3,659.23 L411.84,659.23 L412.38,659.23 L412.93,659.24 L413.47,659.24 L414.01,659.24 L414.56,659.24 L415.1,659.25 L415.64,659.25 L416.19,659.25 L416.73,659.26 L417.27,659.26 L417.82,659.26 L418.36,659.26 L418.9,659.27 L419.45,659.27 L419.99,659.27 L420.54,659.27 L421.08,659.28 L421.62,659.28 L422.17,659.28 L422.71,659.28 L423.26,659.28 L423.8,659.28 L424.34,659.28 L424.89,659.28 L425.43,659.28 L425.98,659.28 L426.52,659.28 L427.07,659.28 L427.61,659.28 L428.16,659.28 L428.7,659.28 L429.25,659.28 L429.79,659.27 L430.34,659.27 L430.88,659.27 L431.43,659.26 L431.97,659.26 L432.52,659.25 L433.06,659.25 L433.61,659.24 L434.15,659.23 L434.69,659.23 L435.24,659.22 L435.78,659.21 L436.33,659.2 L436.87,659.19 L437.42,659.18 L437.96,659.17 L438.51,659.15 L439.05,659.14 L439.6,659.13 L440.14,659.11 L440.69,659.1 L441.23,659.08 L441.77,659.07 L442.32,659.05 L442.86,659.03 L443.41,659.01 L443.95,658.99 L444.5,658.97 L445.04,658.95 L445.58,658.93 L446.13,658.9 L446.67,658.88 L447.21,658.85 L447.76,658.82 L448.3,658.8 L448.84,658.77 L449.39,658.74 L449.93,658.71 L450.47,658.68 L451.02,658.64 L451.56,658.61 L452.1,658.57 L452.65,658.54 L453.19,658.5 L453.73,658.46 L454.27,658.43 L454.81,658.39 L455.36,658.34 L455.9,658.3 L456.44,658.26 L456.98,658.21 L457.52,658.17 L458.06,658.12 L458.6,658.07 L459.14,658.03 L459.69,657.98 L460.23,657.93 L460.77,657.87 L461.31,657.82 L461.85,657.77 L462.39,657.71 L462.93,657.65 L463.47,657.6 L464,657.54 L464.54,657.48 L465.08,657.42 L465.62,657.35 L466.16,657.29 L466.7,657.23 L467.24,657.16 L467.77,657.09 L468.31,657.03 L468.85,656.96 L469.38,656.89 L469.92,656.81 L470.46,656.74 L470.99,656.67 L471.53,656.59 L472.07,656.52 L472.6,656.44 L473.14,656.36 L473.67,656.28 L474.21,656.2 L474.74,656.12 L475.28,656.03 L475.81,655.95 L476.34,655.86 L476.88,655.77 L477.41,655.68 L477.94,655.59 L478.48,655.5 L479.01,655.41 L479.54,655.31 L480.07,655.22 L480.61,655.12 L481.14,655.03 L481.67,654.93 L482.2,654.83 L482.73,654.72 L483.26,654.62 L483.79,654.52 L484.32,654.41 L484.85,654.3 L485.38,654.19 L485.9,654.08 L486.43,653.97 L486.96,653.86 L487.49,653.75 L488.01,653.63 L488.54,653.51 L489.07,653.4 L489.59,653.28 L490.12,653.16 L490.64,653.03 L491.17,652.91 L491.69,652.79 L492.22,652.66 L492.74,652.53 L493.26,652.4 L493.79,652.27 L494.31,652.13 L494.83,651.99 L495.35,651.85 L495.87,651.71 L496.39,651.57 L496.9,651.42 L497.42,651.27 L497.94,651.12 L498.45,650.97 L498.97,650.81 L499.48,650.65 L499.99,650.48 L500.5,650.32 L501.01,650.15 L501.52,649.97 L502.03,649.8 L502.53,649.62 L503.04,649.43 L503.54,649.24 L504.04,649.05 L504.55,648.85 L505.04,648.65 L505.54,648.45 L506.04,648.24 L506.53,648.03 L507.03,647.81 L507.52,647.59 L508.01,647.36 L508.5,647.13 L508.98,646.9 L509.47,646.66 L509.95,646.41 L510.43,646.16 L510.91,645.9 L511.39,645.64 L511.86,645.37 L512.33,645.1 L512.81,644.82 L513.27,644.54 L513.74,644.25 L514.21,643.96 L514.67,643.66 L515.13,643.36 L515.59,643.05 L516.04,642.74 L516.49,642.43 L516.95,642.11 L517.39,641.78 L517.84,641.45 L518.28,641.12 L518.72,640.78 L519.16,640.44 L519.6,640.1 L520.03,639.75 L520.46,639.4 L520.89,639.04 L521.31,638.68 L521.73,638.32 L522.15,637.96 L522.57,637.59 L522.98,637.22 L523.39,636.84 L523.8,636.47 L524.2,636.09 L524.6,635.71 L525,635.32 L525.4,634.94 L525.79,634.55 L526.18,634.16 L526.56,633.77 L526.94,633.37 L527.32,632.98 L527.7,632.58 L528.07,632.18 L528.44,631.78 L528.8,631.38 L529.17,630.97 L529.53,630.57 L529.88,630.16 L530.24,629.75 L530.59,629.34 L530.94,628.93 L531.29,628.52 L531.63,628.1 L531.97,627.69 L532.31,627.27 L532.65,626.85 L532.99,626.43 L533.32,626.01 L533.66,625.59 L533.99,625.17 L534.31,624.75 L534.64,624.32 L534.97,623.89 L535.29,623.47 L535.61,623.04 L535.93,622.61 L536.25,622.18 L536.57,621.75 L536.89,621.32 L537.21,620.89 L537.52,620.46 L537.84,620.02 L538.15,619.59 L538.46,619.16 L538.77,618.72 L539.08,618.29 L539.4,617.85 L539.71,617.41 L540.02,616.98 L540.33,616.54 L540.63,616.1 L540.94,615.66 L541.25,615.23 L541.56,614.79 L541.87,614.35 L542.18,613.91 L542.49,613.47 L542.8,613.03 L543.11,612.59 L543.42,612.15 L543.73,611.71 L544.04,611.28 L544.36,610.84 L544.67,610.4 L544.98,609.96 L545.3,609.52 L545.61,609.08 L545.93,608.64 L546.25,608.21 L546.57,607.77 L546.89,607.33 L547.21,606.9 L547.54,606.46 L547.86,606.02 L548.19,605.59 L548.51,605.15 L548.84,604.72 L549.18,604.29 L549.51,603.85 L549.85,603.42 L550.18,602.99 L550.52,602.56 L550.86,602.13 L551.21,601.7 L551.55,601.27 L551.9,600.85 L552.26,600.42 L552.61,600 L552.97,599.57 L553.33,599.15 L553.69,598.73 L554.05,598.31 L554.42,597.89 L554.79,597.47 L555.17,597.05 L555.54,596.63 L555.92,596.22 L556.31,595.81 L556.69,595.39 L557.08,594.99 L557.48,594.58 L557.87,594.17 L558.27,593.77 L558.67,593.37 L559.08,592.98 L559.49,592.59 L559.9,592.2 L560.31,591.82 L560.73,591.44 L561.15,591.07 L561.57,590.7 L562,590.34 L562.42,589.98 L562.85,589.63 L563.29,589.28 L563.72,588.94 L564.16,588.61 L564.6,588.28 L565.04,587.96 L565.49,587.65 L565.93,587.34 L566.38,587.05 L566.84,586.76 L567.29,586.48 L567.75,586.21 L568.21,585.95 L568.67,585.69 L569.13,585.45 L569.6,585.22 L570.06,584.99 L570.53,584.78 L571,584.57 L571.48,584.38 L571.95,584.2 L572.43,584.03 L572.91,583.87 L573.39,583.72 L573.87,583.59 L574.35,583.47 L574.84,583.36 L575.33,583.26 L575.82,583.18 L576.31,583.1 L576.8,583.05 L577.29,583 L577.79,582.98 L578.28,582.96 L578.78,582.96 L579.28,582.98 L579.78,583.01 L580.28,583.05 L580.78,583.11 L581.27,583.19 L581.77,583.29 L582.27,583.4 L582.76,583.52 L583.25,583.67 L583.75,583.83 L584.23,584.01 L584.72,584.2 L585.2,584.42 L585.68,584.65 L586.16,584.9 L586.63,585.16 L587.1,585.43 L587.57,585.71 L588.04,586 L588.5,586.31 L588.97,586.62 L589.42,586.93 L589.88,587.25 L590.34,587.58 L590.79,587.9 L591.24,588.23 L591.69,588.57 L592.14,588.9 L592.59,589.24 L593.04,589.58 L593.48,589.93 L593.92,590.27 L594.37,590.62 L594.81,590.97 L595.25,591.32 L595.69,591.67 L596.12,592.02 L596.56,592.38 L597,592.73 L597.44,593.09 L597.87,593.44 L598.31,593.8 L598.74,594.15 L599.18,594.5 L599.61,594.86 L600.05,595.21 L600.49,595.56 L600.92,595.91 L601.36,596.26 L601.79,596.61 L602.23,596.96 L602.67,597.3 L603.11,597.64 L603.54,597.99 L603.98,598.32 L604.42,598.66 L604.86,599 L605.3,599.33 L605.74,599.66 L606.19,599.99 L606.63,600.32 L607.07,600.65 L607.51,600.98 L607.96,601.3 L608.4,601.62 L608.85,601.94 L609.29,602.26 L609.74,602.58 L610.18,602.89 L610.63,603.21 L611.08,603.52 L611.52,603.83 L611.97,604.14 L612.42,604.45 L612.87,604.75 L613.32,605.06 L613.77,605.36 L614.22,605.66 L614.68,605.96 L615.13,606.26 L615.58,606.55 L616.04,606.84 L616.49,607.14 L616.95,607.43 L617.4,607.72 L617.86,608 L618.31,608.29 L618.77,608.57 L619.23,608.86 L619.69,609.14 L620.15,609.42 L620.61,609.69 L621.07,609.97 L621.53,610.25 L621.99,610.52 L622.46,610.79 L622.92,611.06 L623.38,611.33 L623.85,611.59 L624.31,611.86 L624.78,612.12 L625.25,612.39 L625.71,612.65 L626.18,612.9 L626.65,613.16 L627.12,613.42 L627.59,613.67 L628.06,613.92 L628.53,614.18 L629.01,614.42 L629.48,614.67 L629.95,614.92 L630.43,615.16 L630.9,615.41 L631.38,615.65 L631.86,615.89 L632.33,616.13 L632.81,616.37 L633.29,616.6 L633.77,616.84 L634.25,617.07 L634.73,617.3 L635.21,617.53 L635.7,617.76 L636.18,617.98 L636.67,618.21 L637.15,618.43 L637.64,618.66 L638.12,618.88 L638.61,619.1 L639.1,619.31 L639.59,619.53 L640.08,619.74 L640.57,619.96 L641.06,620.17 L641.55,620.38 L642.05,620.59 L642.54,620.8 L643.04,621 L643.53,621.21 L644.03,621.41 L644.53,621.61 L645.03,621.81 L645.53,622.01 L646.03,622.21 L646.53,622.41 L647.03,622.6 L647.53,622.79 L648.04,622.99 L648.54,623.18 L649.05,623.37 L649.55,623.55 L650.06,623.74 L650.57,623.92 L651.08,624.11 L651.59,624.29 L652.1,624.47 L652.61,624.65 L653.12,624.83 L653.64,625 L654.15,625.18 L654.67,625.35 L655.18,625.53 L655.7,625.7 L656.22,625.87 L656.74,626.03 L657.26,626.2 L657.78,626.37 L658.3,626.53 L658.82,626.69 L659.35,626.86 L659.87,627.02 L660.4,627.17 L660.93,627.33 L661.46,627.49 L661.98,627.64 L662.51,627.8 L663.05,627.95 L663.58,628.1 L664.11,628.25 L664.64,628.4 L665.18,628.55 L665.72,628.69 L666.25,628.84 L666.79,628.98 L667.33,629.12 L667.87,629.26 L668.41,629.4 L668.95,629.54 L669.5,629.67 L670.04,629.81 L670.59,629.94 L671.13,630.08 L671.68,630.21 L672.23,630.34" fill="none" stroke="#0000c8" stroke-width="2.9" stroke-linejoin="round" clip-path="url(#cd)"/>
<rect x="558" y="415.5" width="106.5" height="88.3" fill="#fff" stroke="none"/>
<line x1="565.68" y1="415.5" x2="565.68" y2="417.1" stroke="#909090" stroke-width="0.7"/>
<line x1="569.76" y1="415.5" x2="569.76" y2="417.1" stroke="#909090" stroke-width="0.7"/>
<line x1="573.84" y1="415.5" x2="573.84" y2="417.1" stroke="#909090" stroke-width="0.7"/>
<line x1="577.92" y1="415.5" x2="577.92" y2="417.1" stroke="#909090" stroke-width="0.7"/>
<line x1="582" y1="415.5" x2="582" y2="418.1" stroke="#909090" stroke-width="0.7"/>
<line x1="586.08" y1="415.5" x2="586.08" y2="417.1" stroke="#909090" stroke-width="0.7"/>
<line x1="590.16" y1="415.5" x2="590.16" y2="417.1" stroke="#909090" stroke-width="0.7"/>
<line x1="594.24" y1="415.5" x2="594.24" y2="417.1" stroke="#909090" stroke-width="0.7"/>
<line x1="598.32" y1="415.5" x2="598.32" y2="417.1" stroke="#909090" stroke-width="0.7"/>
<line x1="602.4" y1="415.5" x2="602.4" y2="418.1" stroke="#909090" stroke-width="0.7"/>
<line x1="606.48" y1="415.5" x2="606.48" y2="417.1" stroke="#909090" stroke-width="0.7"/>
<line x1="610.56" y1="415.5" x2="610.56" y2="417.1" stroke="#909090" stroke-width="0.7"/>
<line x1="614.64" y1="415.5" x2="614.64" y2="417.1" stroke="#909090" stroke-width="0.7"/>
<line x1="618.72" y1="415.5" x2="618.72" y2="417.1" stroke="#909090" stroke-width="0.7"/>
<line x1="622.8" y1="415.5" x2="622.8" y2="418.1" stroke="#909090" stroke-width="0.7"/>
<line x1="626.88" y1="415.5" x2="626.88" y2="417.1" stroke="#909090" stroke-width="0.7"/>
<line x1="630.96" y1="415.5" x2="630.96" y2="417.1" stroke="#909090" stroke-width="0.7"/>
<line x1="635.04" y1="415.5" x2="635.04" y2="417.1" stroke="#909090" stroke-width="0.7"/>
<line x1="639.12" y1="415.5" x2="639.12" y2="417.1" stroke="#909090" stroke-width="0.7"/>
<line x1="643.2" y1="415.5" x2="643.2" y2="418.1" stroke="#909090" stroke-width="0.7"/>
<line x1="647.28" y1="415.5" x2="647.28" y2="417.1" stroke="#909090" stroke-width="0.7"/>
<line x1="651.36" y1="415.5" x2="651.36" y2="417.1" stroke="#909090" stroke-width="0.7"/>
<line x1="655.44" y1="415.5" x2="655.44" y2="417.1" stroke="#909090" stroke-width="0.7"/>
<line x1="659.52" y1="415.5" x2="659.52" y2="417.1" stroke="#909090" stroke-width="0.7"/>
<line x1="664.5" y1="499.79" x2="662.9" y2="499.79" stroke="#909090" stroke-width="0.7"/>
<line x1="664.5" y1="495.77" x2="662.9" y2="495.77" stroke="#909090" stroke-width="0.7"/>
<line x1="664.5" y1="491.76" x2="662.9" y2="491.76" stroke="#909090" stroke-width="0.7"/>
<line x1="664.5" y1="487.75" x2="662.9" y2="487.75" stroke="#909090" stroke-width="0.7"/>
<line x1="664.5" y1="483.73" x2="661.9" y2="483.73" stroke="#909090" stroke-width="0.7"/>
<line x1="664.5" y1="479.72" x2="662.9" y2="479.72" stroke="#909090" stroke-width="0.7"/>
<line x1="664.5" y1="475.7" x2="662.9" y2="475.7" stroke="#909090" stroke-width="0.7"/>
<line x1="664.5" y1="471.69" x2="662.9" y2="471.69" stroke="#909090" stroke-width="0.7"/>
<line x1="664.5" y1="467.68" x2="662.9" y2="467.68" stroke="#909090" stroke-width="0.7"/>
<line x1="664.5" y1="463.66" x2="661.9" y2="463.66" stroke="#909090" stroke-width="0.7"/>
<line x1="664.5" y1="459.65" x2="662.9" y2="459.65" stroke="#909090" stroke-width="0.7"/>
<line x1="664.5" y1="455.64" x2="662.9" y2="455.64" stroke="#909090" stroke-width="0.7"/>
<line x1="664.5" y1="451.62" x2="662.9" y2="451.62" stroke="#909090" stroke-width="0.7"/>
<line x1="664.5" y1="447.61" x2="662.9" y2="447.61" stroke="#909090" stroke-width="0.7"/>
<line x1="664.5" y1="443.6" x2="661.9" y2="443.6" stroke="#909090" stroke-width="0.7"/>
<line x1="664.5" y1="439.58" x2="662.9" y2="439.58" stroke="#909090" stroke-width="0.7"/>
<line x1="664.5" y1="435.57" x2="662.9" y2="435.57" stroke="#909090" stroke-width="0.7"/>
<line x1="664.5" y1="431.55" x2="662.9" y2="431.55" stroke="#909090" stroke-width="0.7"/>
<line x1="664.5" y1="427.54" x2="662.9" y2="427.54" stroke="#909090" stroke-width="0.7"/>
<line x1="664.5" y1="423.53" x2="661.9" y2="423.53" stroke="#909090" stroke-width="0.7"/>
<line x1="664.5" y1="419.51" x2="662.9" y2="419.51" stroke="#909090" stroke-width="0.7"/>
<line x1="561.6" y1="503.8" x2="561.6" y2="501.2" stroke="#808080" stroke-width="0.8"/>
<line x1="612.6" y1="503.8" x2="612.6" y2="501.2" stroke="#808080" stroke-width="0.8"/>
<line x1="663.6" y1="503.8" x2="663.6" y2="501.2" stroke="#808080" stroke-width="0.8"/>
<rect x="558" y="415.5" width="106.5" height="88.3" fill="none" stroke="#a8a8a8" stroke-width="1"/>
<g clip-path="url(#id)" fill="#fff" stroke="#000" stroke-width="1.85"><circle cx="561.6" cy="466.3" r="2.95"/><circle cx="568" cy="466.35" r="2.95"/><circle cx="574.4" cy="466.6" r="2.95"/><circle cx="580.8" cy="466.9" r="2.95"/><circle cx="587.2" cy="467.2" r="2.95"/><circle cx="593.6" cy="467.5" r="2.95"/><circle cx="600" cy="467.8" r="2.95"/><circle cx="606.4" cy="468.2" r="2.95"/><circle cx="612.8" cy="468.6" r="2.95"/><circle cx="619.2" cy="469" r="2.95"/><circle cx="625.6" cy="469.5" r="2.95"/><circle cx="632" cy="469.9" r="2.95"/><circle cx="638.4" cy="470.4" r="2.95"/><circle cx="644.8" cy="471" r="2.95"/><circle cx="651.2" cy="471.7" r="2.95"/><circle cx="657.6" cy="472.4" r="2.95"/><circle cx="664" cy="473.3" r="2.95"/></g>
<rect x="568.8" y="414" width="23.3" height="5.5" fill="#fff"/>
<text x="520.87" y="419.9" style="font-size:18.6px;" >0.01</text>
<text x="544.01" y="507.5" style="font-size:18.6px;" >0</text>
<text x="557.15" y="521.3" style="font-size:18.6px;" >0</text>
<text x="652.08" y="521.1" style="font-size:18.6px;" >0.5</text>
<text x="569.06" y="432.6" style="font-size:20.5px;font-style:italic;" >C</text>
<text x="583.95" y="434.7" style="font-size:14px;font-style:italic;" >ρ</text>
<text x="597.89" y="521.3" style="font-size:15.5px;font-style:italic;" >ω</text>
<text x="609.25" y="524" style="font-size:12.5px;font-style:italic;" >n</text>
<line x1="622.1" y1="510.1" x2="617.1" y2="523.8" stroke="#000" stroke-width="1.15"/>
<text x="622.84" y="521.3" style="font-size:16.5px;" >t</text></svg></body></html>
